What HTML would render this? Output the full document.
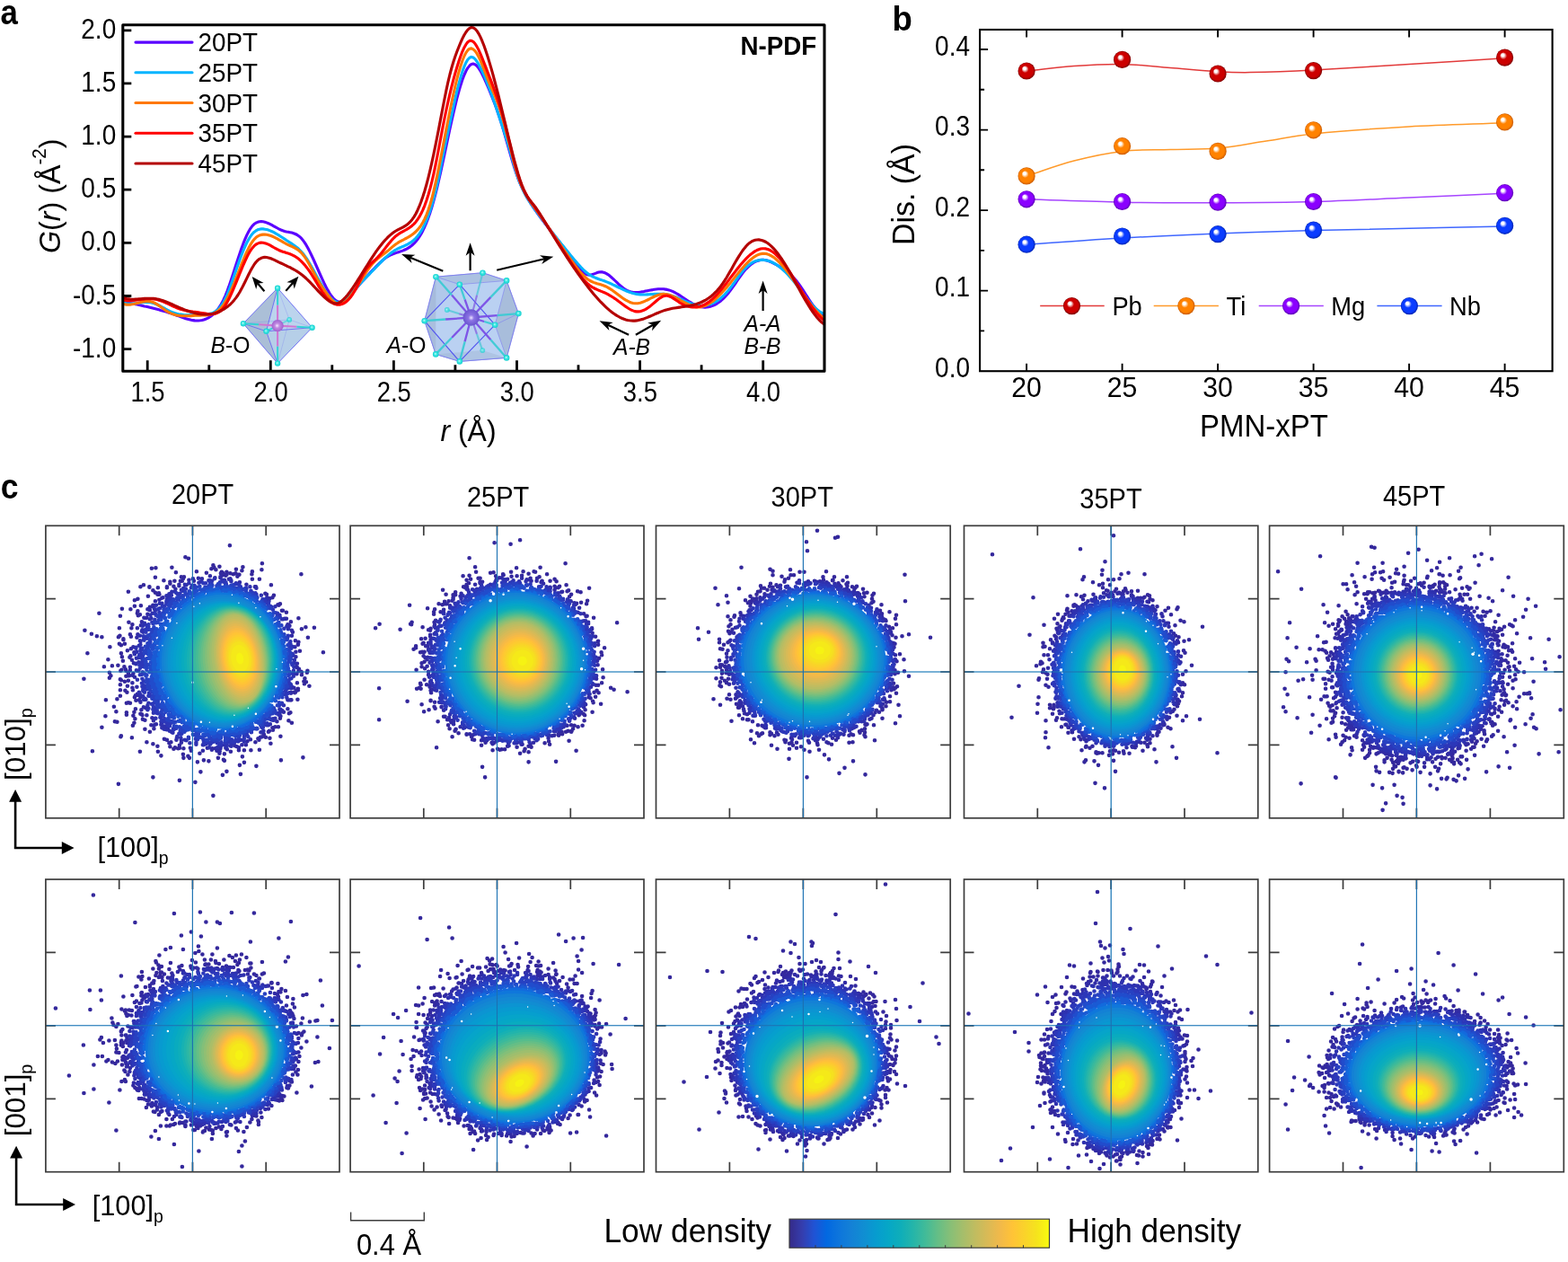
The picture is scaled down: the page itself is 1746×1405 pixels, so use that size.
<!DOCTYPE html>
<html lang="en"><head><meta charset="utf-8"><title>Figure</title>
<style>html,body{margin:0;padding:0;background:#fff}svg{display:block}text{font-family:"Liberation Sans",sans-serif;fill:#000}</style></head><body>
<svg width="1746" height="1405" viewBox="0 0 1746 1405">
<rect width="1746" height="1405" fill="#fff"/>
<g id="pa">
<clipPath id="ca"><rect x="136.8" y="27.7" width="781.2" height="385.5"/></clipPath>
<path d="M164.2 413.2v-12M301.3 413.2v-12M438.4 413.2v-12M575.5 413.2v-12M712.6 413.2v-12M849.7 413.2v-12M232.8 413.2v-7M369.8 413.2v-7M506.9 413.2v-7M644 413.2v-7M781.1 413.2v-7M136.8 33.8h9.5M136.8 92.9h9.5M136.8 152.1h9.5M136.8 211.2h9.5M136.8 270.4h9.5M136.8 329.5h9.5M136.8 388.7h9.5" stroke="#000" stroke-width="2.8" fill="none"/>
<g clip-path="url(#ca)" fill="none" stroke-width="3.1" stroke-linejoin="round" stroke-linecap="round">
<path d="M136.9 335.9l2 0.4 2 0.4 2 0.4 2 0.4 2 0.4 2 0.4 2 0.4 2 0.4 2 0.5 2 0.4 2 0.4 2 0.5 2 0.4 2 0.5 2 0.5 2 0.5 2 0.5 2 0.5 2 0.5 2 0.5 2 0.6 2 0.5 2 0.6 2 0.6 2 0.7 2 0.6 2 0.7 2 0.6 2 0.7 2 0.8 2 0.7 2 0.7 2 0.8 2 0.7 2 0.6 2 0.6 2 0.5 2 0.5 2 0.3 2 0.3 2 0.1 2 0 2 -0.2 2 -0.3 2 -0.5 2 -0.7 2 -0.9 2 -1.1 2 -1.3 2 -1.6 2 -1.8 2 -2.2 2 -2.5 2 -2.9 2 -3.4 2 -3.9 2 -4.4 2 -5 2 -5.4 2 -5.8 2 -6.1 2 -6.2 2 -6.2 2 -6.2 2 -6 2 -5.8 2 -5.4 2 -5 2 -4.6 2 -3.9 2 -3.4 2 -2.7 2 -2 2 -1.4 2 -0.9 2 -0.5 2 -0.2 2 0.2 2 0.4 2 0.7 2 0.8 2 0.9 2 1.1 2 1.1 2 1.1 2 1.1 2 1.1 2 0.9 2 0.8 2 0.6 2 0.5 2 0.4 2 0.4 2 0.4 2 0.6 2 0.8 2 1 2 1.4 2 1.7 2 2.3 2 2.7 2 3.1 2 3.6 2 3.8 2 4.1 2 4.3 2 4.5 2 4.5 2 4.5 2 4.5 2 4.4 2 4.3 2 4 2 3.7 2 3.4 2 3 2 2.5 2 2 2 1.4 2 0.8 2 0.2 2 -0.4 2 -0.9 2 -1.3 2 -1.6 2 -2 2 -2.1 2 -2.3 2 -2.4 2 -2.5 2 -2.3 2 -2.3 2 -2.3 2 -2.2 2 -2.2 2 -2.2 2 -2.1 2 -2.2 2 -2.1 2 -2.1 2 -2.1 2 -2 2 -1.9 2 -1.9 2 -1.7 2 -1.6 2 -1.4 2 -1.2 2 -1 2 -0.9 2 -0.7 2 -0.7 2 -0.7 2 -0.6 2 -0.7 2 -0.7 2 -0.9 2 -0.9 2 -1.2 2 -1.3 2 -1.6 2 -1.8 2 -2.2 2 -2.5 2 -2.8 2 -3.3 2 -3.7 2 -4.2 2 -4.7 2 -5.2 2 -5.7 2 -6.4 2 -6.9 2 -7.5 2 -8 2 -8.6 2 -8.9 2 -9.2 2 -9.3 2 -9.5 2 -9.4 2 -9.4 2 -9.1 2 -8.9 2 -8.5 2 -8.1 2 -7.4 2 -6.9 2 -6.1 2 -5.3 2 -4.4 2 -3.5 2 -2.5 2 -1.5 2 -0.5 2 0.6 2 1.6 2 2.4 2 3.1 2 3.7 2 4.2 2 4.4 2 4.6 2 4.8 2 4.8 2 5 2 5.2 2 5.5 2 5.7 2 6 2 6.4 2 6.7 2 6.9 2 7 2 7.1 2 7 2 6.7 2 6.5 2 6 2 5.6 2 5 2 4.6 2 4.2 2 3.9 2 3.6 2 3.3 2 3.2 2 3 2 2.9 2 2.9 2 2.8 2 2.8 2 2.7 2 2.6 2 2.7 2 2.6 2 2.6 2 2.5 2 2.6 2 2.5 2 2.6 2 2.5 2 2.6 2 2.6 2 2.5 2 2.6 2 2.7 2 2.6 2 2.7 2 2.7 2 2.8 2 2.7 2 2.7 2 2.5 2 2.2 2 2 2 1.6 2 1.2 2 0.6 2 0.1 2 -0.3 2 -0.7 2 -0.7 2 -0.8 2 -0.6 2 -0.2 2 0.1 2 0.6 2 0.9 2 1.2 2 1.5 2 1.7 2 1.8 2 1.9 2 1.9 2 1.9 2 1.8 2 1.7 2 1.6 2 1.3 2 1 2 0.8 2 0.6 2 0.3 2 0.2 2 0 2 -0.1 2 -0.3 2 -0.3 2 -0.3 2 -0.5 2 -0.4 2 -0.4 2 -0.4 2 -0.3 2 -0.4 2 -0.2 2 -0.2 2 -0.1 2 0 2 0.1 2 0.3 2 0.3 2 0.5 2 0.7 2 0.8 2 1 2 1.1 2 1.1 2 1.3 2 1.3 2 1.3 2 1.4 2 1.3 2 1.3 2 1.2 2 1.2 2 1.1 2 0.9 2 0.8 2 0.6 2 0.4 2 0.3 2 0.1 2 -0.1 2 -0.3 2 -0.4 2 -0.7 2 -0.8 2 -1 2 -1.2 2 -1.4 2 -1.5 2 -1.8 2 -2 2 -2.1 2 -2.4 2 -2.5 2 -2.7 2 -2.8 2 -2.9 2 -3 2 -2.9 2 -2.8 2 -2.7 2 -2.5 2 -2.3 2 -2 2 -1.8 2 -1.6 2 -1.4 2 -1.1 2 -0.9 2 -0.6 2 -0.4 2 -0.1 2 0 2 0.4 2 0.5 2 0.7 2 0.8 2 1 2 1.1 2 1.1 2 1.2 2 1.2 2 1.3 2 1.3 2 1.4 2 1.5 2 1.6 2 1.8 2 2 2 2.1 2 2.4 2 2.6 2 2.8 2 2.9 2 3.1 2 3.1 2 3.1 2 3.1 2 3 2 2.9 2 2.6 2 2.4 2 2.2 2 1.8 2 1.4 2 1 1.5 0.4" stroke="#5a00ff"/>
<path d="M136.9 336.6l2 0.6 2 0.5 2 0.3 2 0.1 2 -0.1 2 -0.1 2 -0.2 2 -0.2 2 -0.3 2 -0.2 2 -0.3 2 -0.2 2 0 2 0 2 0.1 2 0.4 2 0.5 2 0.7 2 0.8 2 1 2 1 2 1.1 2 1.1 2 1.1 2 1.1 2 1 2 0.9 2 0.8 2 0.6 2 0.6 2 0.5 2 0.3 2 0.3 2 0.3 2 0.1 2 0.1 2 0 2 0 2 0 2 -0.1 2 -0.1 2 -0.1 2 -0.1 2 -0.2 2 -0.1 2 -0.1 2 -0.2 2 -0.3 2 -0.5 2 -0.7 2 -1 2 -1.3 2 -1.8 2 -2.1 2 -2.7 2 -3.2 2 -3.8 2 -4.4 2 -4.9 2 -5.3 2 -5.6 2 -5.8 2 -5.8 2 -5.7 2 -5.7 2 -5.3 2 -5 2 -4.6 2 -4.3 2 -3.7 2 -3.2 2 -2.7 2 -2.1 2 -1.5 2 -1.1 2 -0.6 2 -0.3 2 0 2 0.3 2 0.4 2 0.5 2 0.8 2 0.8 2 1 2 1.1 2 1.2 2 1.2 2 1.3 2 1.3 2 1.3 2 1.4 2 1.3 2 1.3 2 1.3 2 1.3 2 1.5 2 1.5 2 1.8 2 2 2 2.2 2 2.6 2 2.8 2 3.1 2 3.3 2 3.5 2 3.6 2 3.6 2 3.7 2 3.6 2 3.6 2 3.5 2 3.3 2 3.1 2 2.8 2 2.5 2 2.1 2 1.8 2 1.3 2 0.9 2 0.2 2 -0.2 2 -0.7 2 -1.1 2 -1.5 2 -1.7 2 -2 2 -2.1 2 -2.3 2 -2.3 2 -2.3 2 -2.3 2 -2.1 2 -2.2 2 -2.1 2 -2 2 -2.1 2 -2 2 -2.1 2 -2 2 -2.1 2 -2.1 2 -2.1 2 -2.1 2 -2 2 -2 2 -1.9 2 -1.8 2 -1.8 2 -1.6 2 -1.5 2 -1.3 2 -1.2 2 -1.1 2 -0.9 2 -0.9 2 -0.8 2 -0.9 2 -0.9 2 -1.1 2 -1.2 2 -1.4 2 -1.6 2 -1.9 2 -2.3 2 -2.6 2 -3 2 -3.5 2 -4 2 -4.5 2 -5.1 2 -5.7 2 -6.3 2 -7.1 2 -7.7 2 -8.5 2 -9.2 2 -10 2 -10.3 2 -10.1 2 -9.5 2 -9.2 2 -9.2 2 -9.3 2 -9.5 2 -9.1 2 -8.5 2 -7.9 2 -7.1 2 -6.5 2 -5.5 2 -4.5 2 -3.3 2 -2.1 2 -0.8 2 0.6 2 1.6 2 2.6 2 3.2 2 3.8 2 4.1 2 4.4 2 4.6 2 5 2 5.1 2 5.4 2 5.6 2 5.7 2 5.8 2 6 2 6 2 6.1 2 6.2 2 6.3 2 6.4 2 6.7 2 7 2 7.1 2 6.9 2 6.6 2 5.9 2 5.4 2 4.8 2 4.3 2 3.9 2 3.5 2 3.2 2 3.1 2 2.9 2 2.8 2 2.8 2 2.8 2 2.7 2 2.7 2 2.7 2 2.7 2 2.6 2 2.6 2 2.6 2 2.6 2 2.5 2 2.6 2 2.5 2 2.5 2 2.5 2 2.4 2 2.5 2 2.4 2 2.4 2 2.5 2 2.4 2 2.4 2 2.3 2 2.4 2 2.2 2 2.2 2 2.1 2 1.9 2 1.7 2 1.6 2 1.4 2 1.1 2 1 2 0.9 2 0.8 2 0.8 2 0.6 2 0.7 2 0.7 2 0.8 2 0.8 2 0.8 2 0.9 2 1 2 0.9 2 1 2 1 2 0.9 2 1 2 0.9 2 0.9 2 0.8 2 0.7 2 0.7 2 0.6 2 0.5 2 0.4 2 0.3 2 0.2 2 0.1 2 0 2 0 2 -0.1 2 -0.1 2 -0.2 2 -0.1 2 -0.1 2 -0.1 2 -0.1 2 0 2 0 2 0.1 2 0.3 2 0.3 2 0.4 2 0.6 2 0.6 2 0.7 2 0.8 2 0.8 2 0.9 2 0.8 2 0.9 2 0.9 2 0.8 2 0.8 2 0.8 2 0.7 2 0.6 2 0.5 2 0.4 2 0.2 2 0.1 2 0 2 -0.2 2 -0.3 2 -0.4 2 -0.6 2 -0.8 2 -0.9 2 -1.1 2 -1.2 2 -1.5 2 -1.5 2 -1.8 2 -1.9 2 -2.2 2 -2.3 2 -2.5 2 -2.6 2 -2.8 2 -2.8 2 -2.8 2 -2.8 2 -2.7 2 -2.5 2 -2.4 2 -2 2 -1.8 2 -1.6 2 -1.4 2 -1.1 2 -0.9 2 -0.6 2 -0.5 2 -0.3 2 0 2 0.1 2 0.2 2 0.5 2 0.6 2 0.8 2 0.9 2 1.1 2 1.3 2 1.4 2 1.5 2 1.7 2 1.8 2 1.9 2 2 2 2.2 2 2.3 2 2.3 2 2.5 2 2.6 2 2.6 2 2.7 2 2.6 2 2.7 2 2.6 2 2.6 2 2.5 2 2.4 2 2.2 2 2 2 1.9 2 1.7 2 1.4 2 1.2 2 0.8 1.5 0.5" stroke="#00b4ff"/>
<path d="M136.9 338.3l2 0.5 2 0.3 2 0.1 2 -0.1 2 -0.3 2 -0.4 2 -0.5 2 -0.5 2 -0.5 2 -0.5 2 -0.5 2 -0.3 2 -0.2 2 0 2 0.2 2 0.4 2 0.7 2 1 2 1.2 2 1.3 2 1.4 2 1.5 2 1.4 2 1.4 2 1.2 2 1.1 2 0.9 2 0.7 2 0.6 2 0.5 2 0.4 2 0.2 2 0.2 2 0.1 2 0 2 0 2 -0.1 2 -0.1 2 -0.1 2 -0.2 2 -0.1 2 -0.1 2 0 2 -0.1 2 0 2 -0.1 2 -0.1 2 -0.3 2 -0.4 2 -0.7 2 -0.8 2 -1.2 2 -1.4 2 -1.8 2 -2.2 2 -2.7 2 -3.1 2 -3.6 2 -4 2 -4.3 2 -4.7 2 -4.8 2 -5 2 -5.2 2 -5.1 2 -5.1 2 -4.9 2 -4.8 2 -4.5 2 -4.1 2 -3.7 2 -3.2 2 -2.6 2 -2 2 -1.5 2 -1.1 2 -0.6 2 -0.3 2 0 2 0.2 2 0.4 2 0.6 2 0.7 2 0.9 2 1 2 1 2 1.2 2 1.1 2 1.1 2 1.2 2 1.1 2 1 2 0.9 2 0.9 2 0.9 2 1.1 2 1.2 2 1.5 2 1.7 2 2.2 2 2.5 2 3 2 3.3 2 3.5 2 3.7 2 3.8 2 3.7 2 3.6 2 3.4 2 3.2 2 3.1 2 2.9 2 2.8 2 2.7 2 2.6 2 2.4 2 2.1 2 1.6 2 1.1 2 0.5 2 -0.1 2 -0.6 2 -1 2 -1.4 2 -1.9 2 -2.1 2 -2.5 2 -2.7 2 -2.8 2 -3.1 2 -3.1 2 -3.2 2 -3.2 2 -3.2 2 -3.1 2 -3.1 2 -2.8 2 -2.7 2 -2.4 2 -2.1 2 -1.9 2 -1.8 2 -1.6 2 -1.5 2 -1.5 2 -1.5 2 -1.6 2 -1.6 2 -1.8 2 -1.7 2 -1.6 2 -1.5 2 -1.4 2 -1.2 2 -1.1 2 -1 2 -1.1 2 -1 2 -1.2 2 -1.2 2 -1.3 2 -1.6 2 -1.7 2 -2.1 2 -2.4 2 -2.7 2 -3.3 2 -3.9 2 -4.5 2 -5.3 2 -6.1 2 -6.9 2 -7.9 2 -8.7 2 -9.3 2 -9.8 2 -10.1 2 -10.3 2 -10.4 2 -10.4 2 -10.2 2 -10 2 -9.7 2 -9.3 2 -8.8 2 -8.2 2 -7.5 2 -6.8 2 -5.9 2 -5 2 -3.9 2 -2.8 2 -1.6 2 -0.3 2 0.9 2 1.8 2 2.8 2 3.6 2 4.2 2 4.7 2 5 2 5.3 2 5.3 2 5 2 4.7 2 4.5 2 4.5 2 4.9 2 5.3 2 5.9 2 6.4 2 7 2 7.5 2 7.8 2 8.1 2 8.1 2 8 2 7.6 2 7.1 2 6.4 2 5.7 2 5 2 4.4 2 3.9 2 3.5 2 3.2 2 3 2 2.8 2 2.8 2 2.8 2 2.8 2 2.9 2 2.8 2 2.9 2 2.9 2 2.9 2 2.9 2 3 2 2.9 2 2.9 2 2.9 2 2.9 2 2.9 2 2.9 2 2.9 2 2.9 2 2.8 2 2.8 2 2.8 2 2.8 2 2.7 2 2.7 2 2.6 2 2.5 2 2.3 2 2.2 2 2 2 1.8 2 1.5 2 1.3 2 1 2 0.9 2 0.7 2 0.6 2 0.5 2 0.6 2 0.6 2 0.8 2 0.8 2 1.1 2 1.2 2 1.3 2 1.4 2 1.5 2 1.5 2 1.5 2 1.5 2 1.5 2 1.4 2 1.2 2 1.1 2 1 2 0.8 2 0.5 2 0.3 2 0 2 -0.2 2 -0.4 2 -0.6 2 -0.8 2 -0.9 2 -0.9 2 -1 2 -1.1 2 -0.9 2 -1 2 -0.8 2 -0.7 2 -0.6 2 -0.3 2 -0.2 2 0.1 2 0.3 2 0.5 2 0.7 2 0.8 2 0.9 2 1 2 1.1 2 1.1 2 1.1 2 1.1 2 1.1 2 1 2 1 2 0.8 2 0.8 2 0.5 2 0.4 2 0.2 2 0 2 -0.3 2 -0.5 2 -0.6 2 -0.9 2 -1.1 2 -1.2 2 -1.4 2 -1.5 2 -1.7 2 -1.8 2 -2 2 -2 2 -2.1 2 -2.3 2 -2.3 2 -2.4 2 -2.4 2 -2.5 2 -2.5 2 -2.5 2 -2.5 2 -2.4 2 -2.5 2 -2.3 2 -2.3 2 -2.1 2 -2 2 -1.9 2 -1.7 2 -1.6 2 -1.3 2 -1.1 2 -0.9 2 -0.6 2 -0.3 2 -0.1 2 0.2 2 0.6 2 0.7 2 1.1 2 1.2 2 1.5 2 1.7 2 1.8 2 2 2 2.2 2 2.4 2 2.4 2 2.6 2 2.6 2 2.8 2 2.8 2 2.8 2 2.9 2 2.9 2 2.9 2 2.9 2 2.9 2 2.8 2 2.8 2 2.7 2 2.6 2 2.5 2 2.4 2 2.3 2 2.1 2 2 2 1.8 2 1.5 1.5 1.1" stroke="#ff7800"/>
<path d="M136.9 334l2 0.4 2 0.2 2 0.1 2 -0.1 2 0 2 -0.2 2 -0.2 2 -0.3 2 -0.2 2 -0.3 2 -0.2 2 -0.3 2 -0.1 2 -0.1 2 -0.1 2 0.1 2 0.2 2 0.3 2 0.4 2 0.6 2 0.6 2 0.8 2 0.8 2 0.9 2 0.9 2 1 2 0.9 2 0.9 2 0.9 2 0.8 2 0.8 2 0.7 2 0.5 2 0.6 2 0.4 2 0.4 2 0.4 2 0.3 2 0.3 2 0.2 2 0.3 2 0.3 2 0.3 2 0.3 2 0.3 2 0.3 2 0.4 2 0.2 2 0.1 2 -0.1 2 -0.3 2 -0.6 2 -0.9 2 -1.3 2 -1.7 2 -2.3 2 -2.7 2 -3.3 2 -3.8 2 -4.2 2 -4.4 2 -4.7 2 -4.9 2 -5 2 -4.9 2 -4.9 2 -4.8 2 -4.5 2 -4.2 2 -3.9 2 -3.4 2 -2.8 2 -2.3 2 -1.7 2 -1.1 2 -0.7 2 -0.3 2 0.1 2 0.5 2 0.6 2 0.9 2 1 2 1.1 2 1.2 2 1.1 2 1.1 2 1 2 0.8 2 0.7 2 0.6 2 0.7 2 0.6 2 0.7 2 0.8 2 1 2 1.1 2 1.4 2 1.5 2 1.8 2 2 2 2.2 2 2.4 2 2.6 2 2.8 2 3.1 2 3.2 2 3.2 2 3.4 2 3.3 2 3.2 2 3.1 2 2.8 2 2.7 2 2.3 2 2 2 1.6 2 1.3 2 0.9 2 0.6 2 0.2 2 -0.2 2 -0.5 2 -0.9 2 -1.3 2 -1.7 2 -2.1 2 -2.4 2 -2.9 2 -3.3 2 -3.7 2 -4.1 2 -4.2 2 -4.2 2 -3.7 2 -3.2 2 -2.7 2 -2.3 2 -2.2 2 -1.9 2 -1.8 2 -1.9 2 -2 2 -2.2 2 -2.4 2 -2.5 2 -2.6 2 -2.6 2 -2.5 2 -2.4 2 -2.3 2 -2.1 2 -1.8 2 -1.5 2 -1.4 2 -1.1 2 -1.1 2 -1.1 2 -1.1 2 -1.2 2 -1.4 2 -1.6 2 -1.8 2 -2.2 2 -2.7 2 -3.1 2 -3.6 2 -4.2 2 -4.8 2 -5.6 2 -6.2 2 -7 2 -7.8 2 -8.6 2 -9.5 2 -10.1 2 -10.5 2 -10.6 2 -10.5 2 -10.2 2 -9.7 2 -9.2 2 -8.7 2 -8.2 2 -7.7 2 -7.3 2 -6.8 2 -6.3 2 -5.8 2 -5.2 2 -4.4 2 -3.5 2 -2.6 2 -1.4 2 -0.1 2 1 2 2.2 2 3.1 2 3.8 2 4.4 2 4.8 2 5.1 2 5.2 2 5.2 2 5.1 2 5.2 2 5.3 2 5.5 2 5.7 2 6 2 6.3 2 6.6 2 7.2 2 7.6 2 8 2 8.3 2 8.3 2 8.2 2 7.8 2 7.4 2 6.6 2 5.8 2 5.2 2 4.5 2 3.9 2 3.6 2 3.2 2 2.9 2 2.9 2 2.7 2 2.9 2 2.8 2 2.9 2 3 2 3 2 3 2 3 2 3.1 2 3.1 2 3.1 2 3.1 2 3.1 2 3.1 2 3.1 2 3.1 2 3.1 2 3.1 2 3.1 2 3.1 2 3 2 3 2 2.9 2 2.9 2 2.9 2 2.7 2 2.6 2 2.5 2 2.2 2 2.1 2 1.8 2 1.6 2 1.4 2 1.2 2 1 2 0.9 2 0.9 2 0.8 2 0.8 2 0.8 2 1 2 1 2 1.1 2 1.2 2 1.3 2 1.3 2 1.4 2 1.5 2 1.4 2 1.5 2 1.5 2 1.5 2 1.3 2 1.3 2 1.1 2 0.8 2 0.7 2 0.3 2 0 2 -0.2 2 -0.6 2 -0.8 2 -1 2 -1.2 2 -1.4 2 -1.6 2 -1.7 2 -1.7 2 -1.7 2 -1.7 2 -1.5 2 -1.2 2 -0.9 2 -0.5 2 0 2 0.5 2 0.8 2 1.1 2 1.3 2 1.3 2 1.4 2 1.4 2 1.2 2 1 2 0.9 2 0.7 2 0.5 2 0.4 2 0.2 2 0.1 2 -0.1 2 -0.3 2 -0.4 2 -0.6 2 -0.8 2 -1 2 -1.1 2 -1.3 2 -1.5 2 -1.7 2 -1.8 2 -2 2 -2.1 2 -2.3 2 -2.3 2 -2.5 2 -2.5 2 -2.5 2 -2.6 2 -2.7 2 -2.6 2 -2.6 2 -2.6 2 -2.6 2 -2.5 2 -2.4 2 -2.4 2 -2.2 2 -2.1 2 -2 2 -1.9 2 -1.6 2 -1.5 2 -1.3 2 -1.1 2 -0.8 2 -0.6 2 -0.4 2 0 2 0.2 2 0.6 2 0.8 2 1.1 2 1.4 2 1.6 2 1.9 2 2 2 2.3 2 2.4 2 2.6 2 2.7 2 2.9 2 3 2 3 2 3.1 2 3.2 2 3.3 2 3.2 2 3.2 2 3.3 2 3.2 2 3.1 2 3.1 2 3 2 3 2 2.8 2 2.6 2 2.6 2 2.3 2 2.2 2 1.9 2 1.8 1.5 1.1" stroke="#ff0000"/>
<path d="M136.9 331.5l2 0.6 2 0.4 2 0.3 2 0.3 2 0.1 2 0 2 -0.1 2 0 2 -0.2 2 -0.1 2 -0.2 2 -0.2 2 -0.1 2 -0.1 2 0 2 0 2 0.1 2 0.2 2 0.4 2 0.4 2 0.6 2 0.6 2 0.7 2 0.7 2 0.9 2 0.8 2 0.9 2 0.9 2 0.9 2 0.9 2 0.9 2 0.9 2 0.8 2 0.8 2 0.8 2 0.8 2 0.6 2 0.7 2 0.5 2 0.5 2 0.5 2 0.4 2 0.3 2 0.2 2 0.1 2 0 2 0 2 -0.2 2 -0.2 2 -0.4 2 -0.5 2 -0.6 2 -0.7 2 -0.9 2 -1 2 -1.1 2 -1.3 2 -1.4 2 -1.6 2 -1.8 2 -2.1 2 -2.3 2 -2.5 2 -2.9 2 -3.3 2 -3.6 2 -3.9 2 -4 2 -4.1 2 -4.1 2 -3.9 2 -3.6 2 -3.3 2 -2.7 2 -2.1 2 -1.6 2 -1 2 -0.7 2 -0.2 2 0.1 2 0.4 2 0.6 2 0.8 2 0.9 2 0.9 2 1 2 1 2 0.9 2 0.9 2 1 2 0.9 2 1 2 0.9 2 1.1 2 1.1 2 1.1 2 1.2 2 1.4 2 1.4 2 1.5 2 1.7 2 1.8 2 1.9 2 2 2 2.1 2 2.1 2 2.2 2 2.1 2 2.2 2 2 2 2.1 2 1.9 2 1.8 2 1.6 2 1.4 2 1.2 2 0.8 2 0.5 2 -0.1 2 -0.6 2 -1 2 -1.5 2 -1.8 2 -2.1 2 -2.3 2 -2.6 2 -2.7 2 -2.9 2 -2.9 2 -3.1 2 -3.1 2 -3.2 2 -3.2 2 -3.2 2 -3.2 2 -3.2 2 -3.2 2 -3.1 2 -3.1 2 -3 2 -2.9 2 -2.7 2 -2.7 2 -2.5 2 -2.4 2 -2.3 2 -2.1 2 -2 2 -1.8 2 -1.7 2 -1.4 2 -1.3 2 -1.1 2 -1 2 -1 2 -1 2 -1.2 2 -1.3 2 -1.7 2 -1.9 2 -2.4 2 -2.8 2 -3.4 2 -4 2 -4.5 2 -5.2 2 -5.7 2 -6.3 2 -7 2 -7.6 2 -8.2 2 -8.8 2 -9.3 2 -9.7 2 -10.1 2 -10.2 2 -10.5 2 -10.4 2 -10.2 2 -9.9 2 -9.2 2 -8.4 2 -7.5 2 -6.7 2 -6 2 -5.5 2 -5.1 2 -4.8 2 -4.5 2 -3.9 2 -3.3 2 -2.6 2 -1.7 2 -0.9 2 0.3 2 1.2 2 2.2 2 3.1 2 3.8 2 4.6 2 5.1 2 5.7 2 6.1 2 6.5 2 6.8 2 7.1 2 7.5 2 7.6 2 7.9 2 8.1 2 8.2 2 8.3 2 8.3 2 8.4 2 8.2 2 8.2 2 7.9 2 7.7 2 7.2 2 6.9 2 6.3 2 5.8 2 5.1 2 4.3 2 3.6 2 3 2 2.5 2 2.4 2 2.5 2 2.6 2 3 2 3.1 2 3.2 2 3.3 2 3.3 2 3.3 2 3.3 2 3.3 2 3.2 2 3.3 2 3.2 2 3.2 2 3.2 2 3.1 2 3.1 2 3.1 2 3.1 2 3 2 3.1 2 2.9 2 3 2 2.9 2 2.8 2 2.8 2 2.8 2 2.8 2 2.6 2 2.7 2 2.6 2 2.5 2 2.5 2 2.4 2 2.3 2 2.3 2 2.2 2 2.2 2 2 2 2 2 1.9 2 1.8 2 1.7 2 1.6 2 1.5 2 1.4 2 1.3 2 1.1 2 1.1 2 0.9 2 0.8 2 0.6 2 0.5 2 0.4 2 0.2 2 0.1 2 0 2 -0.2 2 -0.4 2 -0.4 2 -0.6 2 -0.6 2 -0.8 2 -0.7 2 -0.9 2 -0.8 2 -0.9 2 -0.9 2 -0.9 2 -0.8 2 -0.8 2 -0.8 2 -0.7 2 -0.7 2 -0.5 2 -0.5 2 -0.5 2 -0.4 2 -0.3 2 -0.3 2 -0.3 2 -0.3 2 -0.3 2 -0.3 2 -0.3 2 -0.3 2 -0.3 2 -0.4 2 -0.5 2 -0.5 2 -0.5 2 -0.7 2 -0.7 2 -0.8 2 -1 2 -1 2 -1.2 2 -1.3 2 -1.4 2 -1.6 2 -1.8 2 -2 2 -2.1 2 -2.4 2 -2.5 2 -2.8 2 -3 2 -3.2 2 -3.4 2 -3.4 2 -3.5 2 -3.6 2 -3.5 2 -3.4 2 -3.3 2 -3.1 2 -3 2 -2.6 2 -2.4 2 -2.1 2 -1.6 2 -1.4 2 -1 2 -0.6 2 -0.3 2 -0.1 2 0.3 2 0.5 2 0.8 2 1 2 1.3 2 1.6 2 1.7 2 2 2 2.2 2 2.4 2 2.6 2 2.8 2 2.9 2 3.1 2 3.2 2 3.4 2 3.4 2 3.5 2 3.6 2 3.7 2 3.6 2 3.6 2 3.7 2 3.6 2 3.5 2 3.5 2 3.3 2 3.3 2 3.1 2 2.9 2 2.8 2 2.6 2 2.4 2 2.1 2 1.9 2 1.6 1.5 1" stroke="#b40000"/>
</g>
<rect x="136.8" y="27.7" width="781.2" height="385.5" fill="none" stroke="#000" stroke-width="3.1" stroke-linejoin="round"/>
<text transform="translate(129.2 42.8) scale(0.9174 1)" font-size="30.52" text-anchor="end">2.0</text>
<text transform="translate(129.2 101.95) scale(0.9174 1)" font-size="30.52" text-anchor="end">1.5</text>
<text transform="translate(129.2 161.1) scale(0.9174 1)" font-size="30.52" text-anchor="end">1.0</text>
<text transform="translate(129.2 220.25) scale(0.9174 1)" font-size="30.52" text-anchor="end">0.5</text>
<text transform="translate(129.2 279.4) scale(0.9174 1)" font-size="30.52" text-anchor="end">0.0</text>
<text transform="translate(129.2 338.55) scale(0.9174 1)" font-size="30.52" text-anchor="end">-0.5</text>
<text transform="translate(129.2 397.7) scale(0.9174 1)" font-size="30.52" text-anchor="end">-1.0</text>
<text transform="translate(164.5 446.6) scale(0.8991 1)" font-size="30.52" text-anchor="middle">1.5</text>
<text transform="translate(301.6 446.6) scale(0.8991 1)" font-size="30.52" text-anchor="middle">2.0</text>
<text transform="translate(438.7 446.6) scale(0.8991 1)" font-size="30.52" text-anchor="middle">2.5</text>
<text transform="translate(575.8 446.6) scale(0.8991 1)" font-size="30.52" text-anchor="middle">3.0</text>
<text transform="translate(712.9 446.6) scale(0.8991 1)" font-size="30.52" text-anchor="middle">3.5</text>
<text transform="translate(850 446.6) scale(0.8991 1)" font-size="30.52" text-anchor="middle">4.0</text>
<text transform="translate(521.5 491) scale(0.945 1)" font-size="33.79" text-anchor="middle"><tspan font-style="italic">r</tspan> (Å)</text>
<text transform="translate(67 218.3) rotate(-90) scale(0.9541 1)" font-size="33.79" text-anchor="middle"><tspan font-style="italic">G</tspan>(<tspan font-style="italic">r</tspan>) (Å<tspan font-size="21.5" dy="-16">-2</tspan><tspan dy="16">)</tspan></text>
<text transform="translate(0.5 27) scale(0.8991 1)" font-size="38.7" font-weight="bold">a</text>
<text transform="translate(909.3 60.6) scale(0.922 1)" font-size="30.08" text-anchor="end" font-weight="bold">N-PDF</text>
<path d="M151 47.1H214" stroke="#5a00ff" stroke-width="3.1" stroke-linecap="round"/>
<text transform="translate(220.5 57.3) scale(0.945 1)" font-size="29.43">20PT</text>
<path d="M151 80.8H214" stroke="#00b4ff" stroke-width="3.1" stroke-linecap="round"/>
<text transform="translate(220.5 91.02) scale(0.945 1)" font-size="29.43">25PT</text>
<path d="M151 114.5H214" stroke="#ff7800" stroke-width="3.1" stroke-linecap="round"/>
<text transform="translate(220.5 124.74) scale(0.945 1)" font-size="29.43">30PT</text>
<path d="M151 148.3H214" stroke="#ff0000" stroke-width="3.1" stroke-linecap="round"/>
<text transform="translate(220.5 158.46) scale(0.945 1)" font-size="29.43">35PT</text>
<path d="M151 182H214" stroke="#b40000" stroke-width="3.1" stroke-linecap="round"/>
<text transform="translate(220.5 192.18) scale(0.945 1)" font-size="29.43">45PT</text>
<text transform="translate(234.5 392.5) scale(0.945 1)" font-size="26.16"><tspan font-style="italic">B</tspan>-O</text>
<text transform="translate(430.5 392.5) scale(0.945 1)" font-size="26.16"><tspan font-style="italic">A</tspan>-O</text>
<text transform="translate(703.5 395) scale(0.945 1)" font-size="26.16" text-anchor="middle" font-style="italic">A-B</text>
<text transform="translate(849 369.3) scale(0.945 1)" font-size="26.16" text-anchor="middle" font-style="italic">A-A</text>
<text transform="translate(849 394.3) scale(0.945 1)" font-size="26.16" text-anchor="middle" font-style="italic">B-B</text>
<path d="M294.4 324.3L287 315.5" stroke="#000" stroke-width="2.2" fill="none"/><path d="M280.7 308.1L293.6 314.9L287 315.5L285.2 322Z" fill="#000"/>
<path d="M318.3 323.9L326 315" stroke="#000" stroke-width="2.2" fill="none"/><path d="M332.4 307.7L327.7 321.5L326 315L319.4 314.3Z" fill="#000"/>
<path d="M493.3 301.7L456.8 286.8" stroke="#000" stroke-width="2.2" fill="none"/><path d="M447.1 282.9L462.4 283.7L456.8 286.8L458.6 293Z" fill="#000"/>
<path d="M523.6 301.3L523.6 280.7" stroke="#000" stroke-width="2.2" fill="none"/><path d="M523.6 270.3L528.6 284.8L523.6 280.7L518.6 284.8Z" fill="#000"/>
<path d="M553.2 300.8L606.1 288.2" stroke="#000" stroke-width="2.2" fill="none"/><path d="M616.3 285.8L603.3 294L606.1 288.2L601 284.3Z" fill="#000"/>
<path d="M700.1 372.7L676.9 361.7" stroke="#000" stroke-width="2.2" fill="none"/><path d="M667.5 357.2L682.7 358.9L676.9 361.7L678.4 367.9Z" fill="#000"/>
<path d="M707.9 372.7L727.1 361.8" stroke="#000" stroke-width="2.2" fill="none"/><path d="M736.2 356.7L726 368.2L727.1 361.8L721.1 359.5Z" fill="#000"/>
<path d="M849.6 346L849.6 322.9" stroke="#000" stroke-width="2.2" fill="none"/><path d="M849.6 312.5L854.6 327L849.6 322.9L844.6 327Z" fill="#000"/>
</g>
<g id="xt">
<defs><radialGradient id="gO" cx="0.5" cy="0.5" r="0.5" fx="0.42" fy="0.4"><stop offset="0" stop-color="#c8fffb"/><stop offset="0.45" stop-color="#3fe8e2"/><stop offset="1" stop-color="#12cfd0"/></radialGradient><radialGradient id="gB" cx="0.5" cy="0.5" r="0.5" fx="0.45" fy="0.5"><stop offset="0" stop-color="#f4e6ff"/><stop offset="0.4" stop-color="#c08ae0"/><stop offset="1" stop-color="#a060d0"/></radialGradient><radialGradient id="gA" cx="0.5" cy="0.5" r="0.5" fx="0.5" fy="0.52"><stop offset="0" stop-color="#ece4ff"/><stop offset="0.35" stop-color="#8c74e4"/><stop offset="1" stop-color="#6a55cf"/></radialGradient></defs>
<path d="M309.1 320.7L347.6 364.7L309.1 404.6L270.9 360.2Z" fill="#a9c3e2" fill-opacity="0.55"/>
<path d="M309.1 320.7L270.9 360.2L296.5 368.8Z" fill="#9fb4cf" fill-opacity="0.75"/>
<path d="M309.1 320.7L296.5 368.8L347.6 364.7Z" fill="#b3d0ec" fill-opacity="0.7"/>
<path d="M270.9 360.2L296.5 368.8L309.1 404.6Z" fill="#9db3cd" fill-opacity="0.75"/>
<path d="M296.5 368.8L347.6 364.7L309.1 404.6Z" fill="#abc9e6" fill-opacity="0.7"/>
<path d="M309.1 320.7L322.2 355.9" stroke="#6b6bf2" stroke-width="0.7" fill="none" stroke-opacity="0.35"/>
<path d="M309.1 404.6L322.2 355.9" stroke="#6b6bf2" stroke-width="0.7" fill="none" stroke-opacity="0.35"/>
<path d="M270.9 360.2L322.2 355.9" stroke="#6b6bf2" stroke-width="0.7" fill="none" stroke-opacity="0.35"/>
<path d="M347.6 364.7L322.2 355.9" stroke="#6b6bf2" stroke-width="0.7" fill="none" stroke-opacity="0.35"/>
<path d="M309.1 320.7L270.9 360.2" stroke="#6b6bf2" stroke-width="1.0" fill="none" stroke-opacity="0.95"/>
<path d="M309.1 320.7L347.6 364.7" stroke="#6b6bf2" stroke-width="1.0" fill="none" stroke-opacity="0.95"/>
<path d="M309.1 404.6L270.9 360.2" stroke="#6b6bf2" stroke-width="1.0" fill="none" stroke-opacity="0.95"/>
<path d="M309.1 404.6L347.6 364.7" stroke="#6b6bf2" stroke-width="1.0" fill="none" stroke-opacity="0.95"/>
<path d="M309.1 320.7L296.5 368.8" stroke="#6b6bf2" stroke-width="1.0" fill="none" stroke-opacity="0.95"/>
<path d="M309.1 404.6L296.5 368.8" stroke="#6b6bf2" stroke-width="1.0" fill="none" stroke-opacity="0.95"/>
<path d="M270.9 360.2L296.5 368.8" stroke="#6b6bf2" stroke-width="1.0" fill="none" stroke-opacity="0.95"/>
<path d="M296.5 368.8L347.6 364.7" stroke="#6b6bf2" stroke-width="1.0" fill="none" stroke-opacity="0.95"/>
<path d="M309.1 362.6L315.6 359.2" stroke="#57c4cf" stroke-width="2.0" fill="none" stroke-opacity="0.75"/><path d="M315.6 359.2L322.2 355.9" stroke="#57d6dc" stroke-width="2.0" fill="none" stroke-opacity="0.75"/>
<circle cx="322.2" cy="355.9" r="2.9" fill="url(#gO)" opacity="0.75"/>
<path d="M309.1 362.6L309.1 339.6" stroke="#d272d2" stroke-width="2.1" fill="none" stroke-opacity="0.95"/><path d="M309.1 339.6L309.1 320.7" stroke="#2fd2d4" stroke-width="2.1" fill="none" stroke-opacity="0.95"/>
<path d="M309.1 362.6L309.1 385.7" stroke="#d272d2" stroke-width="2.1" fill="none" stroke-opacity="0.95"/><path d="M309.1 385.7L309.1 404.6" stroke="#2fd2d4" stroke-width="2.1" fill="none" stroke-opacity="0.95"/>
<path d="M309.1 362.6L288.1 361.3" stroke="#d272d2" stroke-width="2.1" fill="none" stroke-opacity="0.95"/><path d="M288.1 361.3L270.9 360.2" stroke="#2fd2d4" stroke-width="2.1" fill="none" stroke-opacity="0.95"/>
<path d="M309.1 362.6L330.3 363.8" stroke="#d272d2" stroke-width="2.1" fill="none" stroke-opacity="0.95"/><path d="M330.3 363.8L347.6 364.7" stroke="#2fd2d4" stroke-width="2.1" fill="none" stroke-opacity="0.95"/>
<path d="M309.1 362.6L304.1 365.1" stroke="#2a9a9a" stroke-width="2.0" fill="none" stroke-opacity="0.95"/><path d="M304.1 365.1L296.5 368.8" stroke="#2fd2d4" stroke-width="2.0" fill="none" stroke-opacity="0.95"/>
<circle cx="309.1" cy="362.6" r="6.6" fill="url(#gB)"/>
<circle cx="309.1" cy="320.7" r="3.2" fill="url(#gO)"/>
<circle cx="309.1" cy="404.6" r="3.2" fill="url(#gO)"/>
<circle cx="270.9" cy="360.2" r="3.2" fill="url(#gO)"/>
<circle cx="347.6" cy="364.7" r="3.2" fill="url(#gO)"/>
<circle cx="296.5" cy="368.8" r="3.2" fill="url(#gO)"/>
<path d="M485.4 308.2L537.5 303.7L564.1 312.4L577.4 349.1L564.1 398.4L511.8 402.4L485.2 394.4L472.7 357.2Z" fill="#a6c4ee" fill-opacity="0.78" stroke="#7d7df0" stroke-width="0.9" stroke-linejoin="round"/>
<path d="M485.4 308.2L472.7 357.2L485.2 394.4Z" fill="#8e9fba" fill-opacity="0.35"/>
<path d="M564.1 312.4L577.4 349.1L564.1 398.4L551.2 361.7Z" fill="#8e9fba" fill-opacity="0.4"/>
<path d="M485.4 308.2L537.5 303.7L564.1 312.4L511.8 316.7Z" fill="#97abc8" fill-opacity="0.4"/>
<path d="M485.2 394.4L511.8 402.4L564.1 398.4L537.3 390.1Z" fill="#97abc8" fill-opacity="0.35"/>
<path d="M485.4 308.2L511.8 316.7L472.7 357.2Z" fill="#9cb4d6" fill-opacity="0.3"/>
<path d="M472.7 357.2L511.8 402.4L485.2 394.4Z" fill="#9cb4d6" fill-opacity="0.3"/>
<path d="M485.4 308.2L511.8 316.7" stroke="#7a7af0" stroke-width="0.8" fill="none" stroke-opacity="0.7"/>
<path d="M511.8 316.7L564.1 312.4" stroke="#7a7af0" stroke-width="0.8" fill="none" stroke-opacity="0.7"/>
<path d="M564.1 312.4L551.2 361.7" stroke="#7a7af0" stroke-width="0.8" fill="none" stroke-opacity="0.7"/>
<path d="M551.2 361.7L564.1 398.4" stroke="#7a7af0" stroke-width="0.8" fill="none" stroke-opacity="0.7"/>
<path d="M564.1 398.4L511.8 402.4" stroke="#7a7af0" stroke-width="0.8" fill="none" stroke-opacity="0.7"/>
<path d="M511.8 402.4L485.2 394.4" stroke="#7a7af0" stroke-width="0.8" fill="none" stroke-opacity="0.7"/>
<path d="M485.2 394.4L472.7 357.2" stroke="#7a7af0" stroke-width="0.8" fill="none" stroke-opacity="0.7"/>
<path d="M472.7 357.2L485.4 308.2" stroke="#7a7af0" stroke-width="0.8" fill="none" stroke-opacity="0.7"/>
<path d="M485.4 308.2L537.5 303.7" stroke="#7a7af0" stroke-width="0.8" fill="none" stroke-opacity="0.7"/>
<path d="M537.5 303.7L564.1 312.4" stroke="#7a7af0" stroke-width="0.8" fill="none" stroke-opacity="0.7"/>
<path d="M564.1 312.4L577.4 349.1" stroke="#7a7af0" stroke-width="0.8" fill="none" stroke-opacity="0.7"/>
<path d="M577.4 349.1L564.1 398.4" stroke="#7a7af0" stroke-width="0.8" fill="none" stroke-opacity="0.7"/>
<path d="M577.4 349.1L551.2 361.7" stroke="#7a7af0" stroke-width="0.8" fill="none" stroke-opacity="0.7"/>
<path d="M511.8 316.7L472.7 357.2" stroke="#4a4af0" stroke-width="1.1" fill="none" stroke-opacity="0.95"/>
<path d="M472.7 357.2L511.8 402.4" stroke="#4a4af0" stroke-width="1.1" fill="none" stroke-opacity="0.95"/>
<path d="M511.8 402.4L551.2 361.7" stroke="#4a4af0" stroke-width="1.1" fill="none" stroke-opacity="0.95"/>
<path d="M551.2 361.7L511.8 316.7" stroke="#4a4af0" stroke-width="1.1" fill="none" stroke-opacity="0.95"/>
<path d="M524.7 353.5L511.2 349.2" stroke="#7d55e0" stroke-width="2.1" fill="none" stroke-opacity="0.7"/><path d="M511.2 349.2L497.8 345" stroke="#45c6d4" stroke-width="2.1" fill="none" stroke-opacity="0.7"/>
<path d="M524.7 353.5L531 371.8" stroke="#7d55e0" stroke-width="2.1" fill="none" stroke-opacity="0.7"/><path d="M531 371.8L537.3 390.1" stroke="#45c6d4" stroke-width="2.1" fill="none" stroke-opacity="0.7"/>
<path d="M524.7 353.5L531.1 328.6" stroke="#7d55e0" stroke-width="2.1" fill="none" stroke-opacity="0.7"/><path d="M531.1 328.6L537.5 303.7" stroke="#45c6d4" stroke-width="2.1" fill="none" stroke-opacity="0.7"/>
<circle cx="497.8" cy="345" r="2.9" fill="url(#gO)" opacity="0.7"/>
<circle cx="537.3" cy="390.1" r="2.9" fill="url(#gO)" opacity="0.7"/>
<path d="M524.7 353.5L503.1 328.6" stroke="#7a4ee6" stroke-width="2.3" fill="none" stroke-opacity="0.95"/><path d="M503.1 328.6L485.4 308.2" stroke="#3ccad4" stroke-width="2.3" fill="none" stroke-opacity="0.95"/>
<path d="M524.7 353.5L517.6 333.3" stroke="#7a4ee6" stroke-width="2.3" fill="none" stroke-opacity="0.95"/><path d="M517.6 333.3L511.8 316.7" stroke="#3ccad4" stroke-width="2.3" fill="none" stroke-opacity="0.95"/>
<path d="M524.7 353.5L546.4 330.9" stroke="#7a4ee6" stroke-width="2.3" fill="none" stroke-opacity="0.95"/><path d="M546.4 330.9L564.1 312.4" stroke="#3ccad4" stroke-width="2.3" fill="none" stroke-opacity="0.95"/>
<path d="M524.7 353.5L496.1 355.5" stroke="#7a4ee6" stroke-width="2.3" fill="none" stroke-opacity="0.95"/><path d="M496.1 355.5L472.7 357.2" stroke="#3ccad4" stroke-width="2.3" fill="none" stroke-opacity="0.95"/>
<path d="M524.7 353.5L539.3 358" stroke="#7a4ee6" stroke-width="2.3" fill="none" stroke-opacity="0.95"/><path d="M539.3 358L551.2 361.7" stroke="#3ccad4" stroke-width="2.3" fill="none" stroke-opacity="0.95"/>
<path d="M524.7 353.5L553.7 351.1" stroke="#7a4ee6" stroke-width="2.3" fill="none" stroke-opacity="0.95"/><path d="M553.7 351.1L577.4 349.1" stroke="#3ccad4" stroke-width="2.3" fill="none" stroke-opacity="0.95"/>
<path d="M524.7 353.5L503 376" stroke="#7a4ee6" stroke-width="2.3" fill="none" stroke-opacity="0.95"/><path d="M503 376L485.2 394.4" stroke="#3ccad4" stroke-width="2.3" fill="none" stroke-opacity="0.95"/>
<path d="M524.7 353.5L517.6 380.4" stroke="#7a4ee6" stroke-width="2.3" fill="none" stroke-opacity="0.95"/><path d="M517.6 380.4L511.8 402.4" stroke="#3ccad4" stroke-width="2.3" fill="none" stroke-opacity="0.95"/>
<path d="M524.7 353.5L546.4 378.2" stroke="#7a4ee6" stroke-width="2.3" fill="none" stroke-opacity="0.95"/><path d="M546.4 378.2L564.1 398.4" stroke="#3ccad4" stroke-width="2.3" fill="none" stroke-opacity="0.95"/>
<circle cx="524.7" cy="353.5" r="9.2" fill="url(#gA)"/>
<circle cx="485.4" cy="308.2" r="3.3" fill="url(#gO)"/>
<circle cx="511.8" cy="316.7" r="3.3" fill="url(#gO)"/>
<circle cx="537.5" cy="303.7" r="3.3" fill="url(#gO)"/>
<circle cx="564.1" cy="312.4" r="3.3" fill="url(#gO)"/>
<circle cx="472.7" cy="357.2" r="3.3" fill="url(#gO)"/>
<circle cx="551.2" cy="361.7" r="3.3" fill="url(#gO)"/>
<circle cx="577.4" cy="349.1" r="3.3" fill="url(#gO)"/>
<circle cx="485.2" cy="394.4" r="3.3" fill="url(#gO)"/>
<circle cx="511.8" cy="402.4" r="3.3" fill="url(#gO)"/>
<circle cx="564.1" cy="398.4" r="3.3" fill="url(#gO)"/>
</g>
<g id="pb">
<defs>
<radialGradient id="gPb" cx="0.5" cy="0.5" r="0.5" fx="0.36" fy="0.33"><stop offset="0" stop-color="#fff"/><stop offset="0.16" stop-color="#fff" stop-opacity="0.95"/><stop offset="0.42" stop-color="#cc0000"/><stop offset="0.8" stop-color="#cc0000"/><stop offset="1" stop-color="#7a0000"/></radialGradient>
<radialGradient id="gTi" cx="0.5" cy="0.5" r="0.5" fx="0.36" fy="0.33"><stop offset="0" stop-color="#fff"/><stop offset="0.16" stop-color="#fff" stop-opacity="0.95"/><stop offset="0.42" stop-color="#ff8200"/><stop offset="0.8" stop-color="#ff8200"/><stop offset="1" stop-color="#c85a00"/></radialGradient>
<radialGradient id="gMg" cx="0.5" cy="0.5" r="0.5" fx="0.36" fy="0.33"><stop offset="0" stop-color="#fff"/><stop offset="0.16" stop-color="#fff" stop-opacity="0.95"/><stop offset="0.42" stop-color="#8a00ff"/><stop offset="0.8" stop-color="#8a00ff"/><stop offset="1" stop-color="#5a00b0"/></radialGradient>
<radialGradient id="gNb" cx="0.5" cy="0.5" r="0.5" fx="0.36" fy="0.33"><stop offset="0" stop-color="#fff"/><stop offset="0.16" stop-color="#fff" stop-opacity="0.95"/><stop offset="0.42" stop-color="#0a3cff"/><stop offset="0.8" stop-color="#0a3cff"/><stop offset="1" stop-color="#0024b0"/></radialGradient>
</defs>
<path d="M1143.1 413.2v-8.5M1143.1 33.0v8.5M1249.6 413.2v-8.5M1249.6 33.0v8.5M1356.1 413.2v-8.5M1356.1 33.0v8.5M1462.6 413.2v-8.5M1462.6 33.0v8.5M1569.1 413.2v-8.5M1569.1 33.0v8.5M1675.6 413.2v-8.5M1675.6 33.0v8.5M1091.1 323.6h9M1091.1 234.1h9M1091.1 144.6h9M1091.1 55h9M1091.1 368.4h5M1091.1 278.9h5M1091.1 189.3h5M1091.1 99.8h5" stroke="#000" stroke-width="1.9" fill="none"/>
<rect x="1091.1" y="33.0" width="637.5" height="380.2" fill="none" stroke="#000" stroke-width="2.1"/>
<path d="M1143.1 79C1160.7 77.2 1178.3 74.7 1196 73.5C1213.8 72.2 1231.8 71.2 1249.6 71.5C1267.4 71.8 1285.2 74.1 1303 75.5C1320.8 76.9 1339.9 78.8 1356.2 79.7C1369.6 80.5 1377.2 80.8 1392 80.6C1412.8 80.2 1436.3 79.3 1462.8 77.9C1495.3 76.2 1533.6 73.7 1569 71.5C1604.5 69.3 1639.9 67 1675.4 64.8" stroke="#e23a3a" stroke-width="1.5" fill="none"/>
<circle cx="1143.1" cy="79" r="9.6" fill="url(#gPb)"/>
<circle cx="1249.6" cy="66.4" r="9.6" fill="url(#gPb)"/>
<circle cx="1356.1" cy="82" r="9.6" fill="url(#gPb)"/>
<circle cx="1462.6" cy="78.6" r="9.6" fill="url(#gPb)"/>
<circle cx="1675.6" cy="64.1" r="9.6" fill="url(#gPb)"/>
<path d="M1143.1 195.9C1160.7 190.3 1178.2 183.6 1196 179C1213.7 174.4 1231.7 170.5 1249.6 168.4C1267.3 166.3 1285.2 167.1 1303 166.5C1320.7 165.9 1338.5 166.6 1356.2 165C1374.1 163.4 1392.2 159.7 1410 157C1427.7 154.3 1440.8 151.1 1462.8 148.9C1493.8 145.8 1533.6 143 1569 141C1604.4 139 1639.9 138.2 1675.4 136.8" stroke="#ff9a2a" stroke-width="1.5" fill="none"/>
<circle cx="1143.1" cy="195.9" r="9.6" fill="url(#gTi)"/>
<circle cx="1249.6" cy="162.7" r="9.6" fill="url(#gTi)"/>
<circle cx="1356.1" cy="168.4" r="9.6" fill="url(#gTi)"/>
<circle cx="1462.6" cy="144.8" r="9.6" fill="url(#gTi)"/>
<circle cx="1675.6" cy="135.9" r="9.6" fill="url(#gTi)"/>
<path d="M1143.1 221.8C1178.6 222.9 1214.1 224.6 1249.6 225.2C1285.1 225.9 1320.7 225.8 1356.2 225.7C1391.7 225.6 1427.3 225.5 1462.8 224.5C1498.2 223.6 1533.6 221.5 1569 220C1604.5 218.5 1639.9 216.9 1675.4 215.3" stroke="#a645ff" stroke-width="1.5" fill="none"/>
<circle cx="1143.1" cy="221.8" r="9.6" fill="url(#gMg)"/>
<circle cx="1249.6" cy="224.5" r="9.6" fill="url(#gMg)"/>
<circle cx="1356.1" cy="225.2" r="9.6" fill="url(#gMg)"/>
<circle cx="1462.6" cy="224.5" r="9.6" fill="url(#gMg)"/>
<circle cx="1675.6" cy="214.7" r="9.6" fill="url(#gMg)"/>
<path d="M1143.1 272.2C1178.6 269.8 1214.1 267 1249.6 265C1285.1 263 1320.7 261.4 1356.2 260C1391.7 258.6 1418.7 257.7 1462.8 256.6C1525.1 255 1604.5 253.5 1675.4 252" stroke="#3f66ff" stroke-width="1.5" fill="none"/>
<circle cx="1143.1" cy="272.2" r="9.6" fill="url(#gNb)"/>
<circle cx="1249.6" cy="263" r="9.6" fill="url(#gNb)"/>
<circle cx="1356.1" cy="260.7" r="9.6" fill="url(#gNb)"/>
<circle cx="1462.6" cy="256.1" r="9.6" fill="url(#gNb)"/>
<circle cx="1675.6" cy="251.3" r="9.6" fill="url(#gNb)"/>
<path d="M1158.2 340.6H1229.7" stroke="#e23a3a" stroke-width="1.5"/>
<circle cx="1193.5" cy="340.6" r="9.6" fill="url(#gPb)"/>
<text transform="translate(1238.4 350.8) scale(0.945 1)" font-size="28.89">Pb</text>
<path d="M1284.7 340.6H1356.9" stroke="#ff9a2a" stroke-width="1.5"/>
<circle cx="1320.9" cy="340.6" r="9.6" fill="url(#gTi)"/>
<text transform="translate(1365.5 350.8) scale(0.945 1)" font-size="28.89">Ti</text>
<path d="M1401.7 340.6H1473.8" stroke="#a645ff" stroke-width="1.5"/>
<circle cx="1437.6" cy="340.6" r="9.6" fill="url(#gMg)"/>
<text transform="translate(1482.3 350.8) scale(0.945 1)" font-size="28.89">Mg</text>
<path d="M1533.4 340.6H1605.6" stroke="#3f66ff" stroke-width="1.5"/>
<circle cx="1569.4" cy="340.6" r="9.6" fill="url(#gNb)"/>
<text transform="translate(1614 350.8) scale(0.945 1)" font-size="28.89">Nb</text>
<text transform="translate(1080 420) scale(0.9174 1)" font-size="30.52" text-anchor="end">0.0</text>
<text transform="translate(1080 330.45) scale(0.9174 1)" font-size="30.52" text-anchor="end">0.1</text>
<text transform="translate(1080 240.9) scale(0.9174 1)" font-size="30.52" text-anchor="end">0.2</text>
<text transform="translate(1080 151.35) scale(0.9174 1)" font-size="30.52" text-anchor="end">0.3</text>
<text transform="translate(1080 61.8) scale(0.9174 1)" font-size="30.52" text-anchor="end">0.4</text>
<text transform="translate(1143.1 442.4) scale(0.9908 1)" font-size="30.52" text-anchor="middle">20</text>
<text transform="translate(1249.6 442.4) scale(0.9908 1)" font-size="30.52" text-anchor="middle">25</text>
<text transform="translate(1356.1 442.4) scale(0.9908 1)" font-size="30.52" text-anchor="middle">30</text>
<text transform="translate(1462.6 442.4) scale(0.9908 1)" font-size="30.52" text-anchor="middle">35</text>
<text transform="translate(1569.1 442.4) scale(0.9908 1)" font-size="30.52" text-anchor="middle">40</text>
<text transform="translate(1675.6 442.4) scale(0.9908 1)" font-size="30.52" text-anchor="middle">45</text>
<text transform="translate(1407.5 485.5) scale(0.945 1)" font-size="34.88" text-anchor="middle">PMN-xPT</text>
<text transform="translate(1017.8 216.5) rotate(-90) scale(0.9725 1)" font-size="34.88" text-anchor="middle">Dis. (Å)</text>
<text transform="translate(993.5 33.9) scale(0.945 1)" font-size="38.7" font-weight="bold">b</text>
</g>
<g id="pc">
<g>
<g transform="translate(50.9 585.3) scale(0.5)" fill="none" stroke-width="9.3" stroke-linecap="round">
<path d="M85 341h0M87 233h0M93 284h0M102 241h0M104 502h0M114 246h0M119 195h0M125 248h0M125 449h0M130 314h0M133 424h0M134 388h0M139 298h0M142 327h0M142 339h0M143 270h0M145 334h0M148 312h0M152 403h0M154 436h0M157 414h0M159 386h0M159 437h0M161 311h0M162 248h0M162 575h0M164 228h0M164 263h0M165 245h0M166 201h0M166 342h0M166 354h0M166 366h0M166 379h0M167 323h0M167 470h0M168 266h0M168 284h0M168 344h0M168 468h0M169 321h0M170 185h0M170 292h0M172 301h0M173 252h0M173 254h0M175 314h0M176 263h0M176 347h0M177 367h0M180 395h0M180 416h0M180 421h0M181 371h0M184 147h0M184 394h0M185 215h0M188 395h0M189 186h0M191 228h0M192 472h0M193 220h0M194 445h0M195 423h0M197 415h0M197 439h0M198 166h0M198 179h0M199 430h0M200 408h0M204 195h0M205 163h0M205 190h0M210 503h0M211 136h0M212 178h0M218 132h0M221 453h0M225 482h0M228 157h0M231 136h0M231 137h0M232 459h0M236 95h0M239 144h0M239 486h0M239 560h0M244 115h0M244 149h0M245 94h0M249 491h0M250 138h0M250 503h0M257 512h0M263 122h0M277 125h0M277 129h0M277 492h0M281 93h0M285 497h0M287 123h0M288 494h0M290 104h0M295 496h0M298 567h0M302 114h0M306 509h0M307 517h0M308 114h0M311 70h0M317 513h0M318 73h0M320 517h0M333 571h0M336 102h0M338 526h0M345 548h0M352 522h0M358 105h0M363 524h0M369 96h0M373 88h0M373 601h0M375 93h0M379 98h0M384 517h0M387 91h0M392 103h0M394 105h0M394 555h0M396 521h0M398 523h0M403 103h0M403 547h0M410 44h0M411 106h0M418 108h0M423 106h0M424 97h0M430 109h0M431 109h0M432 533h0M434 553h0M437 100h0M438 514h0M439 92h0M442 500h0M442 527h0M457 500h0M459 108h0M460 102h0M460 119h0M469 535h0M476 119h0M476 499h0M481 98h0M482 84h0M490 471h0M499 473h0M501 485h0M502 132h0M508 155h0M518 448h0M522 174h0M523 469h0M524 522h0M536 193h0M541 434h0M542 418h0M545 416h0M546 214h0M548 439h0M561 387h0M562 363h0M562 366h0M563 206h0M563 259h0M566 279h0M569 108h0M569 325h0M570 230h0M570 327h0M570 332h0M573 516h0M575 347h0M576 352h0M577 340h0M579 226h0M580 348h0M582 327h0M583 323h0M584 249h0M587 357h0M598 227h0M618 282h0" stroke="#34289c"/>
<path d="M178 320h0M179 323h0M179 335h0M182 278h0M182 357h0M184 328h0M184 345h0M185 332h0M186 334h0M188 242h0M190 247h0M193 361h0M194 366h0M198 382h0M201 389h0M206 200h0M210 198h0M211 419h0M213 410h0M214 420h0M215 422h0M216 431h0M221 433h0M235 444h0M241 452h0M249 153h0M252 150h0M253 153h0M264 475h0M270 136h0M270 138h0M270 477h0M275 484h0M279 482h0M285 135h0M298 489h0M298 495h0M300 123h0M304 123h0M306 118h0M307 496h0M324 501h0M343 507h0M387 507h0M390 106h0M392 111h0M397 109h0M398 508h0M401 111h0M403 109h0M412 503h0M427 113h0M430 500h0M467 482h0M468 136h0M473 474h0M475 477h0M482 470h0M486 465h0M489 151h0M492 153h0M496 459h0M498 457h0M505 160h0M505 450h0M506 455h0M511 448h0M517 176h0M519 177h0M522 429h0M526 189h0M528 189h0M539 408h0M547 388h0M550 237h0M553 371h0M555 372h0M556 256h0M556 371h0M558 367h0M560 350h0M562 264h0M562 265h0M563 324h0M564 319h0" stroke="#33299f"/>
<path d="M187 293h0M188 315h0M188 322h0M189 290h0M190 274h0M192 299h0M193 333h0M193 350h0M195 270h0M195 329h0M196 306h0M197 282h0M198 337h0M200 378h0M203 249h0M203 359h0M204 228h0M204 375h0M205 242h0M207 377h0M208 388h0M210 391h0M211 382h0M211 393h0M212 222h0M214 214h0M218 404h0M219 205h0M223 406h0M225 205h0M225 422h0M227 186h0M227 197h0M232 181h0M232 188h0M237 428h0M239 177h0M239 180h0M240 434h0M241 445h0M243 443h0M244 168h0M246 442h0M253 165h0M259 161h0M259 450h0M261 160h0M289 141h0M291 477h0M297 131h0M297 134h0M302 478h0M302 483h0M319 121h0M322 495h0M328 118h0M330 123h0M340 117h0M348 118h0M350 501h0M360 495h0M366 112h0M370 499h0M371 496h0M377 116h0M378 496h0M381 501h0M385 501h0M388 501h0M389 114h0M389 116h0M389 496h0M401 495h0M404 498h0M408 119h0M411 118h0M421 490h0M426 492h0M430 494h0M432 126h0M437 488h0M446 488h0M447 131h0M449 480h0M456 476h0M466 136h0M469 139h0M478 471h0M484 461h0M493 160h0M499 162h0M515 436h0M521 419h0M523 424h0M527 412h0M530 415h0M532 207h0M536 207h0M539 220h0M539 388h0M541 221h0M541 226h0M543 223h0M545 372h0M545 388h0M546 371h0M546 373h0M548 233h0M548 245h0M550 360h0M553 361h0M555 270h0M557 281h0M557 292h0M559 312h0M559 330h0M560 307h0M560 316h0" stroke="#312ba5"/>
<path d="M198 286h0M201 271h0M201 273h0M201 307h0M201 308h0M202 295h0M202 322h0M203 281h0M203 323h0M204 343h0M207 294h0M207 304h0M207 323h0M208 267h0M208 371h0M208 372h0M210 245h0M210 256h0M211 258h0M211 265h0M211 376h0M214 235h0M215 232h0M216 222h0M216 223h0M217 237h0M217 368h0M217 380h0M218 387h0M219 235h0M220 217h0M221 232h0M221 385h0M222 386h0M223 387h0M225 222h0M227 400h0M227 410h0M229 395h0M229 407h0M232 208h0M233 199h0M235 206h0M238 195h0M240 417h0M241 414h0M242 185h0M244 189h0M244 429h0M245 429h0M246 177h0M254 173h0M257 436h0M257 443h0M258 440h0M259 173h0M259 438h0M260 450h0M262 446h0M264 453h0M268 446h0M269 156h0M269 454h0M270 163h0M271 163h0M272 452h0M275 152h0M276 157h0M276 457h0M279 151h0M280 155h0M281 147h0M281 459h0M281 460h0M282 459h0M283 461h0M288 147h0M292 472h0M293 469h0M301 473h0M302 143h0M307 139h0M310 131h0M310 477h0M313 132h0M313 478h0M319 128h0M321 484h0M335 483h0M335 484h0M335 487h0M341 127h0M345 125h0M347 124h0M350 488h0M352 488h0M354 486h0M357 486h0M363 122h0M364 494h0M366 122h0M366 487h0M370 123h0M376 118h0M382 494h0M387 488h0M389 490h0M390 491h0M391 487h0M393 121h0M393 488h0M398 121h0M399 488h0M402 492h0M403 487h0M411 490h0M413 122h0M413 124h0M413 491h0M414 487h0M417 485h0M418 483h0M420 483h0M424 128h0M429 480h0M435 477h0M442 481h0M455 136h0M479 460h0M480 155h0M480 460h0M485 457h0M492 163h0M492 444h0M496 170h0M496 444h0M497 168h0M500 442h0M506 430h0M506 433h0M508 433h0M511 180h0M511 429h0M516 418h0M517 418h0M519 421h0M520 417h0M521 199h0M521 202h0M521 409h0M522 414h0M523 409h0M526 208h0M529 208h0M530 400h0M537 224h0M537 383h0M540 226h0M540 230h0M542 372h0M545 358h0M546 354h0M547 357h0M547 362h0M549 269h0M551 288h0M552 323h0M552 335h0M553 315h0M554 299h0M554 306h0M554 330h0" stroke="#2e31af"/>
<path d="M208 290h0M209 287h0M209 311h0M210 290h0M210 317h0M210 332h0M211 278h0M211 291h0M211 314h0M212 273h0M212 291h0M213 273h0M213 282h0M213 308h0M214 276h0M214 295h0M214 304h0M214 351h0M215 273h0M215 274h0M215 331h0M215 341h0M215 358h0M216 291h0M216 295h0M216 301h0M216 303h0M216 326h0M216 330h0M217 287h0M217 364h0M217 366h0M218 246h0M218 254h0M218 309h0M218 314h0M218 346h0M218 347h0M219 250h0M219 255h0M219 356h0M219 361h0M220 360h0M220 371h0M221 247h0M222 236h0M222 357h0M223 237h0M224 232h0M225 358h0M226 226h0M226 251h0M226 364h0M227 246h0M229 220h0M229 225h0M229 379h0M230 231h0M230 373h0M230 377h0M232 377h0M233 379h0M236 397h0M237 215h0M239 218h0M239 409h0M240 403h0M241 395h0M242 407h0M243 209h0M243 414h0M244 196h0M245 199h0M246 406h0M246 410h0M247 417h0M248 412h0M250 186h0M250 418h0M253 193h0M254 184h0M255 427h0M256 425h0M258 419h0M259 434h0M260 179h0M261 423h0M262 432h0M263 436h0M265 179h0M265 430h0M267 437h0M269 168h0M269 171h0M269 174h0M270 439h0M271 441h0M272 440h0M272 444h0M273 441h0M276 164h0M276 446h0M277 163h0M277 170h0M278 439h0M278 440h0M279 163h0M279 167h0M284 164h0M284 452h0M285 452h0M285 454h0M286 453h0M291 150h0M291 451h0M294 152h0M297 463h0M299 151h0M300 457h0M300 458h0M301 465h0M303 458h0M303 463h0M306 143h0M306 145h0M309 146h0M312 141h0M318 471h0M318 474h0M324 138h0M326 133h0M331 133h0M334 475h0M337 472h0M338 476h0M351 128h0M351 476h0M352 481h0M354 484h0M356 128h0M360 482h0M365 483h0M366 127h0M366 485h0M368 482h0M368 484h0M369 128h0M371 479h0M374 481h0M381 479h0M382 484h0M387 487h0M388 126h0M388 485h0M388 486h0M390 485h0M391 482h0M396 125h0M400 483h0M401 126h0M401 484h0M402 130h0M404 482h0M409 478h0M409 482h0M411 481h0M413 477h0M414 476h0M417 132h0M418 482h0M423 130h0M423 477h0M427 480h0M430 475h0M431 132h0M434 136h0M442 469h0M442 474h0M446 139h0M447 140h0M448 465h0M451 470h0M457 145h0M458 460h0M460 149h0M467 150h0M469 153h0M471 452h0M480 446h0M481 449h0M482 450h0M483 164h0M484 445h0M484 449h0M486 164h0M487 166h0M487 440h0M488 167h0M488 168h0M488 442h0M489 441h0M491 172h0M491 441h0M493 173h0M493 440h0M496 172h0M498 429h0M500 179h0M500 181h0M502 432h0M503 181h0M506 187h0M512 194h0M514 418h0M516 195h0M516 201h0M516 202h0M520 401h0M521 203h0M522 398h0M525 396h0M526 395h0M531 229h0M533 376h0M534 368h0M535 373h0M536 364h0M536 377h0M538 251h0M538 361h0M538 374h0M539 248h0M539 362h0M540 245h0M541 347h0M541 351h0M542 355h0M542 361h0M543 262h0M543 264h0M543 269h0M543 355h0M544 268h0M544 341h0M544 352h0M545 258h0M545 263h0M545 264h0M545 267h0M545 354h0M546 297h0M547 273h0M547 340h0M548 290h0M548 306h0M549 285h0M549 310h0M549 329h0" stroke="#2c37b9"/>
<path d="M219 297h0M220 279h0M220 284h0M220 330h0M222 269h0M222 299h0M222 306h0M222 315h0M223 303h0M223 334h0M224 276h0M224 332h0M224 348h0M225 296h0M225 321h0M225 333h0M225 342h0M225 349h0M226 280h0M226 309h0M226 316h0M227 262h0M227 280h0M227 356h0M228 286h0M228 310h0M228 347h0M228 356h0M228 357h0M228 361h0M229 244h0M229 275h0M229 295h0M229 345h0M229 349h0M230 269h0M230 279h0M231 265h0M231 343h0M231 350h0M232 256h0M232 262h0M232 361h0M233 257h0M233 259h0M233 361h0M233 366h0M234 252h0M234 359h0M234 360h0M235 232h0M235 240h0M235 246h0M235 353h0M235 360h0M236 241h0M237 234h0M237 242h0M237 385h0M238 371h0M238 383h0M238 384h0M239 234h0M239 240h0M239 241h0M239 377h0M239 384h0M240 372h0M240 377h0M241 226h0M242 216h0M242 229h0M242 232h0M243 380h0M243 383h0M243 389h0M244 381h0M245 215h0M247 216h0M247 387h0M247 388h0M248 384h0M248 396h0M248 399h0M250 202h0M250 389h0M250 392h0M250 405h0M251 200h0M251 203h0M251 215h0M252 201h0M252 210h0M253 208h0M254 208h0M255 399h0M256 400h0M256 404h0M257 197h0M257 203h0M257 415h0M258 204h0M258 403h0M259 408h0M260 404h0M261 200h0M261 406h0M261 407h0M262 194h0M262 421h0M263 186h0M264 195h0M264 411h0M267 415h0M268 187h0M269 187h0M270 432h0M271 185h0M273 429h0M274 177h0M275 434h0M276 180h0M276 425h0M277 173h0M279 170h0M280 175h0M280 435h0M282 171h0M283 436h0M284 166h0M285 171h0M285 438h0M286 446h0M289 437h0M290 170h0M291 447h0M292 162h0M292 448h0M293 160h0M296 161h0M297 165h0M298 159h0M298 448h0M299 160h0M300 455h0M301 450h0M305 156h0M306 157h0M306 456h0M306 458h0M307 452h0M309 459h0M311 149h0M312 152h0M312 453h0M313 153h0M313 455h0M320 146h0M320 150h0M328 465h0M331 466h0M332 140h0M332 143h0M333 142h0M335 137h0M335 463h0M336 137h0M336 470h0M339 468h0M339 469h0M339 470h0M340 464h0M341 472h0M343 135h0M345 471h0M346 471h0M349 472h0M354 468h0M355 137h0M358 477h0M361 477h0M363 134h0M364 135h0M365 135h0M365 471h0M367 132h0M368 474h0M369 473h0M371 133h0M371 476h0M377 471h0M377 478h0M378 477h0M381 134h0M381 473h0M384 130h0M385 477h0M387 130h0M389 473h0M390 471h0M390 473h0M400 133h0M400 471h0M400 478h0M402 475h0M405 136h0M406 474h0M408 137h0M408 471h0M410 136h0M413 133h0M413 134h0M417 135h0M423 139h0M423 469h0M428 139h0M430 469h0M432 467h0M433 143h0M434 141h0M440 142h0M441 141h0M441 463h0M442 142h0M446 145h0M447 149h0M450 458h0M454 151h0M458 456h0M460 152h0M460 156h0M462 155h0M463 157h0M463 452h0M467 157h0M467 452h0M470 159h0M470 451h0M470 452h0M471 160h0M478 443h0M482 169h0M482 437h0M482 443h0M486 434h0M489 431h0M496 179h0M496 430h0M497 421h0M499 421h0M500 184h0M500 419h0M501 419h0M506 418h0M508 194h0M508 406h0M508 412h0M508 416h0M509 410h0M511 412h0M515 204h0M516 207h0M516 400h0M517 206h0M519 215h0M520 394h0M525 222h0M527 371h0M527 372h0M527 378h0M527 382h0M531 242h0M532 360h0M533 361h0M534 249h0M534 352h0M536 353h0M537 254h0M537 344h0M538 358h0M539 266h0M540 276h0M540 318h0M541 277h0M541 279h0M541 283h0M541 291h0M541 292h0M541 296h0M541 303h0M541 304h0M541 334h0M542 278h0M542 303h0M542 332h0M543 295h0M543 325h0M544 282h0M544 287h0M545 288h0M545 297h0" stroke="#2741c2"/>
<path d="M230 279h0M230 287h0M231 296h0M231 326h0M232 284h0M233 289h0M234 283h0M234 305h0M234 315h0M234 317h0M234 319h0M235 270h0M235 343h0M235 351h0M236 269h0M236 289h0M236 292h0M236 297h0M236 308h0M236 326h0M236 336h0M237 267h0M237 293h0M237 294h0M237 297h0M237 343h0M238 273h0M238 275h0M238 300h0M238 303h0M238 304h0M238 321h0M238 337h0M238 338h0M238 359h0M239 244h0M239 301h0M239 324h0M239 331h0M239 332h0M240 250h0M240 331h0M240 342h0M240 348h0M241 247h0M241 248h0M241 250h0M241 264h0M241 273h0M241 331h0M241 332h0M241 348h0M241 362h0M241 366h0M241 368h0M242 245h0M242 253h0M242 270h0M242 351h0M242 354h0M242 356h0M242 367h0M243 241h0M243 245h0M243 254h0M243 265h0M243 355h0M244 236h0M244 245h0M244 374h0M245 241h0M245 373h0M246 235h0M246 353h0M247 230h0M247 368h0M247 383h0M248 240h0M248 243h0M248 359h0M248 361h0M249 365h0M250 233h0M250 238h0M250 373h0M250 379h0M251 370h0M251 372h0M252 236h0M252 383h0M253 374h0M253 375h0M254 384h0M255 382h0M256 220h0M256 381h0M257 209h0M257 219h0M258 221h0M259 387h0M259 402h0M260 395h0M263 199h0M264 404h0M266 205h0M266 206h0M266 403h0M267 400h0M267 411h0M269 191h0M269 409h0M270 192h0M274 186h0M274 413h0M274 421h0M275 421h0M276 195h0M277 421h0M279 412h0M280 425h0M281 190h0M283 417h0M283 420h0M284 182h0M284 418h0M284 421h0M286 422h0M286 428h0M287 173h0M287 180h0M290 178h0M292 178h0M293 173h0M296 435h0M298 435h0M300 433h0M303 170h0M304 438h0M306 163h0M306 437h0M308 447h0M308 449h0M311 443h0M312 447h0M313 452h0M314 442h0M314 444h0M315 448h0M316 158h0M317 159h0M318 454h0M320 451h0M321 447h0M322 151h0M323 150h0M325 151h0M327 155h0M327 456h0M328 451h0M329 150h0M330 147h0M332 146h0M332 455h0M333 454h0M334 149h0M336 456h0M337 145h0M344 142h0M344 457h0M344 458h0M347 145h0M351 142h0M351 145h0M351 465h0M352 143h0M353 145h0M355 142h0M357 141h0M357 465h0M361 141h0M361 461h0M362 142h0M363 468h0M364 139h0M367 137h0M368 138h0M369 138h0M369 464h0M370 142h0M374 470h0M375 467h0M376 470h0M377 468h0M377 470h0M378 464h0M378 468h0M379 468h0M381 465h0M384 463h0M385 137h0M387 471h0M390 137h0M391 137h0M391 141h0M391 465h0M392 464h0M393 138h0M398 137h0M398 465h0M400 136h0M400 141h0M401 464h0M403 137h0M403 140h0M403 465h0M406 138h0M406 465h0M407 141h0M409 139h0M409 462h0M409 467h0M411 142h0M413 140h0M413 461h0M413 465h0M418 466h0M419 462h0M419 464h0M420 142h0M420 145h0M420 464h0M421 145h0M421 463h0M428 462h0M429 145h0M431 143h0M433 456h0M434 147h0M436 461h0M438 150h0M438 456h0M439 456h0M443 153h0M444 458h0M446 451h0M449 152h0M451 449h0M452 452h0M454 154h0M454 451h0M455 155h0M455 451h0M456 447h0M457 451h0M458 446h0M459 445h0M459 449h0M460 161h0M460 449h0M461 448h0M461 449h0M462 159h0M466 160h0M467 162h0M468 437h0M469 163h0M469 437h0M470 167h0M472 435h0M474 439h0M478 171h0M478 437h0M479 170h0M481 428h0M481 432h0M482 175h0M482 430h0M484 178h0M486 175h0M486 424h0M487 423h0M489 181h0M491 183h0M491 417h0M492 185h0M492 423h0M493 419h0M493 422h0M494 422h0M496 416h0M497 413h0M500 196h0M500 415h0M502 198h0M503 408h0M504 200h0M504 409h0M505 200h0M508 209h0M509 209h0M512 207h0M512 390h0M516 218h0M517 217h0M518 222h0M519 383h0M520 223h0M520 373h0M520 374h0M521 223h0M521 371h0M521 372h0M523 232h0M523 235h0M523 377h0M524 237h0M524 239h0M524 369h0M525 241h0M526 244h0M527 363h0M528 352h0M528 354h0M529 358h0M530 247h0M530 256h0M530 259h0M530 346h0M530 350h0M531 348h0M532 350h0M533 347h0M534 279h0M534 330h0M534 339h0M534 349h0M535 307h0M536 276h0M536 294h0M536 295h0M536 312h0M536 315h0M537 313h0M537 323h0M537 325h0M538 285h0M539 311h0M539 316h0M539 318h0" stroke="#214ccc"/>
<path d="M239 299h0M240 313h0M240 316h0M241 292h0M241 307h0M242 282h0M242 303h0M242 305h0M242 321h0M242 334h0M243 287h0M243 293h0M243 307h0M243 311h0M243 327h0M243 330h0M244 260h0M244 282h0M244 286h0M244 302h0M244 315h0M245 284h0M245 310h0M245 331h0M245 345h0M246 272h0M246 299h0M246 300h0M246 307h0M246 311h0M246 312h0M247 259h0M247 279h0M247 287h0M247 294h0M247 316h0M247 339h0M248 275h0M248 286h0M248 296h0M249 259h0M249 283h0M249 290h0M249 302h0M249 309h0M249 319h0M249 325h0M249 350h0M249 355h0M250 259h0M250 262h0M250 272h0M250 289h0M250 315h0M250 320h0M250 351h0M250 355h0M251 255h0M252 237h0M252 262h0M252 333h0M252 340h0M252 345h0M252 359h0M253 243h0M253 338h0M253 349h0M253 364h0M254 250h0M255 352h0M255 357h0M255 360h0M255 373h0M256 229h0M256 234h0M256 245h0M256 251h0M256 352h0M256 371h0M257 233h0M257 357h0M257 366h0M257 373h0M258 225h0M258 243h0M259 370h0M260 372h0M260 383h0M261 229h0M263 235h0M263 375h0M263 376h0M264 218h0M264 220h0M264 382h0M266 376h0M266 383h0M267 376h0M267 385h0M267 386h0M268 212h0M268 218h0M268 381h0M269 213h0M269 216h0M269 397h0M270 220h0M270 392h0M270 398h0M271 213h0M271 389h0M271 391h0M271 397h0M271 398h0M273 399h0M273 403h0M275 202h0M275 203h0M276 197h0M276 399h0M276 408h0M277 399h0M278 395h0M279 397h0M282 200h0M282 402h0M283 189h0M283 191h0M283 194h0M283 200h0M283 406h0M284 413h0M286 191h0M286 412h0M286 416h0M286 418h0M287 408h0M289 194h0M293 418h0M294 421h0M295 178h0M295 420h0M295 425h0M296 186h0M300 422h0M301 172h0M301 180h0M302 175h0M304 173h0M304 425h0M305 174h0M305 427h0M306 429h0M307 431h0M307 435h0M309 168h0M309 174h0M311 173h0M314 165h0M314 440h0M319 438h0M319 440h0M321 162h0M322 443h0M324 438h0M325 158h0M326 442h0M327 444h0M328 443h0M328 449h0M329 445h0M333 157h0M337 154h0M337 158h0M338 454h0M340 453h0M342 152h0M343 152h0M345 153h0M346 153h0M346 455h0M349 150h0M349 452h0M350 456h0M351 456h0M352 150h0M354 451h0M354 457h0M356 451h0M356 455h0M356 458h0M360 146h0M363 457h0M365 146h0M365 457h0M366 145h0M368 454h0M368 460h0M369 143h0M369 456h0M370 458h0M370 462h0M371 454h0M372 147h0M373 145h0M373 148h0M375 145h0M376 462h0M377 460h0M378 142h0M379 144h0M383 141h0M384 146h0M385 146h0M387 459h0M390 147h0M393 457h0M394 457h0M395 460h0M396 145h0M397 143h0M397 145h0M398 144h0M399 145h0M404 146h0M405 145h0M405 146h0M406 143h0M406 459h0M408 146h0M409 457h0M411 455h0M413 457h0M414 148h0M415 150h0M418 456h0M420 150h0M424 148h0M425 455h0M425 457h0M426 149h0M428 453h0M429 151h0M429 152h0M432 449h0M435 151h0M435 155h0M435 454h0M437 151h0M437 453h0M438 453h0M440 157h0M442 153h0M442 445h0M442 450h0M444 448h0M448 156h0M448 157h0M448 449h0M450 448h0M452 440h0M454 161h0M454 440h0M455 164h0M457 442h0M459 436h0M459 441h0M460 163h0M465 167h0M467 433h0M470 174h0M475 427h0M476 176h0M476 423h0M476 429h0M477 423h0M477 428h0M478 176h0M479 423h0M481 178h0M481 418h0M485 182h0M486 183h0M486 185h0M488 184h0M491 409h0M492 410h0M492 412h0M493 410h0M495 197h0M498 407h0M499 406h0M500 198h0M501 205h0M502 205h0M502 208h0M503 401h0M504 210h0M505 209h0M507 386h0M507 387h0M509 388h0M511 220h0M513 225h0M514 377h0M514 381h0M515 381h0M517 235h0M517 238h0M517 367h0M518 365h0M519 240h0M519 363h0M519 374h0M520 358h0M520 366h0M521 363h0M522 247h0M522 352h0M522 353h0M522 367h0M523 361h0M524 245h0M525 262h0M525 354h0M525 359h0M526 255h0M526 341h0M527 268h0M528 260h0M528 265h0M528 267h0M528 276h0M528 277h0M528 333h0M528 343h0M528 346h0M529 285h0M529 342h0M530 280h0M530 311h0M530 318h0M531 269h0M531 279h0M531 318h0M532 292h0M532 302h0M532 309h0M532 320h0M532 327h0M532 332h0M533 279h0M533 283h0M533 286h0M533 288h0M533 291h0M533 301h0M533 318h0" stroke="#1a5ad4"/>
<path d="M250 297h0M250 316h0M251 303h0M252 286h0M252 310h0M253 302h0M253 314h0M253 326h0M253 328h0M254 294h0M254 301h0M254 304h0M255 268h0M255 269h0M255 282h0M256 263h0M256 269h0M256 343h0M257 259h0M257 274h0M257 335h0M259 257h0M260 249h0M261 346h0M262 240h0M262 244h0M262 248h0M263 248h0M263 354h0M264 241h0M264 244h0M264 245h0M264 364h0M265 242h0M266 241h0M267 362h0M267 371h0M272 222h0M272 375h0M272 378h0M274 220h0M275 389h0M278 386h0M278 393h0M279 393h0M280 391h0M281 395h0M283 208h0M284 395h0M285 399h0M286 204h0M287 203h0M287 402h0M289 198h0M291 410h0M292 193h0M292 194h0M292 406h0M292 411h0M293 192h0M293 405h0M293 413h0M294 193h0M294 408h0M294 413h0M297 190h0M297 416h0M298 189h0M300 414h0M302 417h0M308 179h0M309 178h0M309 422h0M312 175h0M312 176h0M313 177h0M313 425h0M314 426h0M314 427h0M316 427h0M317 172h0M318 432h0M318 433h0M321 167h0M324 433h0M332 165h0M332 440h0M336 162h0M338 160h0M338 441h0M340 442h0M342 159h0M343 443h0M343 445h0M344 446h0M345 156h0M350 154h0M353 449h0M354 447h0M355 448h0M362 153h0M365 151h0M365 450h0M367 449h0M367 453h0M368 151h0M368 452h0M369 151h0M372 151h0M374 452h0M375 453h0M376 150h0M378 150h0M378 451h0M378 452h0M378 454h0M379 149h0M381 148h0M382 149h0M382 150h0M386 148h0M396 453h0M404 452h0M409 150h0M411 151h0M415 451h0M417 452h0M420 449h0M422 448h0M426 154h0M433 444h0M434 445h0M436 157h0M436 158h0M436 444h0M437 445h0M440 443h0M441 444h0M448 441h0M449 439h0M450 440h0M451 437h0M456 168h0M456 434h0M462 433h0M468 428h0M469 177h0M470 425h0M472 425h0M474 421h0M474 423h0M475 179h0M477 184h0M479 186h0M480 418h0M482 414h0M484 188h0M484 412h0M484 414h0M489 193h0M489 195h0M489 406h0M489 409h0M493 401h0M493 402h0M493 403h0M495 201h0M498 399h0M500 208h0M500 209h0M501 211h0M501 212h0M503 215h0M503 388h0M503 390h0M509 224h0M513 230h0M513 234h0M513 369h0M514 371h0M515 234h0M515 363h0M516 240h0M517 239h0M517 240h0M518 243h0M518 360h0M519 245h0M519 357h0M520 353h0M520 355h0M521 347h0M522 347h0M522 348h0M522 350h0M523 344h0M524 269h0M524 333h0M525 274h0M525 339h0M526 274h0M526 332h0M527 293h0M528 292h0M528 302h0M528 323h0M529 292h0" stroke="#126add"/>
</g>
<ellipse cx="246.3" cy="735.7" rx="68.8" ry="76.1" fill="#0f77db"/>
<ellipse cx="246.9" cy="735.9" rx="67.1" ry="74.2" fill="#1481d5"/>
<ellipse cx="247.5" cy="736.2" rx="65.4" ry="72.2" fill="#1487d3"/>
<ellipse cx="248" cy="736.5" rx="63.7" ry="70.2" fill="#118dd2"/>
<ellipse cx="248.6" cy="736.8" rx="62" ry="68.2" fill="#0c94d2"/>
<ellipse cx="249.6" cy="736.8" rx="60.1" ry="66.9" fill="#089ad0"/>
<ellipse cx="250.7" cy="736.6" rx="58.2" ry="65.9" fill="#069fce"/>
<ellipse cx="251.9" cy="736.4" rx="56.2" ry="65" fill="#06a4ca"/>
<ellipse cx="253.1" cy="736.2" rx="54.3" ry="64" fill="#06a7c5"/>
<ellipse cx="254.2" cy="736" rx="52.3" ry="63" fill="#09abbf"/>
<ellipse cx="255.4" cy="735.8" rx="50.4" ry="62" fill="#0eaeba"/>
<ellipse cx="256.4" cy="735.6" rx="48.5" ry="61.1" fill="#17b1b3"/>
<ellipse cx="257.2" cy="735.4" rx="46.7" ry="60.1" fill="#21b4ac" transform="rotate(-0.9 257.2 735.4)"/>
<ellipse cx="258" cy="735.2" rx="45" ry="59.1" fill="#2cb7a5" transform="rotate(-1.5 258 735.2)"/>
<ellipse cx="258.8" cy="735" rx="43.2" ry="58.1" fill="#39b99d" transform="rotate(-2.1 258.8 735)"/>
<ellipse cx="259.6" cy="734.8" rx="41.5" ry="57.2" fill="#46bb95" transform="rotate(-2.8 259.6 734.8)"/>
<ellipse cx="260.4" cy="734.6" rx="39.7" ry="56.2" fill="#55bd8d" transform="rotate(-3.4 260.4 734.6)"/>
<ellipse cx="261.1" cy="734.4" rx="37.9" ry="55.2" fill="#65be86" transform="rotate(-4 261.1 734.4)"/>
<ellipse cx="261.9" cy="734.2" rx="36.2" ry="54.2" fill="#74bf7f" transform="rotate(-4.7 261.9 734.2)"/>
<ellipse cx="262.7" cy="734" rx="34.4" ry="53.2" fill="#83bf79" transform="rotate(-5.3 262.7 734)"/>
<ellipse cx="263.5" cy="733.8" rx="32.7" ry="52.3" fill="#91bf73" transform="rotate(-6 263.5 733.8)"/>
<ellipse cx="264.3" cy="733.6" rx="30.9" ry="51.3" fill="#9ebe6e" transform="rotate(-6.6 264.3 733.6)"/>
<ellipse cx="265" cy="733.4" rx="29.2" ry="50.3" fill="#aabe69" transform="rotate(-7.2 265 733.4)"/>
<ellipse cx="265.8" cy="733.3" rx="27.4" ry="49.3" fill="#b6bd64" transform="rotate(-7.9 265.8 733.3)"/>
<ellipse cx="266.1" cy="733.2" rx="26" ry="47.1" fill="#c1bc60" transform="rotate(-8 266.1 733.2)"/>
<ellipse cx="266.2" cy="733.2" rx="24.8" ry="44.6" fill="#ccbb5b" transform="rotate(-8 266.2 733.2)"/>
<ellipse cx="266.3" cy="733.2" rx="23.5" ry="42.1" fill="#d7ba57" transform="rotate(-8 266.3 733.2)"/>
<ellipse cx="266.4" cy="733.2" rx="22.2" ry="39.5" fill="#e1b952" transform="rotate(-8 266.4 733.2)"/>
<ellipse cx="266.5" cy="733.2" rx="20.9" ry="37" fill="#ecb94d" transform="rotate(-8 266.5 733.2)"/>
<ellipse cx="266.6" cy="733.2" rx="19.7" ry="34.4" fill="#f6ba46" transform="rotate(-8 266.6 733.2)"/>
<ellipse cx="266.7" cy="733.2" rx="18.4" ry="31.9" fill="#fdbe3e" transform="rotate(-8 266.7 733.2)"/>
<ellipse cx="266.7" cy="733.2" rx="17.1" ry="29.4" fill="#ffc436" transform="rotate(-8 266.7 733.2)"/>
<ellipse cx="266.8" cy="733.2" rx="15.9" ry="26.8" fill="#fdcb30" transform="rotate(-8 266.8 733.2)"/>
<ellipse cx="266.9" cy="733.2" rx="14.6" ry="24.3" fill="#fad22a" transform="rotate(-8 266.9 733.2)"/>
<ellipse cx="267" cy="733.2" rx="13.3" ry="21.7" fill="#f7d925" transform="rotate(-8 267 733.2)"/>
<ellipse cx="267.1" cy="733.2" rx="12.1" ry="19.2" fill="#f5e11f" transform="rotate(-8 267.1 733.2)"/>
<ellipse cx="267.2" cy="733.2" rx="9.9" ry="15.3" fill="#f5e919" transform="rotate(-8 267.2 733.2)"/>
<ellipse cx="267.2" cy="733.2" rx="4.1" ry="6.4" fill="#f6f313" transform="rotate(-8 267.2 733.2)"/>
<g transform="translate(50.9 585.3) scale(0.5)" fill="none" stroke="#fff" stroke-linecap="round">
<path d="M260 267h0M281 250h0M292 217h0M330 180h0M343 173h0M365 438h0M415 154h0M420 422h0M430 172h0M451 406h0M468 183h0M478 203h0M514 319h0M526 322h0M527 304h0" stroke-width="3"/>
<path d="M327 349h0M346 437h0M416 447h0M468 419h0M513 358h0" stroke-width="5"/>
</g>
<path d="M132.7 585.3v11M132.7 910.8v-11M214.5 585.3v11M214.5 910.8v-11M296.2 585.3v11M296.2 910.8v-11M50.9 666.7h11M378.0 666.7h-11M50.9 748h11M378.0 748h-11M50.9 829.4h11M378.0 829.4h-11" stroke="#3c3c3c" stroke-width="1.7" fill="none"/>
<path d="M214.4 585.3V910.8M50.9 748H378.0" stroke="#2b8cc6" stroke-width="1.1" fill="none"/>
<path d="M214.4 585.3V910.8M50.9 748H378.0" stroke="#2b8cc6" stroke-width="1.1" fill="none" opacity="0.45" style="mix-blend-mode:multiply"/>
<rect x="50.9" y="585.3" width="327.1" height="325.5" fill="none" stroke="#3c3c3c" stroke-width="1.7"/>
</g>
<g>
<g transform="translate(390.1 585.3) scale(0.5)" fill="none" stroke-width="9.3" stroke-linecap="round">
<path d="M56 228h0M64 362h0M64 432h0M65 219h0M111 231h0M127 391h0M132 177h0M134 219h0M136 220h0M137 215h0M141 275h0M146 268h0M146 272h0M147 321h0M148 363h0M154 361h0M156 282h0M156 351h0M157 354h0M157 363h0M158 252h0M159 314h0M159 398h0M161 226h0M161 263h0M164 414h0M172 184h0M175 410h0M179 389h0M179 390h0M186 192h0M186 197h0M187 403h0M188 186h0M189 407h0M192 494h0M195 436h0M197 174h0M205 176h0M206 143h0M210 169h0M213 153h0M218 444h0M221 452h0M227 470h0M229 154h0M233 457h0M234 148h0M241 462h0M251 112h0M252 136h0M259 121h0M259 131h0M264 128h0M265 72h0M265 111h0M268 119h0M278 92h0M280 103h0M285 117h0M289 117h0M292 489h0M294 537h0M300 560h0M312 105h0M317 500h0M319 104h0M321 38h0M328 497h0M333 499h0M337 498h0M340 108h0M344 498h0M357 41h0M358 103h0M370 94h0M378 32h0M378 507h0M385 102h0M387 502h0M389 497h0M397 107h0M397 504h0M397 526h0M403 493h0M409 102h0M412 103h0M421 114h0M423 93h0M433 484h0M438 108h0M442 480h0M444 487h0M445 123h0M455 119h0M458 525h0M459 124h0M464 467h0M466 135h0M472 464h0M479 84h0M480 459h0M481 132h0M483 146h0M485 457h0M486 144h0M487 479h0M492 153h0M492 459h0M493 457h0M496 452h0M499 445h0M503 501h0M506 146h0M507 448h0M513 148h0M514 171h0M517 445h0M519 419h0M521 434h0M522 422h0M526 174h0M528 167h0M532 139h0M539 415h0M540 391h0M541 394h0M542 205h0M546 381h0M549 367h0M552 257h0M552 355h0M553 372h0M558 397h0M559 282h0M560 288h0M560 350h0M562 320h0M563 338h0M566 272h0M580 361h0M587 365h0M594 216h0M617 370h0" stroke="#34289c"/>
<path d="M159 306h0M160 281h0M163 261h0M163 282h0M163 290h0M165 281h0M165 303h0M165 343h0M166 318h0M167 251h0M168 268h0M170 354h0M174 232h0M178 233h0M179 229h0M180 372h0M187 215h0M188 393h0M201 192h0M208 425h0M210 174h0M211 425h0M215 174h0M216 432h0M219 168h0M225 438h0M229 160h0M234 154h0M235 453h0M255 137h0M259 464h0M259 465h0M260 137h0M270 470h0M272 476h0M276 477h0M289 125h0M301 483h0M324 112h0M341 110h0M350 491h0M359 113h0M371 112h0M371 493h0M382 111h0M397 491h0M401 117h0M401 487h0M416 117h0M427 123h0M454 467h0M455 135h0M456 138h0M463 138h0M463 465h0M471 459h0M472 147h0M488 158h0M492 444h0M504 173h0M509 422h0M520 196h0M523 410h0M525 202h0M527 201h0M535 384h0M543 371h0M546 247h0M547 355h0M551 259h0M552 265h0M554 295h0" stroke="#33299f"/>
<path d="M167 294h0M171 298h0M171 313h0M172 268h0M172 293h0M174 261h0M174 274h0M174 277h0M174 325h0M174 332h0M176 337h0M177 359h0M178 243h0M178 247h0M178 348h0M178 355h0M179 253h0M179 350h0M179 367h0M182 365h0M187 224h0M188 221h0M188 226h0M190 211h0M190 212h0M203 403h0M203 404h0M206 193h0M208 187h0M208 194h0M208 411h0M220 427h0M222 178h0M223 434h0M227 167h0M227 434h0M229 164h0M230 436h0M230 442h0M245 157h0M245 448h0M247 151h0M259 141h0M262 143h0M266 464h0M273 466h0M278 131h0M289 128h0M292 478h0M294 125h0M300 478h0M304 478h0M315 483h0M317 486h0M321 483h0M325 120h0M326 119h0M332 116h0M337 116h0M350 119h0M353 490h0M381 487h0M382 117h0M383 487h0M393 120h0M400 121h0M403 123h0M408 483h0M415 123h0M425 126h0M430 129h0M441 473h0M445 137h0M449 468h0M455 143h0M465 460h0M470 148h0M482 445h0M483 445h0M491 168h0M499 172h0M500 429h0M501 176h0M510 183h0M511 419h0M513 415h0M513 417h0M514 415h0M520 404h0M524 398h0M530 215h0M530 218h0M531 382h0M538 228h0M538 230h0M539 239h0M548 334h0M548 341h0M549 301h0M550 301h0M551 310h0" stroke="#312ba5"/>
<path d="M176 276h0M176 279h0M176 335h0M177 276h0M177 283h0M177 305h0M178 294h0M178 303h0M179 259h0M179 263h0M179 347h0M180 283h0M180 345h0M181 268h0M182 351h0M183 271h0M183 333h0M184 357h0M185 251h0M187 241h0M187 359h0M189 366h0M190 228h0M190 238h0M192 228h0M192 367h0M194 230h0M196 214h0M197 225h0M198 215h0M198 393h0M200 212h0M200 384h0M201 209h0M201 391h0M205 394h0M208 196h0M212 408h0M222 183h0M222 420h0M227 183h0M232 429h0M233 173h0M247 163h0M251 156h0M252 451h0M254 450h0M264 148h0M272 142h0M276 144h0M278 464h0M282 141h0M292 132h0M295 472h0M301 476h0M303 474h0M307 474h0M309 474h0M312 131h0M323 125h0M326 122h0M326 479h0M341 120h0M345 120h0M345 124h0M352 484h0M353 483h0M363 122h0M365 484h0M370 484h0M371 482h0M376 124h0M377 482h0M381 482h0M391 124h0M399 482h0M415 478h0M417 474h0M418 475h0M437 136h0M442 140h0M442 466h0M445 139h0M445 140h0M454 458h0M457 458h0M460 151h0M463 150h0M465 454h0M467 454h0M469 451h0M470 448h0M470 450h0M475 448h0M484 164h0M488 170h0M488 435h0M489 168h0M498 177h0M498 426h0M502 418h0M505 415h0M505 417h0M507 193h0M510 412h0M513 196h0M520 212h0M520 398h0M521 395h0M524 212h0M526 219h0M528 218h0M531 375h0M533 375h0M534 232h0M534 235h0M536 359h0M537 249h0M539 247h0M539 351h0M539 353h0M540 246h0M541 353h0M542 340h0M543 337h0M544 262h0M544 268h0M546 321h0M546 334h0M547 293h0" stroke="#2e31af"/>
<path d="M182 295h0M182 302h0M182 311h0M182 321h0M183 281h0M183 319h0M184 281h0M184 283h0M184 298h0M184 312h0M184 314h0M184 317h0M185 310h0M185 320h0M185 327h0M185 337h0M186 269h0M186 331h0M186 334h0M187 274h0M187 276h0M187 298h0M187 331h0M188 252h0M188 337h0M189 274h0M189 356h0M190 265h0M191 255h0M192 242h0M192 343h0M193 349h0M193 351h0M194 360h0M195 233h0M195 356h0M200 223h0M202 377h0M203 223h0M203 389h0M204 378h0M204 384h0M206 381h0M206 392h0M210 218h0M210 395h0M211 205h0M211 216h0M211 395h0M211 401h0M213 403h0M215 210h0M217 199h0M218 197h0M220 193h0M222 194h0M225 414h0M227 186h0M228 183h0M231 425h0M233 183h0M233 421h0M235 176h0M235 179h0M236 426h0M237 177h0M239 433h0M240 172h0M241 170h0M250 170h0M250 438h0M250 442h0M253 444h0M257 161h0M259 158h0M261 448h0M262 155h0M263 448h0M264 449h0M265 158h0M267 450h0M268 154h0M276 457h0M277 151h0M278 145h0M280 147h0M282 145h0M282 462h0M287 464h0M290 139h0M290 142h0M293 466h0M295 138h0M298 139h0M304 136h0M307 134h0M309 138h0M309 474h0M312 473h0M317 475h0M318 134h0M318 472h0M320 130h0M320 134h0M324 474h0M325 132h0M329 478h0M335 477h0M336 477h0M338 127h0M339 479h0M342 126h0M345 478h0M349 479h0M355 480h0M356 127h0M356 129h0M359 126h0M369 479h0M372 128h0M378 128h0M380 479h0M397 476h0M401 130h0M411 474h0M417 474h0M420 136h0M421 138h0M425 135h0M425 468h0M428 467h0M435 143h0M437 142h0M438 466h0M441 143h0M441 146h0M445 146h0M456 150h0M457 152h0M459 155h0M459 452h0M463 452h0M466 157h0M467 159h0M468 449h0M471 443h0M474 163h0M474 165h0M477 441h0M482 170h0M486 173h0M486 177h0M486 430h0M488 173h0M489 431h0M491 428h0M495 183h0M498 185h0M499 417h0M502 192h0M505 413h0M507 408h0M508 409h0M513 401h0M515 400h0M516 213h0M516 393h0M521 387h0M523 385h0M524 227h0M526 233h0M527 226h0M528 235h0M529 235h0M530 233h0M531 236h0M531 364h0M531 369h0M532 245h0M534 246h0M534 255h0M535 253h0M537 261h0M537 265h0M540 324h0M540 326h0M540 334h0M541 287h0M541 288h0M541 289h0M541 304h0M541 327h0M542 288h0M542 293h0M542 301h0M542 304h0M542 305h0M542 324h0M542 333h0M543 281h0M543 300h0M544 301h0M544 303h0M544 311h0" stroke="#2c37b9"/>
<path d="M189 295h0M189 298h0M189 299h0M191 283h0M191 313h0M191 339h0M192 284h0M192 305h0M192 327h0M193 297h0M193 300h0M193 312h0M193 317h0M193 325h0M193 328h0M193 343h0M194 298h0M194 303h0M194 325h0M194 336h0M194 340h0M194 343h0M195 261h0M195 266h0M195 334h0M196 249h0M196 256h0M196 266h0M196 343h0M197 256h0M197 349h0M197 360h0M198 338h0M198 345h0M198 355h0M199 251h0M201 361h0M201 371h0M203 245h0M203 246h0M204 235h0M205 365h0M206 242h0M207 368h0M211 221h0M211 377h0M212 227h0M212 384h0M214 218h0M215 393h0M216 396h0M219 214h0M219 390h0M219 396h0M223 208h0M223 209h0M223 399h0M223 400h0M226 201h0M226 205h0M226 411h0M227 203h0M229 407h0M229 416h0M230 191h0M231 410h0M232 190h0M235 187h0M235 416h0M238 187h0M239 185h0M243 179h0M244 424h0M245 181h0M245 183h0M251 172h0M254 436h0M255 434h0M256 166h0M257 167h0M258 171h0M259 171h0M261 441h0M264 445h0M265 160h0M265 166h0M265 444h0M266 445h0M267 447h0M268 160h0M268 163h0M271 155h0M273 155h0M278 155h0M280 154h0M284 458h0M286 149h0M288 152h0M289 150h0M291 462h0M292 459h0M295 146h0M297 463h0M298 461h0M303 140h0M303 141h0M303 462h0M308 465h0M311 140h0M320 135h0M320 137h0M325 133h0M327 472h0M330 472h0M333 470h0M339 134h0M343 132h0M344 473h0M347 135h0M349 131h0M351 133h0M351 474h0M354 131h0M354 474h0M357 476h0M358 474h0M363 129h0M363 131h0M366 131h0M367 129h0M368 476h0M370 130h0M371 474h0M372 134h0M372 474h0M378 474h0M381 134h0M381 476h0M383 474h0M386 474h0M388 472h0M388 474h0M390 474h0M392 132h0M393 133h0M394 132h0M397 473h0M401 470h0M403 137h0M405 469h0M405 470h0M411 468h0M416 467h0M416 470h0M419 142h0M422 466h0M425 466h0M426 465h0M428 464h0M428 466h0M430 463h0M433 145h0M434 145h0M435 462h0M440 459h0M443 151h0M445 458h0M453 451h0M456 154h0M463 163h0M464 163h0M465 443h0M467 443h0M468 162h0M469 166h0M477 435h0M485 176h0M485 182h0M492 423h0M493 188h0M499 196h0M500 193h0M500 195h0M510 395h0M510 398h0M510 399h0M511 213h0M512 393h0M513 214h0M515 390h0M518 385h0M519 226h0M521 225h0M522 375h0M523 373h0M525 243h0M526 239h0M526 365h0M527 237h0M527 359h0M527 362h0M527 368h0M527 369h0M529 244h0M529 355h0M529 364h0M530 253h0M530 351h0M532 256h0M532 258h0M532 345h0M533 262h0M533 270h0M533 337h0M534 340h0M534 349h0M535 344h0M535 346h0M536 273h0M536 343h0M537 286h0M537 309h0M538 277h0M538 319h0M538 323h0M538 331h0" stroke="#2741c2"/>
<path d="M195 295h0M195 301h0M196 292h0M196 298h0M196 317h0M197 276h0M197 283h0M198 285h0M198 314h0M198 319h0M198 326h0M199 287h0M199 293h0M199 309h0M200 283h0M200 287h0M200 298h0M200 321h0M201 263h0M201 270h0M201 296h0M201 316h0M201 336h0M201 340h0M202 272h0M202 327h0M202 344h0M203 324h0M203 330h0M203 342h0M203 354h0M204 250h0M204 255h0M204 258h0M204 260h0M204 266h0M204 355h0M206 251h0M206 256h0M206 343h0M207 362h0M208 352h0M208 361h0M209 254h0M211 245h0M211 367h0M211 372h0M213 366h0M214 377h0M215 238h0M216 224h0M216 225h0M216 370h0M217 221h0M217 224h0M217 234h0M218 220h0M218 231h0M219 217h0M220 227h0M220 391h0M221 222h0M221 387h0M222 213h0M222 216h0M222 392h0M226 218h0M227 211h0M228 215h0M228 394h0M228 396h0M229 208h0M229 213h0M230 206h0M231 200h0M231 206h0M231 398h0M231 406h0M232 403h0M233 205h0M234 200h0M234 206h0M237 196h0M237 201h0M237 416h0M240 410h0M241 189h0M242 196h0M242 414h0M242 415h0M244 418h0M244 422h0M246 420h0M247 185h0M248 185h0M250 188h0M251 429h0M252 424h0M252 425h0M253 182h0M254 426h0M256 428h0M257 173h0M259 430h0M260 433h0M263 433h0M263 436h0M267 440h0M269 171h0M271 443h0M276 442h0M280 447h0M281 161h0M281 448h0M283 161h0M284 160h0M286 158h0M286 452h0M292 154h0M292 456h0M293 156h0M295 151h0M295 156h0M297 153h0M302 147h0M302 151h0M304 147h0M305 146h0M307 149h0M307 463h0M308 147h0M310 145h0M310 461h0M315 142h0M316 466h0M322 142h0M327 140h0M328 466h0M330 143h0M335 142h0M337 141h0M340 469h0M344 470h0M345 471h0M346 139h0M347 138h0M352 472h0M353 139h0M356 136h0M358 137h0M358 472h0M359 137h0M365 473h0M366 472h0M367 470h0M369 136h0M371 136h0M371 470h0M372 135h0M373 138h0M374 471h0M375 471h0M376 135h0M377 139h0M378 471h0M379 472h0M381 138h0M381 470h0M383 135h0M384 137h0M385 469h0M387 139h0M390 471h0M392 469h0M396 469h0M396 470h0M402 139h0M402 143h0M402 467h0M404 139h0M408 141h0M411 142h0M412 144h0M412 466h0M416 463h0M419 143h0M419 147h0M422 144h0M424 145h0M425 146h0M425 149h0M427 146h0M429 460h0M430 461h0M432 458h0M433 149h0M434 459h0M437 458h0M438 152h0M445 154h0M446 154h0M449 157h0M454 446h0M455 447h0M458 163h0M461 168h0M461 445h0M462 168h0M471 433h0M473 175h0M474 173h0M476 179h0M477 178h0M481 183h0M482 181h0M485 183h0M485 184h0M486 185h0M487 419h0M491 195h0M491 416h0M492 193h0M492 195h0M495 196h0M496 199h0M498 406h0M501 404h0M503 403h0M506 208h0M506 394h0M509 213h0M509 216h0M511 384h0M512 218h0M512 387h0M513 220h0M514 223h0M514 224h0M514 227h0M514 384h0M515 223h0M515 227h0M516 226h0M516 381h0M517 374h0M517 376h0M518 231h0M518 234h0M520 237h0M521 239h0M521 240h0M522 246h0M522 361h0M524 356h0M524 360h0M526 249h0M526 353h0M526 360h0M527 257h0M527 263h0M529 272h0M529 350h0M529 354h0M530 264h0M530 330h0M530 346h0M530 351h0M531 270h0M531 330h0M532 289h0M532 321h0M533 283h0M533 313h0M533 317h0M534 292h0M534 305h0M534 321h0M534 326h0M536 296h0" stroke="#214ccc"/>
<path d="M204 309h0M205 283h0M205 292h0M205 311h0M206 271h0M206 307h0M206 314h0M207 268h0M207 303h0M207 331h0M207 338h0M208 262h0M208 299h0M208 326h0M208 330h0M209 279h0M209 282h0M209 287h0M209 289h0M209 323h0M209 336h0M209 338h0M210 328h0M210 354h0M212 342h0M212 345h0M213 245h0M213 362h0M214 246h0M214 350h0M215 242h0M215 249h0M215 357h0M215 369h0M216 254h0M216 353h0M217 361h0M218 243h0M218 246h0M218 368h0M220 366h0M220 376h0M221 228h0M221 233h0M221 370h0M221 378h0M222 374h0M222 377h0M222 378h0M223 227h0M223 231h0M223 383h0M223 385h0M224 236h0M225 220h0M225 227h0M229 385h0M231 213h0M231 224h0M231 392h0M234 394h0M234 399h0M235 214h0M235 403h0M236 209h0M236 215h0M236 398h0M237 403h0M238 407h0M239 201h0M240 201h0M240 408h0M242 409h0M243 410h0M245 193h0M245 407h0M246 195h0M246 415h0M248 195h0M248 200h0M248 415h0M248 416h0M249 412h0M250 189h0M250 190h0M250 192h0M250 196h0M251 420h0M254 184h0M255 185h0M257 422h0M257 423h0M260 183h0M261 431h0M262 180h0M264 176h0M266 427h0M268 172h0M268 174h0M270 435h0M273 171h0M273 173h0M273 174h0M273 439h0M274 435h0M275 167h0M275 174h0M275 435h0M276 440h0M277 442h0M278 172h0M280 166h0M282 165h0M282 166h0M283 168h0M283 442h0M283 444h0M285 161h0M286 446h0M287 444h0M287 447h0M288 446h0M290 163h0M291 449h0M292 450h0M293 158h0M293 451h0M294 450h0M297 453h0M299 160h0M300 159h0M300 449h0M306 452h0M309 154h0M311 153h0M314 153h0M314 458h0M320 460h0M322 145h0M326 146h0M328 464h0M329 144h0M331 465h0M335 465h0M336 147h0M337 465h0M339 144h0M340 465h0M341 143h0M346 145h0M347 465h0M348 467h0M359 144h0M361 143h0M361 466h0M362 469h0M363 141h0M363 469h0M366 143h0M367 469h0M371 141h0M371 465h0M372 144h0M374 466h0M377 465h0M377 467h0M386 466h0M389 468h0M390 464h0M390 466h0M390 467h0M391 464h0M393 145h0M393 146h0M394 466h0M397 146h0M398 145h0M400 146h0M403 147h0M405 148h0M406 463h0M408 146h0M408 464h0M411 462h0M416 150h0M420 457h0M424 150h0M425 155h0M426 151h0M428 456h0M435 453h0M435 454h0M436 454h0M440 158h0M443 158h0M443 159h0M449 164h0M455 167h0M456 167h0M456 441h0M459 170h0M460 170h0M460 436h0M461 174h0M462 435h0M462 439h0M463 435h0M464 176h0M465 172h0M465 175h0M468 175h0M468 176h0M472 430h0M472 431h0M475 185h0M477 423h0M478 423h0M479 424h0M481 190h0M482 418h0M486 195h0M488 415h0M490 196h0M491 197h0M494 405h0M494 408h0M497 400h0M498 209h0M501 399h0M503 213h0M505 221h0M505 393h0M506 219h0M507 224h0M508 387h0M509 219h0M509 224h0M513 231h0M513 235h0M517 240h0M520 357h0M521 359h0M522 349h0M523 253h0M523 263h0M523 348h0M524 264h0M524 266h0M524 354h0M525 341h0M526 331h0M526 348h0M527 272h0M527 332h0M528 273h0M528 294h0M528 305h0M528 324h0M529 282h0M529 304h0M529 332h0M529 333h0M530 292h0M530 296h0M530 307h0M530 315h0M530 317h0M531 323h0M532 296h0M532 301h0" stroke="#1a5ad4"/>
<path d="M209 305h0M210 288h0M210 289h0M211 290h0M211 296h0M211 325h0M211 326h0M212 283h0M212 296h0M212 326h0M213 274h0M213 307h0M213 325h0M213 341h0M214 278h0M214 330h0M214 331h0M216 346h0M216 348h0M216 352h0M218 357h0M219 251h0M220 360h0M222 246h0M222 249h0M222 366h0M223 362h0M225 370h0M226 236h0M227 235h0M227 236h0M230 231h0M233 225h0M234 222h0M234 223h0M235 390h0M236 391h0M241 209h0M241 400h0M242 400h0M244 401h0M245 204h0M247 404h0M259 419h0M261 189h0M264 187h0M276 434h0M278 173h0M281 171h0M283 439h0M284 439h0M285 171h0M296 162h0M296 165h0M304 158h0M304 451h0M307 452h0M308 451h0M316 455h0M316 456h0M319 154h0M320 153h0M320 457h0M324 456h0M327 151h0M349 462h0M356 463h0M359 463h0M360 145h0M362 464h0M367 147h0M375 464h0M377 147h0M396 462h0M399 460h0M399 462h0M400 150h0M405 460h0M410 150h0M410 151h0M411 151h0M418 457h0M425 453h0M427 452h0M429 452h0M430 451h0M433 159h0M437 161h0M438 447h0M445 165h0M445 444h0M453 441h0M455 439h0M460 435h0M464 432h0M469 180h0M470 428h0M473 425h0M474 185h0M475 187h0M479 419h0M481 416h0M482 416h0M485 197h0M487 197h0M488 200h0M489 202h0M494 209h0M495 400h0M497 399h0M500 394h0M501 217h0M502 390h0M507 227h0M507 383h0M509 380h0M510 377h0M510 378h0M512 236h0M512 238h0M514 240h0M514 242h0M517 359h0M519 357h0M521 260h0M521 262h0M521 344h0M521 349h0M523 266h0M524 338h0M525 291h0M525 329h0M526 293h0M526 314h0M527 324h0" stroke="#126add"/>
</g>
<ellipse cx="574.7" cy="737.7" rx="79.1" ry="79.8" fill="#0f77db"/>
<ellipse cx="574.9" cy="737.9" rx="77" ry="77.8" fill="#1481d5"/>
<ellipse cx="575.2" cy="738.1" rx="74.9" ry="75.7" fill="#1487d3"/>
<ellipse cx="575.5" cy="738.3" rx="72.9" ry="73.7" fill="#118dd2"/>
<ellipse cx="575.7" cy="738.5" rx="70.8" ry="71.6" fill="#0c94d2"/>
<ellipse cx="576" cy="738.2" rx="68.7" ry="69.6" fill="#089ad0"/>
<ellipse cx="576.3" cy="737.8" rx="66.5" ry="67.6" fill="#069fce"/>
<ellipse cx="576.7" cy="737.4" rx="64.4" ry="65.6" fill="#06a4ca"/>
<ellipse cx="577" cy="736.9" rx="62.2" ry="63.7" fill="#06a7c5"/>
<ellipse cx="577.3" cy="736.5" rx="60" ry="61.7" fill="#09abbf"/>
<ellipse cx="577.6" cy="736.1" rx="57.9" ry="59.7" fill="#0eaeba"/>
<ellipse cx="577.8" cy="735.7" rx="55.9" ry="57.9" fill="#17b1b3"/>
<ellipse cx="577.8" cy="735.6" rx="54.4" ry="56.5" fill="#21b4ac"/>
<ellipse cx="577.8" cy="735.4" rx="52.8" ry="55.1" fill="#2cb7a5"/>
<ellipse cx="577.8" cy="735.3" rx="51.3" ry="53.7" fill="#39b99d"/>
<ellipse cx="577.8" cy="735.1" rx="49.7" ry="52.3" fill="#46bb95"/>
<ellipse cx="577.8" cy="735" rx="48.2" ry="51" fill="#55bd8d"/>
<ellipse cx="577.8" cy="734.8" rx="46.6" ry="49.6" fill="#65be86"/>
<ellipse cx="577.8" cy="734.6" rx="45.1" ry="48.2" fill="#74bf7f"/>
<ellipse cx="577.8" cy="734.5" rx="43.5" ry="46.8" fill="#83bf79"/>
<ellipse cx="577.8" cy="734.3" rx="42" ry="45.4" fill="#91bf73"/>
<ellipse cx="577.8" cy="734.2" rx="40.4" ry="44" fill="#9ebe6e"/>
<ellipse cx="577.8" cy="734" rx="38.9" ry="42.6" fill="#aabe69"/>
<ellipse cx="577.8" cy="733.9" rx="37.3" ry="41.2" fill="#b6bd64"/>
<ellipse cx="578" cy="734" rx="35.5" ry="39.2" fill="#c1bc60"/>
<ellipse cx="578.3" cy="734.1" rx="33.7" ry="37" fill="#ccbb5b"/>
<ellipse cx="578.6" cy="734.3" rx="31.8" ry="34.9" fill="#d7ba57"/>
<ellipse cx="579" cy="734.4" rx="30" ry="32.7" fill="#e1b952"/>
<ellipse cx="579.3" cy="734.6" rx="28.1" ry="30.5" fill="#ecb94d"/>
<ellipse cx="579.6" cy="734.7" rx="26.3" ry="28.4" fill="#f6ba46"/>
<ellipse cx="579.9" cy="734.9" rx="24.4" ry="26.2" fill="#fdbe3e"/>
<ellipse cx="580.2" cy="735" rx="22.5" ry="24" fill="#ffc436"/>
<ellipse cx="580.5" cy="735.2" rx="20.7" ry="21.8" fill="#fdcb30"/>
<ellipse cx="580.8" cy="735.4" rx="18.8" ry="19.7" fill="#fad22a"/>
<ellipse cx="581.1" cy="735.5" rx="17" ry="17.5" fill="#f7d925"/>
<ellipse cx="581.4" cy="735.7" rx="15.1" ry="15.3" fill="#f5e11f"/>
<ellipse cx="581.7" cy="735.8" rx="12.2" ry="12.2" fill="#f5e919"/>
<ellipse cx="581.7" cy="735.8" rx="5.1" ry="5.1" fill="#f6f313"/>
<g transform="translate(390.1 585.3) scale(0.5)" fill="none" stroke="#fff" stroke-linecap="round">
<path d="M221 364h0M232 258h0M236 294h0M258 414h0M360 464h0M430 157h0M466 430h0M469 183h0M482 396h0M519 300h0M523 321h0" stroke-width="3"/>
<path d="M223 339h0M233 312h0M245 274h0M341 153h0M485 202h0M487 403h0M527 286h0" stroke-width="5"/>
<path d="M312 167h0M319 152h0M515 319h0M519 274h0" stroke-width="7"/>
</g>
<path d="M471.8 585.3v11M471.8 910.8v-11M553.5 585.3v11M553.5 910.8v-11M635.3 585.3v11M635.3 910.8v-11M390.1 666.7h11M717.0 666.7h-11M390.1 748h11M717.0 748h-11M390.1 829.4h11M717.0 829.4h-11" stroke="#3c3c3c" stroke-width="1.7" fill="none"/>
<path d="M553.5 585.3V910.8M390.1 748H717.0" stroke="#2b8cc6" stroke-width="1.1" fill="none"/>
<path d="M553.5 585.3V910.8M390.1 748H717.0" stroke="#2b8cc6" stroke-width="1.1" fill="none" opacity="0.45" style="mix-blend-mode:multiply"/>
<rect x="390.1" y="585.3" width="326.9" height="325.5" fill="none" stroke="#3c3c3c" stroke-width="1.7"/>
</g>
<g>
<g transform="translate(730.5 585.3) scale(0.5)" fill="none" stroke-width="9.3" stroke-linecap="round">
<path d="M93 228h0M95 253h0M117 237h0M128 386h0M132 139h0M134 316h0M134 340h0M138 176h0M141 253h0M141 260h0M141 300h0M142 356h0M143 274h0M143 310h0M143 315h0M143 348h0M143 399h0M145 358h0M146 339h0M147 310h0M147 323h0M147 329h0M148 275h0M148 328h0M151 265h0M153 345h0M157 156h0M157 349h0M157 350h0M158 385h0M160 171h0M160 202h0M161 235h0M162 224h0M163 376h0M166 210h0M166 220h0M166 387h0M168 435h0M174 203h0M175 200h0M179 397h0M183 405h0M185 140h0M185 405h0M185 422h0M190 93h0M193 430h0M199 166h0M203 432h0M205 172h0M206 432h0M209 169h0M210 157h0M211 476h0M212 457h0M215 163h0M219 484h0M224 153h0M225 462h0M227 147h0M229 468h0M232 146h0M233 134h0M234 464h0M235 139h0M237 462h0M241 139h0M253 135h0M254 97h0M254 466h0M255 129h0M257 489h0M260 101h0M260 110h0M270 497h0M280 113h0M286 477h0M287 120h0M288 482h0M289 478h0M295 117h0M296 519h0M297 485h0M297 497h0M299 98h0M300 110h0M302 483h0M305 489h0M307 110h0M313 495h0M320 103h0M323 492h0M330 103h0M330 499h0M335 36h0M336 560h0M337 56h0M342 503h0M359 11h0M360 488h0M363 499h0M372 114h0M375 510h0M379 102h0M384 484h0M385 520h0M391 487h0M394 121h0M397 114h0M399 27h0M405 25h0M408 551h0M416 122h0M420 539h0M424 130h0M425 114h0M427 127h0M430 483h0M437 136h0M438 482h0M439 466h0M439 524h0M442 140h0M444 138h0M447 135h0M453 458h0M454 461h0M458 455h0M461 141h0M463 150h0M464 466h0M465 452h0M465 460h0M466 470h0M466 554h0M470 149h0M481 163h0M482 155h0M484 169h0M485 151h0M485 444h0M487 478h0M502 176h0M504 410h0M504 429h0M512 402h0M520 192h0M521 380h0M521 392h0M527 228h0M530 364h0M533 207h0M533 361h0M533 440h0M534 249h0M535 199h0M535 220h0M535 373h0M537 358h0M539 327h0M540 399h0M543 286h0M543 424h0M548 246h0M552 298h0M553 324h0M554 109h0M555 168h0M563 242h0M563 335h0M611 249h0" stroke="#34289c"/>
<path d="M153 313h0M155 304h0M155 315h0M156 304h0M157 285h0M157 321h0M157 328h0M160 260h0M161 341h0M163 258h0M163 353h0M164 240h0M167 237h0M170 231h0M177 385h0M186 400h0M188 194h0M189 199h0M196 413h0M197 418h0M203 420h0M211 172h0M214 167h0M215 436h0M217 163h0M224 162h0M227 444h0M248 143h0M254 460h0M257 463h0M260 137h0M264 468h0M268 132h0M286 125h0M313 483h0M341 483h0M359 484h0M373 121h0M380 482h0M393 122h0M401 477h0M406 128h0M426 134h0M430 467h0M434 464h0M450 150h0M464 158h0M466 442h0M466 443h0M468 443h0M469 443h0M470 442h0M480 172h0M480 429h0M497 415h0M499 189h0M503 196h0M504 406h0M504 407h0M511 210h0M512 212h0M513 393h0M519 225h0M524 366h0M526 244h0M528 360h0M529 351h0M532 263h0M536 302h0" stroke="#33299f"/>
<path d="M158 293h0M158 302h0M159 315h0M160 278h0M160 325h0M162 312h0M163 331h0M166 255h0M173 239h0M177 227h0M178 376h0M179 381h0M180 382h0M185 213h0M186 207h0M186 393h0M187 390h0M190 394h0M190 395h0M193 402h0M195 201h0M195 408h0M208 417h0M210 179h0M220 171h0M223 165h0M232 160h0M236 445h0M239 447h0M242 152h0M243 450h0M245 450h0M258 143h0M269 461h0M271 136h0M272 465h0M277 133h0M301 473h0M302 471h0M303 476h0M314 127h0M319 122h0M339 124h0M339 479h0M353 123h0M355 478h0M358 125h0M360 476h0M365 124h0M373 475h0M380 126h0M393 473h0M398 129h0M405 472h0M406 467h0M409 133h0M412 136h0M418 465h0M425 140h0M441 146h0M441 149h0M447 152h0M448 150h0M450 153h0M453 153h0M476 431h0M484 422h0M488 416h0M491 411h0M492 186h0M499 198h0M500 402h0M502 205h0M503 203h0M505 397h0M507 208h0M509 388h0M521 232h0M521 359h0M523 237h0M523 238h0M523 239h0M524 363h0M527 261h0M529 262h0M530 271h0M532 298h0M532 322h0M532 330h0M533 288h0M533 298h0" stroke="#312ba5"/>
<path d="M164 317h0M165 323h0M167 294h0M167 298h0M168 266h0M169 330h0M170 330h0M170 342h0M172 336h0M173 351h0M178 361h0M181 226h0M182 370h0M184 372h0M185 379h0M186 222h0M186 375h0M194 205h0M194 207h0M198 395h0M206 191h0M208 188h0M208 408h0M209 412h0M212 188h0M216 423h0M221 423h0M222 173h0M224 171h0M227 173h0M228 171h0M232 167h0M237 163h0M241 159h0M244 443h0M245 445h0M249 155h0M251 156h0M256 152h0M262 146h0M264 144h0M265 146h0M277 140h0M289 136h0M290 137h0M293 135h0M309 468h0M319 128h0M319 472h0M323 472h0M333 127h0M336 130h0M343 129h0M344 128h0M350 474h0M351 473h0M356 471h0M358 128h0M360 474h0M364 471h0M370 127h0M376 129h0M376 132h0M384 129h0M388 134h0M389 467h0M398 133h0M399 467h0M401 134h0M402 136h0M403 134h0M403 135h0M404 466h0M406 464h0M407 138h0M410 464h0M411 463h0M419 142h0M420 457h0M420 458h0M425 145h0M427 147h0M429 144h0M431 456h0M434 451h0M435 149h0M435 150h0M436 452h0M438 449h0M440 153h0M440 448h0M440 450h0M442 449h0M443 152h0M446 447h0M449 155h0M449 157h0M452 156h0M457 160h0M458 436h0M464 435h0M465 430h0M474 177h0M478 418h0M479 183h0M479 417h0M489 193h0M491 191h0M493 195h0M498 203h0M500 204h0M500 396h0M500 397h0M505 212h0M505 387h0M508 384h0M512 222h0M512 223h0M515 368h0M516 236h0M516 362h0M521 351h0M521 357h0M523 353h0M525 267h0M526 327h0M526 343h0M527 276h0M527 326h0M528 285h0M528 315h0M530 300h0M530 309h0" stroke="#2e31af"/>
<path d="M171 270h0M172 274h0M172 286h0M172 290h0M172 317h0M173 268h0M173 333h0M174 334h0M174 340h0M175 256h0M175 338h0M175 344h0M175 347h0M178 256h0M178 342h0M180 248h0M180 252h0M182 246h0M192 377h0M193 379h0M193 381h0M198 209h0M198 389h0M199 213h0M200 391h0M203 200h0M204 396h0M205 204h0M206 400h0M207 198h0M207 199h0M207 400h0M210 196h0M211 404h0M211 410h0M212 408h0M216 184h0M217 412h0M219 414h0M220 418h0M226 178h0M240 431h0M241 431h0M243 433h0M243 435h0M247 435h0M252 156h0M252 158h0M255 156h0M265 451h0M268 453h0M270 151h0M272 451h0M273 146h0M273 147h0M273 452h0M276 452h0M278 456h0M280 148h0M281 458h0M283 459h0M287 460h0M290 461h0M293 458h0M296 142h0M297 140h0M302 465h0M307 465h0M311 136h0M312 464h0M321 464h0M325 468h0M329 131h0M330 467h0M331 135h0M339 131h0M339 468h0M341 466h0M353 469h0M355 130h0M366 132h0M366 469h0M372 134h0M374 133h0M380 468h0M383 134h0M388 138h0M392 136h0M393 463h0M394 140h0M394 463h0M402 458h0M404 460h0M405 141h0M411 143h0M416 453h0M416 454h0M418 453h0M420 148h0M420 454h0M430 452h0M431 448h0M433 152h0M433 153h0M440 444h0M451 163h0M451 436h0M454 168h0M460 168h0M461 171h0M465 427h0M467 174h0M472 422h0M475 185h0M482 409h0M482 410h0M489 199h0M493 394h0M498 211h0M498 392h0M506 373h0M507 374h0M508 228h0M510 232h0M511 232h0M513 364h0M514 356h0M515 237h0M516 243h0M517 249h0M517 251h0M517 354h0M518 250h0M520 257h0M520 341h0M521 265h0M522 259h0M522 262h0M523 284h0M523 330h0M523 332h0M524 269h0M524 280h0M524 319h0M525 277h0M525 300h0M525 327h0M526 321h0M527 299h0M527 311h0M528 302h0" stroke="#2c37b9"/>
<path d="M175 280h0M175 316h0M175 322h0M176 299h0M177 301h0M177 315h0M178 276h0M178 285h0M178 321h0M179 324h0M179 331h0M180 268h0M181 257h0M181 262h0M181 268h0M181 341h0M182 351h0M185 253h0M186 243h0M186 247h0M186 249h0M186 251h0M186 360h0M192 229h0M192 230h0M192 233h0M192 364h0M195 226h0M196 373h0M196 382h0M202 211h0M203 208h0M205 388h0M206 391h0M206 396h0M209 204h0M209 205h0M209 394h0M210 201h0M212 396h0M213 203h0M216 198h0M217 197h0M217 403h0M217 409h0M219 195h0M223 190h0M224 183h0M225 184h0M226 188h0M229 415h0M232 419h0M233 422h0M234 176h0M242 174h0M244 168h0M245 168h0M249 432h0M251 168h0M253 166h0M253 434h0M256 439h0M258 438h0M259 159h0M260 159h0M264 444h0M267 158h0M270 154h0M271 153h0M272 447h0M273 154h0M274 446h0M278 150h0M280 451h0M282 148h0M284 150h0M285 147h0M286 146h0M293 148h0M293 453h0M294 452h0M303 143h0M315 139h0M319 459h0M322 462h0M323 459h0M325 139h0M326 460h0M333 462h0M335 461h0M337 461h0M340 461h0M341 462h0M345 460h0M351 463h0M354 460h0M355 462h0M356 463h0M361 462h0M362 464h0M363 138h0M364 138h0M364 462h0M367 139h0M370 464h0M375 462h0M376 138h0M376 461h0M382 459h0M384 141h0M389 456h0M392 144h0M393 140h0M394 141h0M409 149h0M409 451h0M413 148h0M414 149h0M414 150h0M419 151h0M420 448h0M421 445h0M422 151h0M426 447h0M428 154h0M428 157h0M428 444h0M432 158h0M433 155h0M434 444h0M435 159h0M437 438h0M439 437h0M443 436h0M444 437h0M447 168h0M449 433h0M450 167h0M450 432h0M452 428h0M452 430h0M456 429h0M457 427h0M458 424h0M459 428h0M460 427h0M466 417h0M466 419h0M466 420h0M468 419h0M471 182h0M474 415h0M476 190h0M479 190h0M479 409h0M486 204h0M494 385h0M495 384h0M496 383h0M496 389h0M500 222h0M503 226h0M505 230h0M505 233h0M505 367h0M511 241h0M513 250h0M513 357h0M514 251h0M514 347h0M516 262h0M516 345h0M517 268h0M517 330h0M519 283h0M519 324h0M520 270h0M520 317h0M521 272h0M521 316h0M521 320h0M523 287h0M523 292h0" stroke="#2741c2"/>
<path d="M178 309h0M181 289h0M181 292h0M181 305h0M181 310h0M181 319h0M182 307h0M182 308h0M182 311h0M182 334h0M183 268h0M183 295h0M185 275h0M185 322h0M185 331h0M186 268h0M186 330h0M186 347h0M188 253h0M188 336h0M188 343h0M189 258h0M190 246h0M190 345h0M190 349h0M192 358h0M193 352h0M194 236h0M194 241h0M194 366h0M195 232h0M197 228h0M197 229h0M197 371h0M198 369h0M199 230h0M199 374h0M200 376h0M200 379h0M202 374h0M202 375h0M203 225h0M203 378h0M204 216h0M204 218h0M205 214h0M205 385h0M209 384h0M210 208h0M210 387h0M213 205h0M213 394h0M218 399h0M219 203h0M219 401h0M220 402h0M222 403h0M222 405h0M223 408h0M224 192h0M224 196h0M228 409h0M229 412h0M234 183h0M236 417h0M237 181h0M241 178h0M241 180h0M242 179h0M243 423h0M244 180h0M244 423h0M245 178h0M245 424h0M248 429h0M249 170h0M249 176h0M249 425h0M251 172h0M252 173h0M253 429h0M254 167h0M256 432h0M259 164h0M262 164h0M263 164h0M264 435h0M267 440h0M269 159h0M275 440h0M280 155h0M282 156h0M283 443h0M284 153h0M288 450h0M289 446h0M295 449h0M296 149h0M296 152h0M296 449h0M297 147h0M300 147h0M301 452h0M301 454h0M302 450h0M309 451h0M310 144h0M313 144h0M315 146h0M317 146h0M317 457h0M319 145h0M323 142h0M329 458h0M330 454h0M331 456h0M332 143h0M335 455h0M338 460h0M339 143h0M341 140h0M342 144h0M343 144h0M345 459h0M346 455h0M353 140h0M354 143h0M354 455h0M354 457h0M355 458h0M357 456h0M366 459h0M369 454h0M370 458h0M371 457h0M373 146h0M374 457h0M376 144h0M377 146h0M379 143h0M379 453h0M381 453h0M381 455h0M386 143h0M386 454h0M390 149h0M391 453h0M393 451h0M393 453h0M397 149h0M398 147h0M401 449h0M401 452h0M403 449h0M405 451h0M412 151h0M413 155h0M414 444h0M421 441h0M422 158h0M422 440h0M424 442h0M425 438h0M430 160h0M435 437h0M436 163h0M436 165h0M440 432h0M440 435h0M441 165h0M442 167h0M442 170h0M444 429h0M444 432h0M447 430h0M452 423h0M453 174h0M455 177h0M457 180h0M461 182h0M463 417h0M467 187h0M469 410h0M471 406h0M472 190h0M472 405h0M472 408h0M473 195h0M473 406h0M474 408h0M475 402h0M475 407h0M477 401h0M480 198h0M481 397h0M481 399h0M484 395h0M485 208h0M486 203h0M486 204h0M487 207h0M487 391h0M488 208h0M490 388h0M491 212h0M491 218h0M492 382h0M493 379h0M495 376h0M499 372h0M500 226h0M500 375h0M501 229h0M501 371h0M503 366h0M507 353h0M509 350h0M510 248h0M510 249h0M511 253h0M512 263h0M512 264h0M514 260h0M514 267h0M515 263h0M516 319h0M516 333h0M517 271h0M517 294h0M518 279h0M518 297h0M518 303h0M518 304h0M518 314h0M519 294h0M520 299h0" stroke="#214ccc"/>
<path d="M184 290h0M184 302h0M184 309h0M185 292h0M185 293h0M186 286h0M186 300h0M186 309h0M187 308h0M187 318h0M188 276h0M188 279h0M188 299h0M188 309h0M188 312h0M188 313h0M189 278h0M189 339h0M190 258h0M191 331h0M192 336h0M194 248h0M194 250h0M194 341h0M195 344h0M198 244h0M199 357h0M199 364h0M200 365h0M201 235h0M202 236h0M203 231h0M203 232h0M204 231h0M205 230h0M206 377h0M207 379h0M209 224h0M209 378h0M210 381h0M210 382h0M211 219h0M213 382h0M213 386h0M214 215h0M214 386h0M214 388h0M217 390h0M217 394h0M219 392h0M220 204h0M220 210h0M221 393h0M223 399h0M224 396h0M226 199h0M230 407h0M232 196h0M234 189h0M234 193h0M237 189h0M237 413h0M240 184h0M240 416h0M241 182h0M241 184h0M241 188h0M242 181h0M242 415h0M243 415h0M249 419h0M249 421h0M254 176h0M256 171h0M256 423h0M256 424h0M260 172h0M260 173h0M263 429h0M266 429h0M267 434h0M271 168h0M277 165h0M278 162h0M279 438h0M281 440h0M284 438h0M288 156h0M289 444h0M290 159h0M291 157h0M292 159h0M293 156h0M296 155h0M299 156h0M301 446h0M306 150h0M306 448h0M308 152h0M309 446h0M310 151h0M310 153h0M312 149h0M315 149h0M317 452h0M318 451h0M319 448h0M320 451h0M320 452h0M327 451h0M329 449h0M331 449h0M334 150h0M339 450h0M339 452h0M344 144h0M346 148h0M347 145h0M348 454h0M360 451h0M361 148h0M361 450h0M363 450h0M364 451h0M371 148h0M374 148h0M375 147h0M376 451h0M377 147h0M379 151h0M380 152h0M382 452h0M384 451h0M389 152h0M389 447h0M390 151h0M392 447h0M394 151h0M394 447h0M395 447h0M398 444h0M399 152h0M402 443h0M406 158h0M413 157h0M420 436h0M422 435h0M424 164h0M424 434h0M425 163h0M425 438h0M432 432h0M433 165h0M433 430h0M434 167h0M435 428h0M438 169h0M438 171h0M440 425h0M442 175h0M446 422h0M447 423h0M447 425h0M448 178h0M452 182h0M453 419h0M454 184h0M455 418h0M456 181h0M456 185h0M470 404h0M471 402h0M473 200h0M473 398h0M474 201h0M474 402h0M475 201h0M477 203h0M480 393h0M483 211h0M483 213h0M490 222h0M492 375h0M493 376h0M494 375h0M497 229h0M498 236h0M499 232h0M499 364h0M500 234h0M500 235h0M502 244h0M502 355h0M502 357h0M505 249h0M506 247h0M506 252h0M506 342h0M507 338h0M508 263h0M508 268h0M508 335h0M508 339h0M509 263h0M509 271h0M509 334h0M509 337h0M510 263h0M511 333h0M512 311h0M513 275h0M513 293h0M513 294h0M513 306h0M513 324h0M514 301h0M514 310h0M514 317h0M515 293h0" stroke="#1a5ad4"/>
<path d="M189 309h0M190 294h0M190 303h0M190 321h0M191 297h0M191 326h0M192 278h0M192 324h0M193 268h0M194 259h0M194 266h0M194 332h0M194 337h0M194 338h0M195 264h0M197 256h0M197 348h0M198 343h0M199 247h0M199 252h0M202 355h0M203 241h0M203 356h0M203 360h0M204 239h0M205 361h0M208 369h0M210 374h0M211 223h0M212 223h0M213 224h0M217 215h0M221 389h0M224 208h0M226 394h0M228 395h0M230 201h0M232 399h0M233 402h0M237 192h0M238 406h0M240 409h0M245 186h0M248 415h0M250 184h0M254 419h0M262 424h0M263 174h0M264 424h0M266 173h0M274 431h0M281 165h0M282 435h0M283 435h0M283 436h0M285 163h0M287 162h0M289 161h0M292 439h0M294 438h0M299 440h0M306 155h0M306 442h0M309 156h0M312 444h0M319 445h0M320 445h0M324 447h0M325 448h0M328 151h0M328 448h0M331 152h0M334 151h0M335 449h0M337 152h0M346 151h0M352 150h0M355 450h0M356 149h0M357 447h0M361 152h0M367 448h0M367 449h0M369 151h0M369 448h0M370 447h0M371 448h0M378 152h0M384 444h0M385 444h0M396 441h0M399 442h0M401 157h0M413 436h0M416 163h0M424 167h0M427 432h0M430 430h0M440 175h0M441 175h0M441 177h0M442 423h0M448 180h0M448 419h0M458 412h0M468 401h0M473 204h0M478 207h0M478 208h0M480 212h0M482 214h0M483 386h0M484 382h0M488 224h0M496 238h0M497 241h0M500 245h0M500 246h0M500 353h0M501 353h0M502 351h0M503 342h0M503 347h0M505 258h0M506 265h0M507 268h0M508 269h0M509 323h0M509 327h0M510 306h0M511 293h0M511 300h0M511 307h0" stroke="#126add"/>
</g>
<ellipse cx="905.7" cy="735" rx="80.6" ry="74.8" fill="#0f77db"/>
<ellipse cx="906.2" cy="734.7" rx="78" ry="72.8" fill="#1481d5"/>
<ellipse cx="906.6" cy="734.5" rx="75.4" ry="70.8" fill="#1487d3"/>
<ellipse cx="907.1" cy="734.2" rx="72.8" ry="68.9" fill="#118dd2"/>
<ellipse cx="907.5" cy="733.9" rx="70.2" ry="66.9" fill="#0c94d2"/>
<ellipse cx="907.8" cy="733.6" rx="68" ry="65" fill="#089ad0"/>
<ellipse cx="908" cy="733.3" rx="66" ry="63.1" fill="#069fce"/>
<ellipse cx="908.2" cy="733" rx="63.9" ry="61.3" fill="#06a4ca"/>
<ellipse cx="908.3" cy="732.7" rx="61.9" ry="59.4" fill="#06a7c5"/>
<ellipse cx="908.5" cy="732.4" rx="59.8" ry="57.6" fill="#09abbf"/>
<ellipse cx="908.7" cy="732.1" rx="57.8" ry="55.7" fill="#0eaeba"/>
<ellipse cx="908.8" cy="731.8" rx="56" ry="54" fill="#17b1b3"/>
<ellipse cx="908.7" cy="731.7" rx="54.7" ry="52.6" fill="#21b4ac"/>
<ellipse cx="908.6" cy="731.5" rx="53.3" ry="51.2" fill="#2cb7a5"/>
<ellipse cx="908.5" cy="731.4" rx="52" ry="49.8" fill="#39b99d"/>
<ellipse cx="908.4" cy="731.2" rx="50.7" ry="48.4" fill="#46bb95"/>
<ellipse cx="908.3" cy="731.1" rx="49.3" ry="47.1" fill="#55bd8d"/>
<ellipse cx="908.2" cy="730.9" rx="48" ry="45.7" fill="#65be86"/>
<ellipse cx="908.2" cy="730.8" rx="46.7" ry="44.3" fill="#74bf7f"/>
<ellipse cx="908.1" cy="730.6" rx="45.3" ry="42.9" fill="#83bf79"/>
<ellipse cx="908" cy="730.4" rx="44" ry="41.5" fill="#91bf73"/>
<ellipse cx="907.9" cy="730.3" rx="42.7" ry="40.1" fill="#9ebe6e"/>
<ellipse cx="907.8" cy="730.1" rx="41.3" ry="38.7" fill="#aabe69"/>
<ellipse cx="907.7" cy="730" rx="40" ry="37.3" fill="#b6bd64"/>
<ellipse cx="908" cy="729.6" rx="38.1" ry="35.4" fill="#c1bc60"/>
<ellipse cx="908.4" cy="729.1" rx="36" ry="33.4" fill="#ccbb5b"/>
<ellipse cx="908.8" cy="728.7" rx="33.9" ry="31.4" fill="#d7ba57"/>
<ellipse cx="909.2" cy="728.2" rx="31.9" ry="29.4" fill="#e1b952"/>
<ellipse cx="909.6" cy="727.7" rx="29.8" ry="27.4" fill="#ecb94d"/>
<ellipse cx="910" cy="727.3" rx="27.7" ry="25.4" fill="#f6ba46"/>
<ellipse cx="910.4" cy="726.8" rx="25.6" ry="23.3" fill="#fdbe3e"/>
<ellipse cx="910.8" cy="726.3" rx="23.6" ry="21.3" fill="#ffc436"/>
<ellipse cx="911.2" cy="725.9" rx="21.5" ry="19.3" fill="#fdcb30"/>
<ellipse cx="911.6" cy="725.4" rx="19.4" ry="17.3" fill="#fad22a"/>
<ellipse cx="912" cy="724.9" rx="17.3" ry="15.3" fill="#f7d925"/>
<ellipse cx="912.4" cy="724.5" rx="15.3" ry="13.3" fill="#f5e11f"/>
<ellipse cx="912.7" cy="724.1" rx="12.2" ry="10.4" fill="#f5e919"/>
<ellipse cx="912.7" cy="724.1" rx="5.1" ry="4.4" fill="#f6f313"/>
<g transform="translate(730.5 585.3) scale(0.5)" fill="none" stroke="#fff" stroke-linecap="round">
<path d="M196 334h0M211 349h0M236 388h0M292 179h0M297 438h0M304 435h0M317 445h0M336 450h0M342 436h0M361 166h0M404 170h0M404 441h0M427 422h0M429 419h0M491 269h0" stroke-width="3"/>
<path d="M234 393h0M235 218h0M298 161h0" stroke-width="5"/>
<path d="M194 330h0M304 164h0M441 174h0" stroke-width="7"/>
</g>
<path d="M812.4 585.3v11M812.4 910.8v-11M894.4 585.3v11M894.4 910.8v-11M976.3 585.3v11M976.3 910.8v-11M730.5 666.7h11M1058.2 666.7h-11M730.5 748h11M1058.2 748h-11M730.5 829.4h11M1058.2 829.4h-11" stroke="#3c3c3c" stroke-width="1.7" fill="none"/>
<path d="M894.4 585.3V910.8M730.5 748H1058.2" stroke="#2b8cc6" stroke-width="1.1" fill="none"/>
<path d="M894.4 585.3V910.8M730.5 748H1058.2" stroke="#2b8cc6" stroke-width="1.1" fill="none" opacity="0.45" style="mix-blend-mode:multiply"/>
<rect x="730.5" y="585.3" width="327.7" height="325.5" fill="none" stroke="#3c3c3c" stroke-width="1.7"/>
</g>
<g>
<g transform="translate(1073.5 585.3) scale(0.5)" fill="none" stroke-width="9.3" stroke-linecap="round">
<path d="M63 64h0M106 427h0M122 357h0M146 243h0M154 160h0M161 312h0M163 417h0M164 397h0M166 343h0M166 382h0M167 340h0M170 308h0M171 303h0M174 306h0M175 326h0M176 261h0M176 270h0M177 320h0M178 221h0M178 288h0M180 269h0M181 472h0M182 355h0M182 434h0M182 460h0M188 494h0M191 399h0M191 406h0M192 402h0M197 419h0M199 408h0M201 207h0M205 433h0M207 428h0M208 218h0M209 197h0M217 448h0M229 188h0M230 156h0M230 185h0M232 461h0M245 475h0M250 154h0M259 52h0M261 158h0M262 500h0M264 120h0M267 114h0M268 155h0M268 526h0M271 493h0M271 522h0M272 491h0M280 495h0M287 126h0M290 524h0M292 573h0M294 504h0M294 506h0M296 507h0M299 533h0M300 506h0M301 132h0M307 109h0M308 99h0M308 506h0M309 129h0M309 138h0M313 584h0M314 80h0M321 120h0M323 511h0M325 132h0M325 502h0M331 508h0M333 22h0M333 120h0M333 523h0M337 547h0M345 505h0M346 118h0M350 108h0M355 502h0M356 507h0M359 140h0M360 143h0M366 105h0M368 507h0M387 145h0M398 501h0M402 108h0M408 488h0M409 154h0M409 492h0M413 156h0M414 163h0M414 484h0M420 166h0M424 498h0M428 526h0M430 467h0M448 189h0M454 449h0M455 183h0M460 452h0M461 198h0M464 492h0M470 222h0M473 517h0M474 186h0M474 423h0M475 402h0M476 182h0M477 396h0M478 248h0M479 391h0M482 211h0M485 380h0M487 372h0M487 434h0M489 278h0M490 214h0M490 257h0M491 354h0M492 283h0M494 324h0M495 424h0M501 254h0M507 311h0M525 431h0M531 225h0M564 506h0" stroke="#34289c"/>
<path d="M182 328h0M185 341h0M186 331h0M187 288h0M188 359h0M191 274h0M193 254h0M200 399h0M200 405h0M202 245h0M206 229h0M218 211h0M219 208h0M221 204h0M222 206h0M226 197h0M226 443h0M232 193h0M232 449h0M241 460h0M244 177h0M244 179h0M246 176h0M249 178h0M260 476h0M265 164h0M286 491h0M288 153h0M317 144h0M320 145h0M333 500h0M336 146h0M337 501h0M339 141h0M355 146h0M364 149h0M373 146h0M375 493h0M380 492h0M381 494h0M383 491h0M399 161h0M402 159h0M402 483h0M411 170h0M414 475h0M430 180h0M430 463h0M432 459h0M434 459h0M446 443h0M457 427h0M465 413h0M468 409h0M471 245h0M476 387h0M477 260h0M487 331h0M487 350h0" stroke="#33299f"/>
<path d="M187 317h0M190 298h0M197 260h0M197 262h0M205 248h0M205 252h0M208 232h0M208 233h0M208 403h0M209 238h0M210 237h0M212 226h0M212 413h0M213 226h0M213 418h0M214 224h0M218 430h0M224 430h0M228 443h0M233 449h0M234 201h0M237 200h0M240 190h0M240 456h0M242 193h0M253 181h0M256 470h0M269 476h0M272 480h0M276 168h0M293 160h0M311 150h0M318 154h0M326 151h0M328 149h0M328 152h0M342 151h0M345 149h0M349 151h0M354 153h0M362 494h0M373 154h0M373 157h0M374 491h0M375 492h0M376 157h0M387 161h0M391 162h0M391 482h0M392 162h0M393 161h0M394 483h0M408 169h0M408 477h0M420 179h0M420 468h0M421 184h0M426 188h0M438 451h0M440 196h0M440 197h0M442 202h0M444 444h0M445 440h0M451 217h0M452 431h0M455 217h0M456 225h0M460 416h0M461 414h0M462 414h0M467 240h0M469 398h0M472 395h0M474 387h0M475 256h0M479 368h0M480 368h0M482 304h0M483 291h0M483 354h0" stroke="#312ba5"/>
<path d="M196 309h0M197 352h0M199 279h0M202 276h0M203 266h0M204 384h0M204 385h0M206 261h0M207 258h0M208 394h0M208 401h0M211 240h0M211 401h0M211 402h0M212 239h0M216 233h0M218 417h0M227 218h0M227 221h0M229 431h0M233 212h0M238 201h0M238 444h0M244 453h0M245 192h0M245 196h0M247 190h0M249 193h0M251 192h0M252 192h0M253 185h0M255 183h0M262 179h0M264 467h0M265 176h0M267 472h0M271 173h0M272 173h0M277 476h0M284 165h0M285 167h0M289 168h0M291 162h0M293 165h0M294 484h0M303 161h0M304 158h0M311 159h0M314 488h0M314 491h0M322 158h0M323 158h0M324 492h0M330 156h0M331 154h0M332 158h0M333 491h0M352 159h0M354 160h0M376 162h0M381 163h0M383 484h0M383 485h0M385 167h0M385 481h0M389 170h0M391 167h0M397 169h0M405 473h0M407 473h0M408 180h0M409 471h0M410 181h0M412 184h0M412 465h0M416 186h0M418 182h0M419 183h0M421 189h0M423 190h0M427 197h0M430 452h0M432 451h0M433 446h0M434 450h0M437 443h0M443 436h0M444 212h0M448 220h0M449 426h0M451 425h0M461 235h0M462 245h0M465 253h0M466 250h0M466 393h0M467 396h0M468 261h0M468 395h0M470 383h0M471 260h0M472 263h0M472 377h0M472 378h0M476 364h0M477 280h0M477 288h0M477 300h0M477 364h0M478 363h0M479 350h0M480 307h0M480 348h0" stroke="#2e31af"/>
<path d="M198 334h0M199 306h0M199 317h0M199 327h0M200 305h0M200 306h0M200 329h0M200 334h0M200 349h0M201 290h0M201 323h0M201 334h0M201 356h0M202 310h0M202 315h0M202 321h0M202 353h0M203 289h0M204 281h0M204 287h0M204 370h0M205 372h0M206 268h0M206 361h0M206 365h0M206 380h0M207 264h0M207 274h0M207 281h0M208 265h0M208 271h0M209 269h0M210 381h0M210 383h0M210 385h0M213 394h0M214 250h0M216 397h0M216 403h0M218 249h0M219 246h0M221 235h0M221 242h0M221 408h0M222 408h0M224 232h0M225 226h0M228 226h0M228 423h0M230 220h0M230 424h0M234 435h0M235 212h0M236 216h0M237 433h0M237 440h0M240 438h0M244 202h0M244 447h0M248 450h0M248 451h0M254 196h0M256 194h0M256 195h0M256 454h0M256 458h0M257 194h0M257 195h0M258 189h0M259 192h0M260 188h0M262 461h0M263 462h0M265 183h0M267 188h0M268 466h0M269 464h0M269 465h0M272 466h0M272 467h0M274 179h0M275 183h0M278 470h0M281 177h0M282 474h0M283 472h0M284 177h0M284 473h0M285 177h0M290 477h0M292 170h0M297 169h0M297 480h0M306 484h0M308 483h0M317 485h0M317 488h0M318 486h0M323 487h0M330 486h0M332 490h0M334 489h0M349 163h0M352 487h0M354 162h0M355 160h0M359 484h0M360 487h0M363 165h0M365 485h0M367 164h0M371 482h0M377 168h0M377 483h0M383 172h0M388 172h0M390 475h0M396 176h0M403 179h0M408 185h0M408 464h0M409 185h0M410 464h0M413 460h0M414 462h0M416 190h0M424 452h0M425 448h0M426 198h0M428 447h0M435 213h0M436 212h0M447 222h0M451 415h0M453 412h0M456 411h0M457 242h0M458 244h0M458 408h0M463 251h0M464 386h0M465 268h0M466 387h0M468 281h0M470 372h0M470 375h0M473 346h0M474 293h0M474 324h0M475 303h0M475 332h0M475 347h0M477 333h0" stroke="#2c37b9"/>
<path d="M203 319h0M203 339h0M204 325h0M205 298h0M205 328h0M206 294h0M206 332h0M206 344h0M207 346h0M208 284h0M208 344h0M208 368h0M209 349h0M211 272h0M211 275h0M212 274h0M212 278h0M212 280h0M213 265h0M215 383h0M216 270h0M216 386h0M217 395h0M219 253h0M219 256h0M220 258h0M222 399h0M224 403h0M225 245h0M225 405h0M226 241h0M226 414h0M227 410h0M227 411h0M229 417h0M230 418h0M231 416h0M232 417h0M232 418h0M233 423h0M234 423h0M235 423h0M236 426h0M238 224h0M238 426h0M240 220h0M241 435h0M243 437h0M246 216h0M249 440h0M249 446h0M250 442h0M253 203h0M253 449h0M255 448h0M257 197h0M258 451h0M258 452h0M263 197h0M263 198h0M264 191h0M269 460h0M269 463h0M275 185h0M276 183h0M276 186h0M276 189h0M280 182h0M283 184h0M288 470h0M288 471h0M288 473h0M291 177h0M296 477h0M298 172h0M307 170h0M308 479h0M308 480h0M309 169h0M310 170h0M310 172h0M311 170h0M312 481h0M316 172h0M317 171h0M320 481h0M321 169h0M321 482h0M323 170h0M323 483h0M324 171h0M325 170h0M326 484h0M327 482h0M329 167h0M331 167h0M332 485h0M333 167h0M333 483h0M335 165h0M335 170h0M336 485h0M339 482h0M340 484h0M341 165h0M345 171h0M348 170h0M353 166h0M353 168h0M355 482h0M357 168h0M359 172h0M363 167h0M363 479h0M366 169h0M369 173h0M373 174h0M376 173h0M378 176h0M387 471h0M388 180h0M389 178h0M389 182h0M390 183h0M390 473h0M392 184h0M393 471h0M399 186h0M399 187h0M399 465h0M400 187h0M403 189h0M406 188h0M407 188h0M407 189h0M408 188h0M408 193h0M408 458h0M409 195h0M409 458h0M410 460h0M417 196h0M418 452h0M419 449h0M423 450h0M424 204h0M424 205h0M428 206h0M432 216h0M437 431h0M438 220h0M442 428h0M444 422h0M449 240h0M450 236h0M452 248h0M453 409h0M455 247h0M455 248h0M455 250h0M459 262h0M460 384h0M462 265h0M462 274h0M464 371h0M465 269h0M465 375h0M465 376h0M467 290h0M468 285h0M468 292h0M468 346h0M469 294h0M469 301h0M469 309h0M469 352h0M470 300h0M470 341h0M471 297h0M471 300h0M471 314h0M471 329h0M471 335h0M471 347h0M472 310h0M472 338h0" stroke="#2741c2"/>
<path d="M209 321h0M210 305h0M210 316h0M210 329h0M210 336h0M210 352h0M211 297h0M211 302h0M212 298h0M212 343h0M212 352h0M213 309h0M213 347h0M213 358h0M214 294h0M214 365h0M214 369h0M215 372h0M215 374h0M216 286h0M216 365h0M216 375h0M217 275h0M217 369h0M217 371h0M218 272h0M218 373h0M219 268h0M219 379h0M220 261h0M220 378h0M221 387h0M221 390h0M222 395h0M224 251h0M224 389h0M225 400h0M229 401h0M231 406h0M232 245h0M233 416h0M235 238h0M235 240h0M236 420h0M239 225h0M239 424h0M240 227h0M241 426h0M242 223h0M244 221h0M244 426h0M245 223h0M246 224h0M248 214h0M248 221h0M249 212h0M249 216h0M250 220h0M250 436h0M251 213h0M253 214h0M254 209h0M255 212h0M258 208h0M258 446h0M258 448h0M260 202h0M261 208h0M267 202h0M271 193h0M271 199h0M271 458h0M272 193h0M273 195h0M273 196h0M273 458h0M273 460h0M274 193h0M275 459h0M278 459h0M279 189h0M282 191h0M283 187h0M284 190h0M285 187h0M287 467h0M290 471h0M291 185h0M293 472h0M294 180h0M295 180h0M298 181h0M301 180h0M305 177h0M306 179h0M307 179h0M311 175h0M311 180h0M312 475h0M312 477h0M318 178h0M318 477h0M319 178h0M319 479h0M321 173h0M323 480h0M324 174h0M325 178h0M326 172h0M327 173h0M329 176h0M330 172h0M333 175h0M336 175h0M339 478h0M339 479h0M341 174h0M342 175h0M344 481h0M345 174h0M349 479h0M351 477h0M352 176h0M354 177h0M355 175h0M359 477h0M360 478h0M361 476h0M362 477h0M363 476h0M363 477h0M363 478h0M364 177h0M365 175h0M367 175h0M367 477h0M368 179h0M368 477h0M369 178h0M370 179h0M370 477h0M371 476h0M384 184h0M387 185h0M387 187h0M388 188h0M390 187h0M392 190h0M395 462h0M396 191h0M397 189h0M397 464h0M400 190h0M402 195h0M403 458h0M408 453h0M409 196h0M409 198h0M410 201h0M410 454h0M411 197h0M412 204h0M415 201h0M415 202h0M415 207h0M416 205h0M422 442h0M423 211h0M423 215h0M426 218h0M428 213h0M428 217h0M428 219h0M430 220h0M438 228h0M438 229h0M438 422h0M439 228h0M440 231h0M442 238h0M443 237h0M443 240h0M444 242h0M446 238h0M446 247h0M447 408h0M449 250h0M450 246h0M451 396h0M452 394h0M452 397h0M457 266h0M457 269h0M457 271h0M457 390h0M458 269h0M458 273h0M458 379h0M458 384h0M459 270h0M459 275h0M459 376h0M460 372h0M460 382h0M461 282h0M462 276h0M462 282h0M462 364h0M464 285h0M464 310h0M464 358h0M465 293h0M465 295h0M465 323h0M465 341h0M466 332h0M466 342h0M466 349h0M466 355h0M467 341h0M468 307h0M468 316h0M469 334h0" stroke="#214ccc"/>
<path d="M213 337h0M214 330h0M214 338h0M214 344h0M215 331h0M215 350h0M215 356h0M216 304h0M216 359h0M217 292h0M217 314h0M218 294h0M220 366h0M221 284h0M221 286h0M221 288h0M222 368h0M222 384h0M223 269h0M223 278h0M223 280h0M223 372h0M224 269h0M224 389h0M225 380h0M226 275h0M226 390h0M226 393h0M227 384h0M227 387h0M228 395h0M230 261h0M231 395h0M231 401h0M232 253h0M233 254h0M233 255h0M233 402h0M234 401h0M236 247h0M238 410h0M240 240h0M240 419h0M241 237h0M241 419h0M242 237h0M243 231h0M243 417h0M243 422h0M247 422h0M247 424h0M248 226h0M249 429h0M253 218h0M254 217h0M255 218h0M255 222h0M261 440h0M262 211h0M264 206h0M264 443h0M269 203h0M271 452h0M274 200h0M275 453h0M279 459h0M283 193h0M287 460h0M291 192h0M291 465h0M293 192h0M294 191h0M295 188h0M299 186h0M299 467h0M303 186h0M304 185h0M306 469h0M307 184h0M310 181h0M313 181h0M316 474h0M317 181h0M318 180h0M318 184h0M320 475h0M329 183h0M334 475h0M335 179h0M338 179h0M341 475h0M342 475h0M342 477h0M345 182h0M346 183h0M353 182h0M357 181h0M358 181h0M362 183h0M365 472h0M366 470h0M367 185h0M368 183h0M370 183h0M370 472h0M372 468h0M378 190h0M380 466h0M382 186h0M387 466h0M389 192h0M390 190h0M390 196h0M390 464h0M393 192h0M400 196h0M401 199h0M403 454h0M404 452h0M407 203h0M407 451h0M408 450h0M410 449h0M414 444h0M414 447h0M418 215h0M419 438h0M421 440h0M422 216h0M423 438h0M424 219h0M424 224h0M427 431h0M428 429h0M429 428h0M432 231h0M434 232h0M438 237h0M438 419h0M440 411h0M444 402h0M447 255h0M449 397h0M449 399h0M450 256h0M450 391h0M453 270h0M454 388h0M455 376h0M456 272h0M456 276h0M456 277h0M456 383h0M457 370h0M457 375h0M458 292h0M458 293h0M459 357h0M459 362h0M460 296h0M460 307h0M460 344h0M460 349h0M460 370h0M461 299h0M461 303h0M461 352h0M461 354h0M461 362h0M462 295h0M462 329h0M462 336h0M463 314h0M463 318h0M463 332h0M463 338h0M463 352h0M463 353h0" stroke="#1a5ad4"/>
<path d="M220 300h0M220 310h0M220 349h0M220 352h0M221 295h0M221 307h0M221 348h0M223 292h0M223 297h0M224 287h0M224 288h0M225 372h0M227 275h0M227 377h0M228 380h0M230 265h0M231 269h0M232 392h0M234 259h0M240 248h0M240 249h0M242 244h0M245 237h0M246 235h0M261 221h0M262 218h0M272 210h0M282 455h0M286 457h0M288 198h0M290 198h0M293 460h0M295 461h0M298 194h0M298 462h0M299 463h0M305 191h0M308 190h0M309 188h0M311 188h0M311 467h0M312 468h0M313 188h0M316 187h0M316 470h0M317 469h0M319 187h0M321 187h0M323 186h0M328 185h0M331 186h0M332 471h0M335 183h0M340 186h0M350 186h0M351 186h0M352 184h0M353 184h0M358 469h0M363 470h0M369 188h0M369 189h0M375 465h0M376 464h0M385 195h0M391 459h0M395 456h0M396 455h0M397 203h0M399 205h0M401 452h0M405 450h0M408 446h0M416 216h0M418 436h0M418 437h0M418 438h0M422 222h0M428 231h0M430 234h0M434 238h0M438 409h0M439 249h0M441 406h0M447 395h0M448 387h0M449 385h0M449 389h0M453 377h0M453 378h0M454 287h0M455 368h0M456 358h0M457 357h0M458 305h0M458 311h0M459 315h0M459 317h0M459 328h0M459 343h0M459 348h0M460 323h0M460 331h0" stroke="#126add"/>
</g>
<ellipse cx="1243.2" cy="749.4" rx="60.4" ry="72.1" fill="#0f77db"/>
<ellipse cx="1243.5" cy="749.4" rx="58.3" ry="69.8" fill="#1481d5"/>
<ellipse cx="1243.7" cy="749.4" rx="56.3" ry="67.6" fill="#1487d3"/>
<ellipse cx="1244" cy="749.4" rx="54.2" ry="65.3" fill="#118dd2"/>
<ellipse cx="1244.3" cy="749.4" rx="52.1" ry="63.1" fill="#0c94d2"/>
<ellipse cx="1244.5" cy="749.4" rx="50.2" ry="60.9" fill="#089ad0"/>
<ellipse cx="1244.8" cy="749.4" rx="48.3" ry="58.7" fill="#069fce"/>
<ellipse cx="1245" cy="749.4" rx="46.5" ry="56.6" fill="#06a4ca"/>
<ellipse cx="1245.3" cy="749.4" rx="44.6" ry="54.4" fill="#06a7c5"/>
<ellipse cx="1245.5" cy="749.4" rx="42.8" ry="52.2" fill="#09abbf"/>
<ellipse cx="1245.8" cy="749.4" rx="40.9" ry="50.1" fill="#0eaeba"/>
<ellipse cx="1246" cy="749.4" rx="39.3" ry="48.1" fill="#17b1b3"/>
<ellipse cx="1246.3" cy="749.4" rx="38.2" ry="46.6" fill="#21b4ac"/>
<ellipse cx="1246.5" cy="749.4" rx="37" ry="45" fill="#2cb7a5"/>
<ellipse cx="1246.8" cy="749.4" rx="35.9" ry="43.5" fill="#39b99d"/>
<ellipse cx="1247" cy="749.4" rx="34.7" ry="41.9" fill="#46bb95"/>
<ellipse cx="1247.3" cy="749.4" rx="33.6" ry="40.4" fill="#55bd8d"/>
<ellipse cx="1247.5" cy="749.4" rx="32.4" ry="38.8" fill="#65be86"/>
<ellipse cx="1247.8" cy="749.4" rx="31.3" ry="37.3" fill="#74bf7f"/>
<ellipse cx="1248" cy="749.4" rx="30.1" ry="35.7" fill="#83bf79"/>
<ellipse cx="1248.3" cy="749.4" rx="29" ry="34.2" fill="#91bf73"/>
<ellipse cx="1248.5" cy="749.4" rx="27.9" ry="32.6" fill="#9ebe6e"/>
<ellipse cx="1248.7" cy="749.4" rx="26.7" ry="31.1" fill="#aabe69"/>
<ellipse cx="1249" cy="749.4" rx="25.6" ry="29.5" fill="#b6bd64"/>
<ellipse cx="1249.1" cy="749.2" rx="24.4" ry="28.2" fill="#c1bc60"/>
<ellipse cx="1249.2" cy="748.9" rx="23.3" ry="27" fill="#ccbb5b"/>
<ellipse cx="1249.2" cy="748.6" rx="22.1" ry="25.8" fill="#d7ba57"/>
<ellipse cx="1249.3" cy="748.2" rx="21" ry="24.5" fill="#e1b952"/>
<ellipse cx="1249.3" cy="747.9" rx="19.8" ry="23.3" fill="#ecb94d"/>
<ellipse cx="1249.4" cy="747.6" rx="18.7" ry="22" fill="#f6ba46"/>
<ellipse cx="1249.5" cy="747.3" rx="17.5" ry="20.8" fill="#fdbe3e"/>
<ellipse cx="1249.5" cy="747" rx="16.4" ry="19.6" fill="#ffc436"/>
<ellipse cx="1249.6" cy="746.7" rx="15.2" ry="18.3" fill="#fdcb30"/>
<ellipse cx="1249.7" cy="746.4" rx="14.1" ry="17.1" fill="#fad22a"/>
<ellipse cx="1249.7" cy="746.1" rx="13" ry="15.9" fill="#f7d925"/>
<ellipse cx="1249.8" cy="745.8" rx="11.8" ry="14.6" fill="#f5e11f"/>
<ellipse cx="1249.8" cy="745.5" rx="9.7" ry="12.2" fill="#f5e919"/>
<ellipse cx="1249.8" cy="745.5" rx="4.1" ry="5.1" fill="#f6f313"/>
<g transform="translate(1073.5 585.3) scale(0.5)" fill="none" stroke="#fff" stroke-linecap="round">
<path d="M218 305h0M219 328h0M240 282h0M259 438h0M348 465h0M365 467h0M380 462h0M406 213h0M421 222h0M432 263h0M453 337h0M461 331h0" stroke-width="3"/>
<path d="M234 389h0M287 451h0M354 194h0M405 235h0M421 431h0M452 281h0" stroke-width="5"/>
</g>
<path d="M1155.3 585.3v11M1155.3 910.8v-11M1237.2 585.3v11M1237.2 910.8v-11M1319 585.3v11M1319 910.8v-11M1073.5 666.7h11M1400.8 666.7h-11M1073.5 748h11M1400.8 748h-11M1073.5 829.4h11M1400.8 829.4h-11" stroke="#3c3c3c" stroke-width="1.7" fill="none"/>
<path d="M1237.2 585.3V910.8M1073.5 748H1400.8" stroke="#2b8cc6" stroke-width="1.1" fill="none"/>
<path d="M1237.2 585.3V910.8M1073.5 748H1400.8" stroke="#2b8cc6" stroke-width="1.1" fill="none" opacity="0.45" style="mix-blend-mode:multiply"/>
<rect x="1073.5" y="585.3" width="327.3" height="325.5" fill="none" stroke="#3c3c3c" stroke-width="1.7"/>
</g>
<g>
<g transform="translate(1413.6 585.3) scale(0.5)" fill="none" stroke-width="9.3" stroke-linecap="round">
<path d="M19 102h0M31 404h0M34 363h0M36 326h0M36 414h0M38 297h0M40 250h0M40 376h0M43 302h0M45 216h0M60 271h0M62 428h0M64 345h0M70 574h0M71 141h0M75 342h0M83 304h0M89 382h0M90 274h0M93 461h0M95 333h0M96 343h0M96 421h0M102 297h0M104 301h0M104 322h0M107 246h0M110 276h0M112 445h0M113 68h0M115 387h0M118 276h0M120 176h0M120 341h0M121 260h0M122 380h0M123 216h0M123 341h0M124 279h0M125 352h0M125 363h0M126 259h0M127 283h0M127 430h0M128 380h0M129 193h0M129 295h0M130 395h0M132 223h0M132 476h0M133 401h0M135 403h0M136 412h0M138 439h0M140 400h0M141 219h0M141 429h0M141 437h0M142 412h0M145 424h0M146 419h0M147 230h0M147 417h0M147 465h0M147 560h0M148 471h0M148 561h0M153 219h0M153 223h0M154 178h0M154 210h0M155 214h0M157 211h0M159 487h0M162 202h0M162 482h0M164 130h0M164 467h0M167 207h0M167 478h0M170 191h0M170 471h0M171 130h0M171 455h0M174 142h0M174 198h0M178 473h0M180 510h0M183 494h0M184 110h0M184 500h0M189 126h0M190 154h0M193 135h0M194 174h0M196 83h0M196 148h0M207 499h0M211 152h0M211 493h0M212 114h0M213 517h0M215 163h0M218 152h0M218 513h0M219 148h0M220 511h0M223 148h0M223 506h0M227 47h0M228 119h0M229 108h0M230 150h0M230 577h0M233 93h0M234 49h0M235 104h0M235 149h0M237 537h0M238 546h0M243 145h0M245 549h0M247 104h0M250 117h0M251 584h0M252 83h0M252 633h0M253 102h0M255 121h0M256 522h0M256 526h0M259 618h0M267 549h0M268 115h0M273 127h0M274 551h0M275 527h0M275 541h0M278 534h0M278 577h0M279 125h0M281 106h0M281 536h0M282 525h0M283 97h0M284 601h0M286 526h0M287 107h0M287 529h0M288 547h0M288 548h0M296 605h0M297 550h0M298 130h0M298 539h0M298 619h0M299 124h0M300 91h0M300 111h0M300 121h0M300 538h0M306 541h0M309 61h0M315 123h0M318 544h0M323 117h0M327 534h0M328 537h0M332 53h0M336 549h0M344 127h0M345 537h0M351 77h0M351 116h0M352 113h0M358 552h0M358 578h0M361 100h0M368 131h0M369 537h0M373 94h0M373 586h0M375 546h0M377 541h0M378 108h0M379 81h0M379 108h0M379 126h0M379 129h0M381 530h0M383 563h0M386 111h0M387 126h0M390 129h0M391 134h0M394 564h0M395 132h0M396 561h0M401 72h0M401 521h0M402 110h0M406 525h0M408 518h0M410 565h0M411 527h0M411 530h0M414 142h0M416 568h0M419 521h0M421 101h0M421 556h0M423 118h0M423 527h0M425 116h0M426 93h0M426 514h0M426 530h0M429 139h0M429 514h0M434 153h0M435 563h0M438 501h0M439 521h0M440 136h0M441 153h0M442 542h0M444 141h0M446 139h0M447 163h0M449 497h0M453 493h0M456 493h0M457 68h0M457 511h0M458 127h0M459 485h0M462 480h0M466 88h0M468 157h0M472 63h0M472 475h0M476 191h0M477 491h0M479 464h0M483 480h0M483 548h0M484 193h0M485 476h0M488 161h0M492 190h0M495 74h0M495 469h0M497 168h0M497 440h0M497 445h0M498 466h0M502 442h0M503 214h0M509 425h0M509 457h0M510 199h0M510 536h0M512 229h0M512 233h0M517 231h0M517 415h0M519 144h0M519 243h0M522 265h0M522 470h0M523 225h0M523 399h0M524 391h0M525 271h0M526 268h0M526 378h0M527 377h0M527 389h0M529 504h0M530 289h0M531 270h0M531 305h0M531 353h0M532 115h0M532 315h0M532 394h0M533 278h0M534 314h0M535 220h0M535 323h0M535 337h0M535 539h0M536 434h0M537 432h0M539 222h0M539 277h0M541 262h0M541 281h0M542 224h0M542 345h0M542 362h0M542 402h0M543 157h0M545 313h0M546 489h0M547 210h0M547 296h0M547 332h0M547 449h0M548 342h0M549 320h0M550 392h0M551 240h0M551 408h0M554 325h0M556 381h0M557 305h0M565 203h0M567 326h0M567 374h0M570 442h0M571 187h0M574 374h0M576 163h0M579 372h0M579 374h0M581 250h0M582 429h0M583 384h0M585 296h0M586 420h0M588 347h0M589 449h0M593 179h0M594 452h0M600 508h0M613 304h0M615 319h0M622 253h0M644 504h0M646 292h0M648 410h0" stroke="#34289c"/>
<path d="M130 325h0M131 299h0M132 343h0M134 290h0M134 327h0M137 282h0M143 384h0M146 250h0M149 241h0M150 406h0M153 240h0M155 236h0M158 234h0M160 231h0M161 439h0M162 427h0M169 442h0M171 213h0M175 450h0M177 206h0M189 468h0M194 471h0M207 478h0M209 488h0M212 484h0M223 499h0M234 157h0M238 508h0M242 506h0M245 146h0M246 147h0M254 149h0M260 145h0M262 517h0M272 138h0M272 521h0M285 522h0M290 523h0M294 519h0M298 521h0M305 132h0M309 132h0M314 528h0M319 525h0M328 523h0M331 130h0M331 525h0M336 128h0M339 133h0M345 528h0M356 135h0M356 136h0M363 526h0M364 134h0M364 136h0M370 519h0M378 136h0M379 140h0M383 515h0M384 518h0M385 517h0M391 141h0M392 517h0M401 148h0M407 508h0M407 513h0M408 508h0M424 153h0M425 157h0M442 486h0M451 481h0M462 183h0M478 456h0M478 459h0M480 201h0M493 437h0M494 440h0M495 437h0M499 233h0M500 227h0M501 417h0M507 236h0M508 246h0M511 257h0M511 410h0M512 403h0M516 388h0M518 377h0M520 270h0M520 376h0M521 374h0M522 364h0M523 372h0M524 321h0M526 300h0" stroke="#33299f"/>
<path d="M137 315h0M138 345h0M139 360h0M140 307h0M140 336h0M141 297h0M141 314h0M141 321h0M141 360h0M142 286h0M144 292h0M147 272h0M147 273h0M147 371h0M147 381h0M148 396h0M149 281h0M149 394h0M152 251h0M156 247h0M158 248h0M161 232h0M164 416h0M170 219h0M171 428h0M173 214h0M174 220h0M176 434h0M177 443h0M178 217h0M178 441h0M179 442h0M179 449h0M180 209h0M181 211h0M182 444h0M182 454h0M183 446h0M183 447h0M184 202h0M186 202h0M187 451h0M187 454h0M194 464h0M207 180h0M216 484h0M219 173h0M221 169h0M222 482h0M222 484h0M225 491h0M226 169h0M229 163h0M231 495h0M232 493h0M234 160h0M236 166h0M238 494h0M240 494h0M244 496h0M245 496h0M248 153h0M248 503h0M250 501h0M255 505h0M259 508h0M260 150h0M262 505h0M264 149h0M267 510h0M268 505h0M270 510h0M272 149h0M273 512h0M279 148h0M282 511h0M287 516h0M293 515h0M296 517h0M301 515h0M304 518h0M305 141h0M314 137h0M327 139h0M344 137h0M351 515h0M351 520h0M356 520h0M358 139h0M360 516h0M371 145h0M375 515h0M379 148h0M382 143h0M383 145h0M384 147h0M387 148h0M392 150h0M397 509h0M399 507h0M402 508h0M405 502h0M407 498h0M413 503h0M420 165h0M420 496h0M423 163h0M423 495h0M424 490h0M429 163h0M430 167h0M436 485h0M438 488h0M449 477h0M450 183h0M452 469h0M454 471h0M456 191h0M456 474h0M461 462h0M466 459h0M471 453h0M472 202h0M474 446h0M482 440h0M488 431h0M489 230h0M490 430h0M493 234h0M493 419h0M495 420h0M497 244h0M499 245h0M500 241h0M501 254h0M502 407h0M502 409h0M503 253h0M504 245h0M507 254h0M507 255h0M508 263h0M509 266h0M510 266h0M510 279h0M514 368h0M515 303h0M515 311h0M516 296h0M516 349h0M518 286h0M519 300h0M519 337h0M519 348h0M519 358h0M520 350h0M521 328h0" stroke="#312ba5"/>
<path d="M148 295h0M148 296h0M149 292h0M149 328h0M149 354h0M150 285h0M150 354h0M150 356h0M150 376h0M151 290h0M151 350h0M152 356h0M153 289h0M155 272h0M155 391h0M157 390h0M159 255h0M160 389h0M162 248h0M162 399h0M164 244h0M165 254h0M167 243h0M172 227h0M172 236h0M172 241h0M174 235h0M174 431h0M175 429h0M176 428h0M177 230h0M179 226h0M180 216h0M181 224h0M181 438h0M182 224h0M187 213h0M188 214h0M188 442h0M192 208h0M192 447h0M194 202h0M195 208h0M196 459h0M199 453h0M202 198h0M207 190h0M208 194h0M209 192h0M209 194h0M210 466h0M211 468h0M218 477h0M221 182h0M222 183h0M222 475h0M226 173h0M226 479h0M228 175h0M228 481h0M236 172h0M239 484h0M242 490h0M249 497h0M251 162h0M255 496h0M256 164h0M256 495h0M257 494h0M257 499h0M259 158h0M260 494h0M261 160h0M261 501h0M264 496h0M268 499h0M269 504h0M272 154h0M273 156h0M277 151h0M281 504h0M282 504h0M284 508h0M285 152h0M287 151h0M288 149h0M288 153h0M294 151h0M295 152h0M298 147h0M302 149h0M303 510h0M303 512h0M304 144h0M304 507h0M311 143h0M312 149h0M319 507h0M321 146h0M321 508h0M324 144h0M324 146h0M327 146h0M328 148h0M328 508h0M329 512h0M330 147h0M332 148h0M333 144h0M333 513h0M335 508h0M339 509h0M339 513h0M345 509h0M352 510h0M356 147h0M356 151h0M360 151h0M363 147h0M364 508h0M368 151h0M368 504h0M372 504h0M373 503h0M377 503h0M377 504h0M379 156h0M380 503h0M385 502h0M388 156h0M391 499h0M394 496h0M394 497h0M400 163h0M403 492h0M405 162h0M408 494h0M411 491h0M415 166h0M415 487h0M417 485h0M419 489h0M422 486h0M423 488h0M423 489h0M432 477h0M433 481h0M436 183h0M437 179h0M440 475h0M440 476h0M441 182h0M443 190h0M444 186h0M449 469h0M451 469h0M457 463h0M461 454h0M461 458h0M462 450h0M464 201h0M467 204h0M467 445h0M468 449h0M469 446h0M473 210h0M475 220h0M478 433h0M479 439h0M480 426h0M480 430h0M483 229h0M484 233h0M486 242h0M488 413h0M492 242h0M492 406h0M493 253h0M496 263h0M498 403h0M502 396h0M504 281h0M506 363h0M506 368h0M507 292h0M507 306h0M507 361h0M507 363h0M509 286h0M509 294h0M510 307h0M510 348h0M511 287h0M511 311h0M511 321h0M511 350h0M512 340h0M513 335h0M515 327h0" stroke="#2e31af"/>
<path d="M151 322h0M152 333h0M152 335h0M153 314h0M153 317h0M153 332h0M153 351h0M154 301h0M154 310h0M154 328h0M154 331h0M155 336h0M155 343h0M155 352h0M155 371h0M156 281h0M156 286h0M156 314h0M156 325h0M157 350h0M158 276h0M158 285h0M158 291h0M158 296h0M158 374h0M159 286h0M159 294h0M159 355h0M159 363h0M159 369h0M159 378h0M161 272h0M161 389h0M163 264h0M164 273h0M164 396h0M165 393h0M166 257h0M166 383h0M166 385h0M166 393h0M166 397h0M167 267h0M168 258h0M168 259h0M168 264h0M169 405h0M170 255h0M171 254h0M173 252h0M173 254h0M174 407h0M174 409h0M177 415h0M178 232h0M178 235h0M178 417h0M179 237h0M179 415h0M180 243h0M181 235h0M182 418h0M187 228h0M189 436h0M191 214h0M192 443h0M193 216h0M193 439h0M194 442h0M195 219h0M197 442h0M198 211h0M198 214h0M198 443h0M199 448h0M200 445h0M202 212h0M207 450h0M213 460h0M217 466h0M224 468h0M227 183h0M227 471h0M227 472h0M228 182h0M232 478h0M233 478h0M234 178h0M235 178h0M236 177h0M238 478h0M240 176h0M240 179h0M241 173h0M241 479h0M242 173h0M243 479h0M244 176h0M244 177h0M250 171h0M253 488h0M255 173h0M256 167h0M256 173h0M256 486h0M256 490h0M258 168h0M262 168h0M264 169h0M265 168h0M266 494h0M267 165h0M269 495h0M271 491h0M271 497h0M275 158h0M275 496h0M276 493h0M279 495h0M280 494h0M281 500h0M289 497h0M290 502h0M292 501h0M293 153h0M293 497h0M294 153h0M295 159h0M296 504h0M300 504h0M301 154h0M301 502h0M304 503h0M308 503h0M309 153h0M309 157h0M312 505h0M316 154h0M316 504h0M318 156h0M319 506h0M321 153h0M322 154h0M324 153h0M324 500h0M325 152h0M328 155h0M328 505h0M329 153h0M329 154h0M329 156h0M329 506h0M334 152h0M335 149h0M338 502h0M339 500h0M340 506h0M341 500h0M342 501h0M343 501h0M346 504h0M357 155h0M357 501h0M362 156h0M362 504h0M365 503h0M366 497h0M371 157h0M377 159h0M380 158h0M380 493h0M384 160h0M384 162h0M385 492h0M387 165h0M388 491h0M392 490h0M394 490h0M396 491h0M400 485h0M405 169h0M405 484h0M407 170h0M407 484h0M409 488h0M412 171h0M413 483h0M414 483h0M415 484h0M415 485h0M418 180h0M421 477h0M424 183h0M424 480h0M425 478h0M426 182h0M429 183h0M429 187h0M439 192h0M439 193h0M440 191h0M440 462h0M448 196h0M448 198h0M448 454h0M452 202h0M452 207h0M454 456h0M455 210h0M455 448h0M456 449h0M456 453h0M458 449h0M461 447h0M462 440h0M463 220h0M464 437h0M466 223h0M467 434h0M468 221h0M468 226h0M469 433h0M471 432h0M473 221h0M473 222h0M474 229h0M475 230h0M476 227h0M476 234h0M476 237h0M480 234h0M480 240h0M480 411h0M480 425h0M481 412h0M483 419h0M484 240h0M484 406h0M485 246h0M486 244h0M487 399h0M488 255h0M490 402h0M491 396h0M492 268h0M492 402h0M493 268h0M493 386h0M494 385h0M495 266h0M495 270h0M496 265h0M496 281h0M497 278h0M498 385h0M499 293h0M499 376h0M500 293h0M500 348h0M501 285h0M501 315h0M501 346h0M501 360h0M501 369h0M502 323h0M503 349h0M504 288h0M505 305h0M505 307h0M505 353h0M506 303h0M508 321h0" stroke="#2c37b9"/>
<path d="M159 302h0M159 340h0M160 325h0M160 331h0M160 350h0M161 331h0M161 361h0M162 289h0M162 337h0M162 369h0M163 318h0M163 343h0M163 346h0M163 348h0M164 308h0M164 309h0M164 331h0M164 360h0M164 362h0M164 365h0M165 293h0M165 315h0M165 356h0M168 377h0M169 281h0M169 373h0M170 264h0M170 280h0M170 285h0M171 265h0M171 384h0M171 393h0M172 269h0M172 274h0M172 396h0M174 270h0M174 398h0M174 402h0M175 261h0M177 255h0M177 400h0M178 251h0M178 407h0M180 249h0M180 254h0M180 258h0M180 400h0M180 402h0M180 412h0M181 249h0M183 405h0M185 246h0M185 419h0M186 418h0M187 244h0M190 420h0M191 419h0M191 421h0M193 427h0M195 233h0M195 426h0M196 228h0M196 426h0M197 229h0M198 221h0M198 222h0M198 224h0M199 434h0M200 216h0M200 224h0M200 434h0M202 220h0M202 443h0M203 217h0M204 437h0M204 440h0M205 216h0M206 211h0M207 217h0M210 215h0M210 443h0M212 444h0M214 450h0M215 447h0M219 452h0M221 200h0M221 453h0M221 454h0M222 454h0M225 193h0M226 197h0M227 192h0M229 189h0M235 467h0M237 186h0M237 466h0M237 468h0M239 467h0M240 472h0M247 472h0M248 180h0M248 183h0M250 182h0M254 174h0M254 177h0M255 481h0M257 179h0M257 480h0M260 179h0M262 482h0M263 176h0M265 176h0M267 482h0M268 174h0M272 169h0M272 171h0M272 483h0M273 484h0M274 170h0M275 484h0M278 491h0M281 167h0M281 492h0M286 166h0M287 494h0M288 491h0M288 495h0M294 167h0M297 160h0M298 495h0M301 165h0M303 497h0M304 164h0M307 161h0M309 158h0M309 161h0M310 158h0M312 161h0M315 493h0M317 492h0M318 161h0M319 496h0M326 500h0M330 500h0M332 498h0M335 158h0M336 157h0M336 493h0M337 161h0M341 157h0M342 495h0M342 499h0M343 162h0M346 158h0M349 161h0M350 161h0M351 160h0M354 163h0M355 161h0M355 497h0M357 494h0M361 163h0M362 495h0M366 494h0M367 163h0M368 164h0M368 490h0M370 163h0M371 166h0M373 169h0M376 486h0M377 170h0M377 489h0M378 167h0M378 492h0M382 172h0M383 491h0M385 166h0M387 484h0M390 172h0M391 482h0M393 170h0M398 175h0M399 481h0M400 179h0M405 180h0M408 176h0M408 477h0M410 181h0M412 179h0M412 184h0M412 478h0M415 183h0M417 185h0M417 469h0M417 472h0M421 188h0M421 469h0M422 466h0M424 191h0M425 189h0M425 464h0M427 194h0M431 193h0M432 463h0M438 205h0M439 198h0M441 199h0M441 451h0M441 456h0M443 207h0M443 450h0M446 448h0M452 209h0M452 211h0M452 216h0M454 440h0M456 219h0M456 439h0M456 442h0M457 438h0M458 220h0M458 224h0M459 216h0M460 219h0M460 223h0M461 435h0M462 225h0M463 430h0M464 231h0M464 431h0M465 230h0M466 422h0M468 230h0M468 233h0M469 232h0M471 243h0M471 416h0M472 235h0M473 240h0M474 240h0M475 243h0M476 240h0M476 250h0M476 408h0M477 253h0M477 415h0M478 405h0M480 407h0M482 257h0M482 262h0M482 394h0M483 396h0M484 258h0M484 259h0M484 401h0M485 262h0M486 394h0M487 381h0M487 390h0M488 278h0M490 386h0M491 280h0M491 360h0M492 381h0M492 384h0M493 281h0M493 292h0M493 300h0M493 364h0M494 286h0M494 362h0M494 374h0M495 308h0M495 323h0M495 331h0M495 365h0M497 308h0M498 300h0M498 319h0M498 324h0M499 318h0M500 328h0" stroke="#2741c2"/>
<path d="M165 342h0M167 306h0M167 334h0M167 353h0M167 355h0M168 324h0M168 342h0M168 346h0M168 359h0M169 299h0M169 323h0M169 326h0M169 344h0M169 366h0M170 296h0M170 318h0M170 325h0M170 327h0M170 335h0M170 350h0M171 292h0M171 319h0M171 332h0M171 348h0M171 349h0M171 355h0M171 361h0M172 372h0M173 287h0M173 295h0M173 350h0M173 361h0M173 366h0M173 370h0M173 378h0M174 277h0M174 367h0M174 380h0M176 269h0M176 278h0M176 372h0M177 382h0M178 378h0M178 379h0M179 269h0M179 277h0M179 395h0M181 260h0M181 395h0M182 262h0M182 385h0M182 394h0M183 390h0M183 394h0M183 396h0M183 399h0M184 253h0M184 404h0M185 254h0M185 261h0M185 408h0M186 258h0M186 259h0M187 259h0M190 246h0M193 408h0M194 236h0M195 417h0M197 424h0M199 230h0M199 231h0M199 236h0M199 419h0M200 233h0M200 422h0M201 233h0M201 420h0M201 426h0M202 230h0M205 427h0M207 430h0M208 226h0M209 440h0M213 213h0M216 210h0M216 218h0M217 217h0M217 444h0M218 446h0M219 208h0M220 213h0M223 206h0M223 208h0M223 451h0M225 207h0M226 449h0M227 453h0M231 457h0M233 203h0M233 458h0M234 456h0M235 458h0M236 197h0M238 195h0M238 458h0M238 463h0M238 464h0M239 459h0M239 461h0M242 460h0M242 464h0M244 463h0M244 467h0M244 469h0M245 194h0M247 188h0M247 192h0M248 464h0M248 469h0M250 468h0M251 188h0M254 187h0M254 189h0M256 473h0M257 471h0M258 182h0M258 186h0M259 182h0M260 180h0M260 473h0M262 182h0M263 184h0M264 474h0M265 183h0M266 177h0M267 177h0M267 180h0M269 475h0M272 174h0M272 478h0M273 477h0M274 180h0M276 174h0M277 176h0M277 177h0M278 180h0M280 176h0M280 480h0M281 479h0M282 480h0M285 172h0M285 173h0M285 481h0M285 485h0M287 174h0M288 482h0M288 483h0M290 169h0M292 482h0M295 172h0M295 173h0M296 167h0M297 168h0M299 172h0M300 486h0M300 489h0M301 169h0M301 172h0M301 487h0M304 167h0M306 171h0M306 491h0M307 490h0M308 166h0M308 170h0M308 484h0M309 485h0M309 486h0M309 491h0M312 491h0M316 170h0M321 164h0M321 167h0M322 170h0M322 488h0M323 166h0M323 167h0M323 170h0M324 169h0M325 170h0M326 165h0M327 489h0M328 169h0M329 168h0M330 166h0M330 170h0M330 490h0M332 165h0M332 486h0M332 491h0M333 490h0M334 166h0M334 170h0M334 487h0M335 167h0M336 487h0M338 164h0M339 485h0M340 488h0M340 489h0M341 167h0M341 169h0M341 490h0M342 488h0M347 487h0M349 171h0M350 170h0M351 166h0M352 171h0M352 486h0M354 169h0M355 167h0M355 488h0M358 488h0M359 171h0M360 487h0M363 483h0M363 487h0M365 485h0M366 486h0M368 172h0M368 173h0M370 483h0M371 480h0M374 170h0M375 174h0M375 485h0M375 486h0M376 484h0M378 481h0M381 175h0M381 481h0M382 174h0M383 482h0M388 182h0M389 180h0M390 480h0M400 183h0M400 470h0M401 184h0M401 187h0M402 474h0M403 186h0M404 475h0M405 467h0M408 185h0M408 471h0M409 186h0M409 187h0M409 188h0M409 465h0M410 469h0M411 188h0M412 188h0M413 462h0M414 467h0M415 194h0M415 466h0M417 191h0M417 461h0M418 191h0M418 458h0M420 199h0M421 198h0M421 457h0M422 196h0M423 198h0M423 201h0M424 455h0M424 456h0M425 200h0M425 459h0M426 201h0M432 209h0M434 208h0M435 203h0M435 447h0M436 212h0M437 209h0M439 209h0M439 441h0M441 446h0M442 211h0M442 214h0M445 437h0M445 441h0M447 437h0M448 218h0M448 219h0M448 222h0M451 223h0M451 228h0M453 426h0M455 231h0M456 232h0M457 226h0M457 420h0M457 424h0M459 233h0M459 238h0M460 230h0M460 418h0M460 423h0M462 424h0M463 244h0M465 243h0M465 246h0M465 410h0M466 407h0M468 246h0M468 253h0M468 405h0M469 242h0M469 243h0M469 410h0M470 243h0M470 247h0M470 249h0M470 250h0M470 400h0M470 403h0M471 400h0M471 402h0M472 250h0M472 393h0M472 396h0M472 409h0M473 249h0M473 398h0M474 264h0M475 257h0M479 263h0M480 266h0M480 269h0M480 391h0M481 278h0M481 378h0M482 370h0M483 278h0M483 363h0M484 290h0M484 294h0M485 279h0M485 287h0M485 306h0M485 363h0M485 375h0M486 286h0M486 295h0M486 302h0M486 346h0M486 377h0M487 290h0M487 299h0M487 306h0M487 318h0M487 319h0M488 286h0M488 317h0M488 318h0M488 328h0M488 337h0M488 350h0M488 351h0M489 306h0M489 314h0M489 344h0M489 352h0M490 304h0M490 346h0M490 352h0M491 314h0M491 340h0M491 352h0M492 350h0M493 334h0" stroke="#214ccc"/>
<path d="M173 329h0M173 336h0M174 302h0M174 333h0M175 350h0M176 315h0M176 325h0M176 357h0M176 359h0M177 322h0M177 361h0M178 328h0M178 339h0M178 356h0M178 359h0M179 325h0M179 339h0M180 291h0M180 305h0M180 348h0M180 353h0M181 361h0M182 282h0M182 289h0M182 362h0M183 272h0M184 275h0M184 285h0M184 379h0M185 273h0M185 374h0M185 387h0M186 275h0M187 265h0M187 267h0M187 280h0M188 394h0M189 383h0M189 388h0M190 259h0M190 391h0M191 263h0M191 397h0M192 391h0M192 395h0M193 263h0M194 394h0M194 399h0M194 402h0M196 251h0M196 253h0M196 406h0M196 411h0M197 255h0M197 407h0M197 409h0M198 249h0M199 242h0M199 245h0M200 246h0M200 408h0M201 238h0M205 417h0M205 419h0M206 231h0M207 419h0M207 420h0M207 423h0M208 235h0M209 422h0M209 423h0M210 230h0M210 420h0M210 421h0M212 224h0M212 423h0M213 226h0M213 430h0M214 228h0M214 436h0M216 428h0M220 221h0M220 223h0M221 442h0M222 214h0M223 212h0M224 444h0M225 441h0M227 216h0M230 214h0M233 204h0M234 205h0M236 211h0M237 201h0M237 448h0M237 453h0M238 203h0M239 208h0M239 456h0M240 202h0M240 203h0M242 454h0M243 458h0M245 453h0M245 460h0M248 458h0M249 194h0M249 463h0M250 457h0M252 193h0M255 459h0M256 193h0M257 192h0M259 194h0M261 193h0M262 465h0M263 192h0M264 190h0M264 466h0M266 467h0M266 468h0M268 184h0M269 467h0M269 469h0M270 188h0M270 189h0M271 182h0M271 185h0M272 184h0M273 186h0M274 186h0M274 468h0M274 472h0M277 472h0M277 474h0M279 182h0M281 473h0M283 179h0M283 478h0M286 183h0M286 476h0M287 479h0M288 180h0M288 475h0M291 474h0M292 178h0M292 179h0M292 474h0M292 478h0M296 176h0M296 482h0M297 175h0M298 482h0M299 176h0M300 176h0M302 180h0M306 179h0M308 179h0M312 177h0M314 174h0M316 481h0M317 174h0M317 176h0M317 178h0M318 482h0M319 482h0M319 483h0M323 176h0M323 481h0M323 483h0M324 484h0M327 177h0M327 178h0M328 171h0M328 174h0M328 480h0M331 485h0M333 480h0M333 483h0M333 485h0M334 172h0M334 173h0M334 177h0M336 483h0M337 172h0M338 483h0M339 484h0M340 178h0M340 483h0M342 177h0M344 178h0M346 175h0M346 478h0M346 482h0M347 175h0M348 177h0M349 481h0M351 179h0M352 175h0M353 479h0M354 177h0M356 180h0M360 178h0M360 179h0M360 476h0M363 480h0M366 480h0M367 179h0M367 182h0M369 177h0M370 473h0M373 178h0M373 179h0M373 473h0M374 476h0M375 180h0M376 476h0M377 180h0M381 470h0M381 473h0M382 469h0M384 473h0M386 187h0M390 183h0M390 466h0M394 188h0M399 190h0M399 192h0M399 194h0M400 193h0M401 189h0M402 192h0M403 191h0M403 465h0M404 197h0M405 463h0M406 196h0M408 197h0M409 194h0M409 200h0M410 201h0M412 199h0M413 453h0M414 454h0M414 460h0M415 458h0M416 202h0M418 456h0M419 202h0M419 456h0M421 208h0M424 205h0M427 209h0M427 210h0M427 450h0M428 208h0M429 209h0M430 442h0M434 219h0M434 221h0M434 437h0M435 434h0M435 439h0M437 433h0M438 217h0M440 219h0M441 437h0M442 218h0M442 220h0M443 230h0M445 222h0M445 432h0M445 433h0M446 426h0M447 424h0M447 428h0M448 420h0M449 231h0M449 234h0M449 425h0M449 426h0M450 420h0M451 425h0M452 236h0M452 241h0M452 421h0M453 422h0M454 413h0M456 237h0M457 238h0M457 407h0M457 417h0M458 412h0M459 245h0M459 246h0M459 412h0M460 410h0M460 412h0M461 407h0M462 255h0M464 251h0M464 255h0M465 256h0M465 261h0M465 403h0M466 266h0M466 395h0M467 254h0M467 267h0M467 393h0M467 399h0M470 384h0M472 378h0M472 393h0M473 373h0M474 283h0M475 275h0M475 284h0M475 378h0M476 363h0M476 365h0M477 360h0M477 366h0M477 377h0M478 306h0M478 378h0M479 315h0M480 301h0M480 304h0M480 307h0M480 337h0M480 348h0M480 359h0M481 290h0M481 294h0M481 299h0M481 309h0M481 328h0M481 343h0M482 312h0M482 317h0M482 328h0M482 336h0M482 361h0M483 319h0M483 321h0M483 353h0M484 314h0M484 316h0M484 321h0M484 322h0M484 324h0M484 328h0M484 340h0M485 308h0M485 336h0M485 346h0" stroke="#1a5ad4"/>
<path d="M180 314h0M180 317h0M181 323h0M181 326h0M182 303h0M182 312h0M182 357h0M183 353h0M184 290h0M184 351h0M185 289h0M185 294h0M188 282h0M188 285h0M188 371h0M188 373h0M190 384h0M190 385h0M191 382h0M195 261h0M196 266h0M196 267h0M197 259h0M201 404h0M202 404h0M206 408h0M207 414h0M208 241h0M209 415h0M210 239h0M210 414h0M212 235h0M212 238h0M215 424h0M217 230h0M218 228h0M218 428h0M219 229h0M221 225h0M229 438h0M231 215h0M232 215h0M232 216h0M233 218h0M233 442h0M234 214h0M234 440h0M242 208h0M243 207h0M244 452h0M246 204h0M246 206h0M247 204h0M247 453h0M249 205h0M249 453h0M249 455h0M252 203h0M254 458h0M258 460h0M261 460h0M263 197h0M263 459h0M266 461h0M268 195h0M271 193h0M276 191h0M278 189h0M285 468h0M288 187h0M289 185h0M291 184h0M292 471h0M299 183h0M300 475h0M301 181h0M301 472h0M305 184h0M305 473h0M310 475h0M311 477h0M312 477h0M314 475h0M315 180h0M321 181h0M321 478h0M324 476h0M326 181h0M329 476h0M334 181h0M337 182h0M345 476h0M346 181h0M346 475h0M347 182h0M349 181h0M349 476h0M357 182h0M357 183h0M360 182h0M361 184h0M361 474h0M363 183h0M366 184h0M366 186h0M368 473h0M370 186h0M370 470h0M375 469h0M379 187h0M382 191h0M383 464h0M384 192h0M387 464h0M390 464h0M393 463h0M394 194h0M395 460h0M396 195h0M396 198h0M397 196h0M401 457h0M401 459h0M402 198h0M402 200h0M405 457h0M406 200h0M409 205h0M410 205h0M414 206h0M422 444h0M424 212h0M424 217h0M424 441h0M425 216h0M425 217h0M427 215h0M427 438h0M428 438h0M429 220h0M431 434h0M433 221h0M433 433h0M433 436h0M434 431h0M435 226h0M439 231h0M440 428h0M442 234h0M442 425h0M444 235h0M446 237h0M447 241h0M447 418h0M448 419h0M450 246h0M455 253h0M458 255h0M458 401h0M461 260h0M462 392h0M462 393h0M462 396h0M463 262h0M463 265h0M463 395h0M463 396h0M464 387h0M465 273h0M468 376h0M469 275h0M470 283h0M471 369h0M472 282h0M472 287h0M472 370h0M473 295h0M474 305h0M474 306h0M475 292h0M475 303h0M475 307h0M475 343h0M475 350h0M476 346h0M477 324h0M477 343h0M478 313h0M478 323h0M478 333h0M478 334h0M479 335h0M479 336h0" stroke="#126add"/>
</g>
<ellipse cx="1578.2" cy="749.4" rx="74" ry="74" fill="#0f77db"/>
<ellipse cx="1578.2" cy="749.4" rx="71.1" ry="71.1" fill="#1481d5"/>
<ellipse cx="1578.2" cy="749.4" rx="68.3" ry="68.3" fill="#1487d3"/>
<ellipse cx="1578.2" cy="749.4" rx="65.4" ry="65.4" fill="#118dd2"/>
<ellipse cx="1578.2" cy="749.4" rx="62.5" ry="62.5" fill="#0c94d2"/>
<ellipse cx="1578.2" cy="749.4" rx="59.9" ry="60" fill="#089ad0"/>
<ellipse cx="1578.2" cy="749.4" rx="57.5" ry="57.7" fill="#069fce"/>
<ellipse cx="1578.2" cy="749.4" rx="55" ry="55.3" fill="#06a4ca"/>
<ellipse cx="1578.2" cy="749.4" rx="52.5" ry="53" fill="#06a7c5"/>
<ellipse cx="1578.2" cy="749.4" rx="50" ry="50.6" fill="#09abbf"/>
<ellipse cx="1578.2" cy="749.4" rx="47.5" ry="48.2" fill="#0eaeba"/>
<ellipse cx="1578.2" cy="749.4" rx="45.5" ry="46.2" fill="#17b1b3"/>
<ellipse cx="1578.2" cy="749.5" rx="44.1" ry="44.9" fill="#21b4ac"/>
<ellipse cx="1578.3" cy="749.5" rx="42.7" ry="43.5" fill="#2cb7a5"/>
<ellipse cx="1578.4" cy="749.5" rx="41.3" ry="42.2" fill="#39b99d"/>
<ellipse cx="1578.4" cy="749.6" rx="39.9" ry="40.8" fill="#46bb95"/>
<ellipse cx="1578.5" cy="749.6" rx="38.5" ry="39.4" fill="#55bd8d"/>
<ellipse cx="1578.5" cy="749.6" rx="37.1" ry="38.1" fill="#65be86"/>
<ellipse cx="1578.6" cy="749.6" rx="35.7" ry="36.7" fill="#74bf7f"/>
<ellipse cx="1578.7" cy="749.7" rx="34.3" ry="35.3" fill="#83bf79"/>
<ellipse cx="1578.7" cy="749.7" rx="32.9" ry="34" fill="#91bf73"/>
<ellipse cx="1578.8" cy="749.7" rx="31.5" ry="32.6" fill="#9ebe6e"/>
<ellipse cx="1578.9" cy="749.8" rx="30.1" ry="31.3" fill="#aabe69"/>
<ellipse cx="1578.9" cy="749.8" rx="28.7" ry="29.9" fill="#b6bd64"/>
<ellipse cx="1579" cy="749.9" rx="27.3" ry="28.5" fill="#c1bc60"/>
<ellipse cx="1579" cy="750" rx="25.9" ry="27.1" fill="#ccbb5b"/>
<ellipse cx="1579" cy="750.2" rx="24.6" ry="25.6" fill="#d7ba57"/>
<ellipse cx="1579" cy="750.3" rx="23.2" ry="24.2" fill="#e1b952"/>
<ellipse cx="1579.1" cy="750.4" rx="21.8" ry="22.8" fill="#ecb94d"/>
<ellipse cx="1579.1" cy="750.5" rx="20.4" ry="21.4" fill="#f6ba46"/>
<ellipse cx="1579.1" cy="750.6" rx="19" ry="19.9" fill="#fdbe3e"/>
<ellipse cx="1579.2" cy="750.8" rx="17.6" ry="18.5" fill="#ffc436"/>
<ellipse cx="1579.2" cy="750.9" rx="16.2" ry="17.1" fill="#fdcb30"/>
<ellipse cx="1579.2" cy="751" rx="14.8" ry="15.7" fill="#fad22a"/>
<ellipse cx="1579.3" cy="751.1" rx="13.4" ry="14.2" fill="#f7d925"/>
<ellipse cx="1579.3" cy="751.3" rx="12" ry="12.8" fill="#f5e11f"/>
<ellipse cx="1579.3" cy="751.4" rx="9.7" ry="10.4" fill="#f5e919"/>
<ellipse cx="1579.3" cy="751.4" rx="4.1" ry="4.4" fill="#f6f313"/>
<g transform="translate(1413.6 585.3) scale(0.5)" fill="none" stroke="#fff" stroke-linecap="round">
<path d="M217 241h0M232 214h0M240 448h0M277 193h0M313 183h0M339 189h0M391 457h0M397 441h0M423 259h0M451 272h0M456 282h0M460 365h0" stroke-width="3"/>
<path d="M251 453h0M339 181h0M348 471h0M381 467h0M397 196h0M467 289h0M471 302h0" stroke-width="5"/>
<path d="M453 286h0" stroke-width="7"/>
</g>
<path d="M1495.5 585.3v11M1495.5 910.8v-11M1577.4 585.3v11M1577.4 910.8v-11M1659.4 585.3v11M1659.4 910.8v-11M1413.6 666.7h11M1741.3 666.7h-11M1413.6 748h11M1741.3 748h-11M1413.6 829.4h11M1741.3 829.4h-11" stroke="#3c3c3c" stroke-width="1.7" fill="none"/>
<path d="M1577.4 585.3V910.8M1413.6 748H1741.3" stroke="#2b8cc6" stroke-width="1.1" fill="none"/>
<path d="M1577.4 585.3V910.8M1413.6 748H1741.3" stroke="#2b8cc6" stroke-width="1.1" fill="none" opacity="0.45" style="mix-blend-mode:multiply"/>
<rect x="1413.6" y="585.3" width="327.7" height="325.5" fill="none" stroke="#3c3c3c" stroke-width="1.7"/>
</g>
<g>
<g transform="translate(50.9 979.0) scale(0.5)" fill="none" stroke-width="9.3" stroke-linecap="round">
<path d="M22 287h0M52 437h0M84 369h0M85 476h0M98 247h0M99 290h0M106 35h0M107 413h0M107 467h0M116 394h0M121 357h0M122 247h0M124 269h0M124 352h0M126 394h0M128 364h0M135 405h0M139 402h0M141 359h0M141 497h0M147 309h0M148 407h0M149 319h0M151 324h0M154 358h0M155 410h0M157 328h0M157 369h0M157 385h0M157 559h0M158 377h0M160 405h0M161 322h0M163 386h0M165 469h0M168 215h0M168 338h0M168 339h0M169 289h0M169 450h0M170 413h0M173 261h0M176 293h0M176 446h0M176 447h0M178 291h0M178 450h0M179 299h0M193 258h0M199 96h0M201 239h0M203 238h0M207 217h0M208 488h0M213 223h0M214 206h0M215 216h0M222 240h0M224 508h0M230 221h0M235 573h0M239 199h0M240 517h0M243 518h0M244 560h0M245 182h0M245 214h0M246 185h0M247 208h0M251 191h0M252 199h0M252 524h0M252 578h0M253 169h0M255 214h0M256 207h0M256 549h0M258 194h0M258 207h0M267 156h0M269 534h0M269 549h0M275 200h0M276 549h0M278 152h0M278 186h0M278 547h0M285 546h0M286 76h0M286 590h0M288 544h0M302 125h0M303 192h0M304 640h0M306 156h0M311 550h0M324 117h0M326 180h0M329 558h0M332 558h0M333 164h0M334 185h0M340 149h0M341 160h0M341 605h0M344 73h0M346 127h0M349 167h0M350 563h0M351 561h0M354 179h0M354 560h0M357 95h0M364 557h0M368 179h0M368 558h0M370 578h0M371 167h0M372 559h0M372 566h0M378 182h0M382 95h0M382 153h0M388 98h0M391 556h0M397 179h0M402 563h0M403 571h0M404 562h0M409 170h0M414 74h0M416 174h0M422 182h0M424 169h0M424 554h0M427 190h0M428 559h0M430 186h0M430 606h0M432 179h0M436 167h0M437 593h0M437 639h0M441 562h0M444 583h0M447 174h0M448 552h0M455 187h0M455 541h0M456 139h0M457 187h0M457 197h0M464 75h0M473 537h0M474 540h0M474 546h0M481 530h0M482 184h0M482 211h0M486 209h0M503 230h0M517 232h0M519 131h0M525 244h0M527 492h0M531 483h0M534 183h0M534 248h0M538 262h0M540 173h0M546 94h0M550 277h0M551 266h0M554 285h0M559 475h0M561 435h0M562 424h0M569 321h0M570 347h0M571 343h0M572 309h0M573 258h0M575 339h0M581 256h0M581 361h0M588 317h0M592 461h0M600 408h0M601 315h0M605 314h0M605 351h0M607 406h0M612 225h0M616 281h0M632 376h0M638 314h0" stroke="#34289c"/>
<path d="M168 363h0M168 369h0M169 347h0M169 359h0M171 334h0M171 396h0M171 402h0M172 372h0M173 364h0M173 394h0M173 398h0M175 425h0M176 402h0M177 428h0M181 304h0M183 435h0M184 302h0M186 291h0M192 292h0M195 459h0M198 274h0M199 464h0M202 271h0M202 466h0M204 469h0M213 253h0M213 259h0M213 488h0M214 252h0M219 489h0M228 501h0M232 236h0M232 239h0M236 505h0M237 231h0M240 231h0M241 226h0M252 218h0M256 518h0M259 218h0M264 211h0M281 209h0M282 534h0M297 195h0M298 543h0M299 201h0M299 541h0M305 542h0M311 547h0M323 193h0M324 547h0M336 550h0M339 554h0M355 190h0M356 189h0M357 189h0M357 553h0M363 189h0M379 186h0M379 554h0M386 188h0M386 551h0M402 193h0M413 547h0M418 196h0M444 202h0M450 201h0M451 202h0M453 203h0M459 534h0M464 211h0M469 214h0M469 527h0M496 511h0M503 231h0M503 504h0M518 492h0M519 250h0M520 493h0M523 251h0M525 482h0M525 487h0M527 482h0M540 465h0M541 462h0M543 459h0M548 451h0M549 299h0M551 304h0M557 429h0M563 342h0M563 406h0M565 394h0M569 375h0" stroke="#33299f"/>
<path d="M176 396h0M178 347h0M178 385h0M178 407h0M179 347h0M179 359h0M179 411h0M180 380h0M180 417h0M181 352h0M181 364h0M182 356h0M182 398h0M182 413h0M183 327h0M183 397h0M187 428h0M188 420h0M191 303h0M196 453h0M202 284h0M207 470h0M209 276h0M209 464h0M209 466h0M213 275h0M215 269h0M217 260h0M218 265h0M220 479h0M221 263h0M223 257h0M225 257h0M225 492h0M228 256h0M229 493h0M230 491h0M233 247h0M235 501h0M237 498h0M238 502h0M240 244h0M241 501h0M245 503h0M248 513h0M249 508h0M259 516h0M260 226h0M272 219h0M273 521h0M275 524h0M278 219h0M282 218h0M283 214h0M286 528h0M294 206h0M306 204h0M311 539h0M313 539h0M324 197h0M327 200h0M328 199h0M329 197h0M330 545h0M336 197h0M338 547h0M339 199h0M344 549h0M345 548h0M349 546h0M361 197h0M365 550h0M369 197h0M382 198h0M393 199h0M394 196h0M394 550h0M403 194h0M404 200h0M407 202h0M408 199h0M409 196h0M410 546h0M411 196h0M422 541h0M425 539h0M429 202h0M429 206h0M431 204h0M433 540h0M450 211h0M460 526h0M466 526h0M475 221h0M476 221h0M479 519h0M489 512h0M494 237h0M496 237h0M504 242h0M510 254h0M513 491h0M516 256h0M518 261h0M518 483h0M521 479h0M523 483h0M536 281h0M537 464h0M538 460h0M544 292h0M544 449h0M546 296h0M547 303h0M547 446h0M548 302h0M550 435h0M552 422h0M553 310h0M555 417h0M556 415h0M558 327h0M558 400h0M559 344h0M562 364h0M562 385h0M563 354h0M563 385h0" stroke="#312ba5"/>
<path d="M185 393h0M186 370h0M187 338h0M187 349h0M187 362h0M187 391h0M187 408h0M188 371h0M189 330h0M189 357h0M189 406h0M192 411h0M193 330h0M193 415h0M196 316h0M197 316h0M197 321h0M197 437h0M198 430h0M198 434h0M199 444h0M202 298h0M202 304h0M204 300h0M204 455h0M206 452h0M207 292h0M207 457h0M211 286h0M211 454h0M216 467h0M219 471h0M221 475h0M222 479h0M224 272h0M224 472h0M226 260h0M227 479h0M230 484h0M232 483h0M233 484h0M235 259h0M236 251h0M237 253h0M240 257h0M244 250h0M246 496h0M256 242h0M257 507h0M261 238h0M269 231h0M270 515h0M272 517h0M279 226h0M281 225h0M281 227h0M282 221h0M282 224h0M291 524h0M299 529h0M303 530h0M306 209h0M309 209h0M315 212h0M320 212h0M323 536h0M326 538h0M330 541h0M331 542h0M338 540h0M339 206h0M340 541h0M341 543h0M344 543h0M352 200h0M352 541h0M352 543h0M353 544h0M355 202h0M357 541h0M359 199h0M361 201h0M363 542h0M367 203h0M369 199h0M374 203h0M374 541h0M375 544h0M377 199h0M379 543h0M383 543h0M385 201h0M392 540h0M394 200h0M394 202h0M397 201h0M401 540h0M403 202h0M405 209h0M408 203h0M416 210h0M419 210h0M424 209h0M434 214h0M441 213h0M453 219h0M455 218h0M459 522h0M464 519h0M468 226h0M469 521h0M473 229h0M473 233h0M478 510h0M483 235h0M490 238h0M494 500h0M494 502h0M498 499h0M500 252h0M504 490h0M507 487h0M509 490h0M510 264h0M513 483h0M515 265h0M515 482h0M516 266h0M516 480h0M519 268h0M519 476h0M524 273h0M526 469h0M528 286h0M532 293h0M533 293h0M534 293h0M534 452h0M536 294h0M541 300h0M541 444h0M544 306h0M546 320h0M547 422h0M549 326h0M550 319h0M550 321h0M550 322h0M551 327h0M552 329h0M552 415h0M554 342h0M555 401h0M556 365h0M556 397h0M557 366h0M557 386h0" stroke="#2e31af"/>
<path d="M189 370h0M190 364h0M190 391h0M191 351h0M191 396h0M192 356h0M192 384h0M192 386h0M193 367h0M193 398h0M194 398h0M195 339h0M195 352h0M195 357h0M195 386h0M195 391h0M195 399h0M195 406h0M196 342h0M196 346h0M196 352h0M196 401h0M196 410h0M196 411h0M197 365h0M197 390h0M197 412h0M199 329h0M199 347h0M199 410h0M200 327h0M200 426h0M201 426h0M202 320h0M202 321h0M202 432h0M203 322h0M203 420h0M203 426h0M204 317h0M206 315h0M206 437h0M206 440h0M209 299h0M209 442h0M211 305h0M212 450h0M213 305h0M213 443h0M214 296h0M216 297h0M217 296h0M217 451h0M218 457h0M218 463h0M220 286h0M220 289h0M221 458h0M222 462h0M224 285h0M225 468h0M226 273h0M227 467h0M231 267h0M231 472h0M233 480h0M234 269h0M235 481h0M236 264h0M236 480h0M237 266h0M237 271h0M239 259h0M239 485h0M241 487h0M243 258h0M243 259h0M254 247h0M254 501h0M256 501h0M257 499h0M259 251h0M261 246h0M261 502h0M264 247h0M264 504h0M267 242h0M268 244h0M273 235h0M273 510h0M273 514h0M278 235h0M281 232h0M281 233h0M282 232h0M290 519h0M291 224h0M291 226h0M292 228h0M294 230h0M301 528h0M306 225h0M309 219h0M310 218h0M316 222h0M316 528h0M321 218h0M324 533h0M328 531h0M333 218h0M334 534h0M335 534h0M335 537h0M340 210h0M341 535h0M345 538h0M351 209h0M352 537h0M360 213h0M362 541h0M370 537h0M371 207h0M372 541h0M378 210h0M383 210h0M386 539h0M392 214h0M397 535h0M398 210h0M400 538h0M401 211h0M401 214h0M402 210h0M403 537h0M404 536h0M405 538h0M406 209h0M406 212h0M406 215h0M413 214h0M419 219h0M420 217h0M422 214h0M424 217h0M425 531h0M428 532h0M429 217h0M440 525h0M442 528h0M452 519h0M453 225h0M455 520h0M459 516h0M460 229h0M463 236h0M465 514h0M467 237h0M470 240h0M470 514h0M473 239h0M476 242h0M479 240h0M482 242h0M483 507h0M486 501h0M487 498h0M489 501h0M496 495h0M507 269h0M509 267h0M509 269h0M510 270h0M510 480h0M512 269h0M512 273h0M520 468h0M522 468h0M524 291h0M525 463h0M525 465h0M528 292h0M534 449h0M535 307h0M535 441h0M536 312h0M536 448h0M538 443h0M543 329h0M547 404h0M548 350h0M548 354h0M548 407h0M548 419h0M549 402h0M550 362h0M550 389h0M551 399h0M551 406h0M552 388h0M553 384h0M554 366h0" stroke="#2c37b9"/>
<path d="M197 384h0M197 388h0M198 359h0M198 366h0M198 379h0M198 384h0M199 351h0M199 363h0M200 351h0M200 357h0M201 340h0M201 358h0M201 386h0M201 398h0M202 365h0M202 371h0M202 397h0M203 344h0M203 370h0M203 390h0M203 395h0M204 329h0M204 399h0M205 353h0M205 357h0M205 414h0M206 407h0M206 427h0M210 323h0M210 424h0M210 432h0M210 436h0M211 332h0M211 425h0M212 428h0M213 312h0M213 317h0M214 316h0M215 314h0M216 312h0M216 436h0M217 314h0M217 316h0M217 446h0M219 443h0M219 444h0M220 302h0M220 310h0M220 445h0M223 299h0M224 291h0M224 302h0M225 288h0M225 295h0M226 291h0M226 292h0M227 461h0M229 285h0M232 466h0M234 284h0M234 288h0M235 286h0M236 278h0M237 469h0M239 274h0M239 478h0M240 472h0M240 476h0M240 478h0M241 482h0M243 477h0M245 478h0M246 481h0M246 484h0M248 482h0M248 485h0M249 486h0M254 262h0M254 265h0M254 490h0M255 260h0M255 490h0M255 494h0M259 261h0M259 495h0M261 258h0M261 495h0M262 495h0M263 498h0M264 250h0M266 496h0M269 246h0M269 503h0M272 501h0M272 504h0M273 507h0M279 506h0M280 511h0M281 238h0M282 508h0M285 238h0M285 239h0M285 510h0M286 239h0M287 510h0M288 235h0M288 240h0M288 513h0M290 515h0M295 239h0M296 239h0M297 518h0M299 230h0M299 234h0M299 519h0M303 233h0M304 234h0M307 232h0M310 230h0M313 521h0M316 223h0M316 524h0M319 524h0M325 528h0M328 526h0M329 222h0M329 526h0M329 529h0M338 219h0M339 224h0M342 223h0M343 217h0M344 216h0M351 223h0M353 221h0M356 215h0M357 533h0M359 535h0M360 531h0M361 219h0M363 534h0M365 533h0M366 218h0M367 216h0M367 219h0M370 221h0M377 221h0M379 219h0M381 216h0M384 218h0M392 215h0M393 217h0M396 222h0M398 532h0M403 532h0M403 533h0M404 531h0M405 529h0M406 219h0M407 531h0M408 530h0M410 530h0M413 529h0M415 528h0M420 225h0M422 223h0M422 226h0M424 527h0M427 524h0M428 225h0M431 226h0M431 522h0M432 526h0M433 229h0M435 523h0M442 521h0M447 232h0M450 238h0M454 518h0M455 514h0M466 242h0M467 509h0M469 505h0M473 507h0M475 246h0M476 248h0M478 500h0M480 502h0M481 499h0M483 499h0M486 497h0M488 255h0M493 489h0M495 487h0M498 264h0M499 269h0M500 265h0M503 271h0M503 481h0M504 272h0M504 273h0M507 478h0M511 475h0M512 467h0M512 469h0M512 473h0M513 287h0M513 467h0M515 467h0M515 468h0M516 282h0M516 287h0M516 469h0M517 283h0M517 284h0M517 289h0M518 462h0M519 459h0M521 297h0M522 295h0M522 458h0M523 457h0M523 459h0M526 304h0M527 307h0M530 305h0M531 443h0M532 319h0M534 315h0M536 315h0M537 330h0M537 423h0M538 332h0M541 418h0M541 423h0M543 350h0M544 355h0M544 358h0M545 410h0M546 345h0M546 354h0M546 374h0M547 381h0M547 398h0M548 368h0M548 372h0M549 367h0M549 368h0M549 369h0M549 370h0M549 373h0M550 380h0" stroke="#2741c2"/>
<path d="M205 367h0M206 368h0M206 373h0M206 396h0M208 400h0M209 348h0M209 370h0M209 409h0M210 343h0M210 373h0M210 378h0M211 347h0M211 374h0M211 380h0M211 386h0M211 398h0M211 416h0M212 340h0M212 355h0M212 364h0M212 398h0M212 416h0M213 330h0M213 337h0M215 343h0M215 412h0M215 422h0M215 426h0M216 326h0M216 415h0M217 323h0M217 341h0M218 416h0M218 417h0M218 420h0M218 429h0M218 433h0M219 314h0M220 431h0M221 328h0M222 431h0M223 312h0M223 320h0M223 430h0M223 435h0M223 439h0M224 441h0M225 313h0M225 442h0M225 443h0M226 313h0M227 312h0M228 307h0M228 312h0M228 452h0M229 300h0M229 453h0M230 304h0M231 299h0M231 451h0M231 456h0M232 295h0M232 453h0M233 296h0M233 452h0M234 453h0M234 454h0M234 458h0M235 453h0M238 285h0M240 295h0M241 291h0M241 471h0M243 280h0M246 276h0M247 472h0M248 473h0M248 478h0M249 473h0M249 474h0M249 477h0M250 279h0M250 479h0M251 277h0M251 474h0M252 477h0M252 478h0M255 479h0M255 481h0M257 481h0M258 482h0M259 268h0M259 487h0M260 269h0M261 266h0M261 489h0M262 266h0M263 489h0M264 490h0M265 264h0M265 265h0M265 487h0M265 488h0M265 491h0M266 258h0M266 265h0M267 262h0M268 491h0M268 492h0M269 264h0M272 261h0M272 495h0M274 260h0M274 498h0M276 250h0M276 502h0M278 252h0M279 250h0M280 499h0M280 502h0M282 250h0M283 502h0M284 247h0M287 251h0M288 249h0M290 243h0M291 244h0M291 247h0M291 248h0M295 240h0M296 248h0M296 508h0M298 240h0M299 245h0M306 517h0M309 238h0M313 235h0M314 235h0M314 239h0M317 233h0M319 231h0M323 232h0M323 523h0M325 230h0M325 236h0M325 520h0M329 521h0M331 524h0M332 232h0M333 232h0M333 521h0M335 230h0M336 229h0M337 228h0M337 522h0M338 230h0M340 522h0M340 526h0M342 230h0M343 523h0M345 232h0M350 228h0M351 529h0M352 226h0M355 226h0M355 527h0M357 226h0M357 527h0M358 228h0M359 225h0M361 229h0M362 526h0M363 529h0M365 528h0M366 227h0M373 530h0M374 530h0M375 229h0M377 226h0M381 528h0M382 528h0M384 528h0M385 530h0M386 225h0M387 224h0M387 226h0M387 530h0M388 227h0M388 530h0M393 227h0M393 526h0M393 528h0M396 525h0M397 225h0M397 529h0M398 230h0M403 526h0M405 225h0M405 526h0M407 227h0M407 527h0M408 230h0M409 227h0M409 527h0M415 228h0M421 233h0M422 521h0M422 522h0M423 228h0M426 521h0M427 519h0M430 520h0M431 237h0M431 517h0M432 519h0M433 233h0M435 235h0M435 516h0M437 233h0M438 233h0M438 235h0M442 515h0M443 516h0M446 237h0M447 513h0M448 239h0M451 245h0M453 509h0M457 248h0M458 506h0M461 507h0M462 249h0M463 251h0M464 507h0M468 501h0M470 502h0M472 253h0M472 499h0M473 253h0M476 500h0M482 262h0M487 266h0M490 489h0M493 270h0M494 267h0M494 272h0M496 271h0M496 276h0M498 279h0M498 477h0M498 480h0M499 273h0M499 279h0M500 281h0M501 275h0M501 475h0M504 279h0M504 477h0M505 473h0M507 283h0M508 285h0M509 283h0M509 466h0M512 287h0M513 288h0M513 465h0M515 294h0M515 298h0M516 455h0M517 302h0M518 300h0M518 453h0M519 454h0M521 453h0M522 301h0M522 308h0M525 448h0M526 317h0M527 319h0M527 438h0M528 433h0M529 312h0M529 314h0M529 315h0M529 325h0M531 317h0M531 322h0M531 330h0M531 426h0M532 422h0M532 431h0M533 428h0M534 329h0M536 331h0M536 413h0M537 332h0M537 335h0M537 338h0M537 349h0M537 415h0M538 347h0M538 355h0M538 400h0M538 408h0M539 339h0M539 345h0M539 348h0M539 413h0M540 366h0M541 346h0M542 356h0M542 357h0M543 393h0M544 381h0" stroke="#214ccc"/>
<path d="M213 358h0M213 378h0M214 370h0M214 388h0M215 352h0M215 360h0M215 373h0M215 381h0M216 361h0M216 374h0M216 396h0M217 363h0M217 386h0M217 397h0M218 351h0M218 362h0M219 337h0M219 348h0M219 359h0M220 358h0M220 360h0M220 362h0M221 331h0M221 410h0M221 418h0M221 424h0M222 331h0M222 345h0M222 346h0M222 425h0M223 328h0M223 344h0M223 351h0M223 430h0M224 344h0M224 416h0M225 325h0M225 326h0M225 343h0M226 339h0M227 433h0M227 438h0M228 317h0M228 321h0M228 325h0M229 317h0M229 321h0M230 314h0M230 321h0M231 312h0M231 316h0M231 319h0M232 323h0M233 315h0M235 307h0M236 316h0M236 442h0M236 447h0M237 302h0M238 298h0M239 310h0M239 448h0M240 458h0M241 451h0M241 452h0M243 461h0M245 293h0M245 460h0M246 461h0M247 296h0M247 463h0M248 288h0M252 469h0M253 469h0M254 279h0M254 469h0M255 281h0M255 285h0M255 476h0M256 280h0M256 282h0M257 278h0M257 286h0M258 476h0M259 277h0M259 278h0M259 280h0M264 478h0M264 485h0M265 271h0M265 275h0M265 277h0M265 279h0M265 484h0M268 488h0M269 266h0M269 267h0M269 268h0M269 482h0M270 265h0M270 267h0M271 489h0M272 271h0M272 488h0M275 268h0M275 488h0M276 267h0M276 495h0M277 264h0M277 494h0M278 268h0M282 263h0M283 496h0M284 496h0M285 260h0M285 494h0M286 259h0M289 254h0M289 258h0M292 259h0M292 499h0M293 252h0M293 258h0M294 250h0M296 254h0M297 249h0M297 250h0M297 256h0M298 252h0M299 506h0M301 252h0M301 509h0M304 244h0M304 508h0M305 511h0M307 510h0M310 244h0M311 245h0M313 245h0M315 512h0M316 509h0M316 511h0M319 515h0M321 514h0M324 237h0M325 513h0M326 239h0M326 245h0M328 237h0M328 238h0M329 237h0M330 238h0M330 240h0M335 234h0M335 521h0M337 518h0M341 234h0M343 234h0M343 518h0M345 519h0M346 239h0M346 519h0M347 235h0M348 520h0M349 236h0M352 521h0M355 231h0M356 236h0M357 231h0M357 232h0M357 233h0M357 234h0M357 520h0M358 238h0M359 522h0M361 230h0M361 523h0M361 525h0M363 233h0M363 234h0M363 235h0M366 234h0M367 231h0M368 521h0M372 230h0M372 235h0M372 236h0M372 522h0M376 236h0M376 524h0M377 233h0M387 235h0M388 522h0M388 523h0M388 524h0M389 235h0M389 522h0M389 525h0M390 523h0M391 230h0M391 523h0M392 525h0M396 238h0M398 237h0M398 238h0M400 232h0M401 234h0M403 232h0M403 237h0M403 520h0M404 237h0M407 236h0M407 237h0M407 520h0M407 521h0M408 239h0M408 519h0M409 240h0M410 237h0M411 240h0M411 520h0M412 517h0M413 239h0M414 517h0M418 239h0M419 516h0M421 519h0M422 241h0M425 240h0M425 514h0M425 518h0M427 240h0M430 517h0M432 245h0M432 516h0M433 246h0M434 514h0M436 242h0M436 514h0M437 512h0M442 242h0M442 247h0M443 245h0M444 510h0M446 248h0M446 508h0M451 252h0M452 506h0M452 508h0M453 247h0M453 508h0M454 249h0M454 251h0M456 253h0M458 251h0M462 499h0M463 502h0M464 259h0M466 256h0M466 257h0M466 501h0M469 258h0M470 496h0M471 497h0M473 493h0M474 260h0M475 495h0M476 267h0M476 489h0M477 262h0M477 490h0M484 483h0M485 269h0M485 275h0M491 277h0M491 280h0M492 274h0M492 479h0M493 276h0M493 278h0M494 279h0M495 473h0M496 284h0M497 281h0M497 285h0M497 473h0M499 282h0M499 283h0M499 287h0M499 288h0M499 473h0M500 468h0M503 291h0M504 290h0M505 294h0M505 464h0M505 466h0M509 294h0M509 296h0M510 458h0M512 299h0M512 300h0M512 304h0M513 299h0M514 451h0M516 303h0M516 446h0M517 313h0M517 453h0M519 443h0M521 321h0M522 314h0M522 316h0M523 325h0M524 439h0M525 318h0M525 325h0M525 430h0M526 424h0M526 431h0M529 335h0M530 342h0M530 423h0M531 335h0M531 340h0M532 347h0M532 414h0M533 341h0M534 341h0M534 374h0M534 377h0M534 398h0M535 380h0M536 361h0M536 362h0M536 364h0M536 393h0M536 401h0M537 404h0M538 385h0M538 387h0M539 378h0M539 379h0M539 380h0M539 381h0M539 383h0" stroke="#1a5ad4"/>
<path d="M220 372h0M220 373h0M220 375h0M220 378h0M221 361h0M222 364h0M222 371h0M223 349h0M223 360h0M223 400h0M224 348h0M224 367h0M224 407h0M225 344h0M225 347h0M225 356h0M225 411h0M226 352h0M226 417h0M227 337h0M227 415h0M228 419h0M230 331h0M232 325h0M232 327h0M232 433h0M234 320h0M234 323h0M234 437h0M235 326h0M238 317h0M241 314h0M242 451h0M243 308h0M244 304h0M244 305h0M245 308h0M245 453h0M247 305h0M247 455h0M248 297h0M249 458h0M251 461h0M257 292h0M259 286h0M259 289h0M259 472h0M261 474h0M264 474h0M266 279h0M270 276h0M270 280h0M272 277h0M273 481h0M274 485h0M277 486h0M279 268h0M285 269h0M287 266h0M290 495h0M294 499h0M295 262h0M298 260h0M305 254h0M312 253h0M314 252h0M315 251h0M318 507h0M325 246h0M329 246h0M330 513h0M330 514h0M331 244h0M334 245h0M336 244h0M345 518h0M349 240h0M352 241h0M360 239h0M360 240h0M361 520h0M362 519h0M363 239h0M374 519h0M375 519h0M377 519h0M381 237h0M382 520h0M389 520h0M391 240h0M396 240h0M400 241h0M401 518h0M402 239h0M404 241h0M408 241h0M412 242h0M414 241h0M416 245h0M421 513h0M421 514h0M423 245h0M424 244h0M425 246h0M440 251h0M447 255h0M447 256h0M447 506h0M448 255h0M448 256h0M451 257h0M454 257h0M454 258h0M456 501h0M460 261h0M460 498h0M462 498h0M467 493h0M469 264h0M473 488h0M473 490h0M474 488h0M476 488h0M477 486h0M482 277h0M482 482h0M484 278h0M484 481h0M485 277h0M485 279h0M487 478h0M488 281h0M489 282h0M493 287h0M495 287h0M495 289h0M501 463h0M505 301h0M506 301h0M511 450h0M512 307h0M512 311h0M513 312h0M514 445h0M516 442h0M516 445h0M516 446h0M517 439h0M518 440h0M520 436h0M521 323h0M521 433h0M523 331h0M524 332h0M528 348h0M528 414h0M529 349h0M530 348h0M530 356h0M533 372h0M533 380h0M533 387h0M533 393h0M534 372h0M534 379h0" stroke="#126add"/>
</g>
<ellipse cx="239.7" cy="1168.7" rx="77.9" ry="70.1" fill="#0f77db"/>
<ellipse cx="240.2" cy="1168.7" rx="75.7" ry="67.9" fill="#1481d5"/>
<ellipse cx="240.6" cy="1168.7" rx="73.4" ry="65.6" fill="#1487d3"/>
<ellipse cx="241.1" cy="1168.7" rx="71.2" ry="63.4" fill="#118dd2"/>
<ellipse cx="241.5" cy="1168.7" rx="68.9" ry="61.2" fill="#0c94d2"/>
<ellipse cx="242.8" cy="1168.7" rx="66.4" ry="59.4" fill="#089ad0"/>
<ellipse cx="244.4" cy="1168.7" rx="63.8" ry="57.8" fill="#069fce"/>
<ellipse cx="246.1" cy="1168.7" rx="61.1" ry="56.3" fill="#06a4ca"/>
<ellipse cx="247.8" cy="1168.7" rx="58.4" ry="54.7" fill="#06a7c5"/>
<ellipse cx="249.5" cy="1168.7" rx="55.8" ry="53.2" fill="#09abbf"/>
<ellipse cx="251.1" cy="1168.7" rx="53.1" ry="51.6" fill="#0eaeba"/>
<ellipse cx="252.6" cy="1168.8" rx="50.8" ry="50.1" fill="#17b1b3"/>
<ellipse cx="253.6" cy="1169.2" rx="49" ry="48.5" fill="#21b4ac"/>
<ellipse cx="254.6" cy="1169.5" rx="47.2" ry="47" fill="#2cb7a5"/>
<ellipse cx="255.6" cy="1169.8" rx="45.5" ry="45.4" fill="#39b99d"/>
<ellipse cx="256.7" cy="1170.1" rx="43.7" ry="43.9" fill="#46bb95"/>
<ellipse cx="257.7" cy="1170.4" rx="41.9" ry="42.3" fill="#55bd8d"/>
<ellipse cx="258.7" cy="1170.7" rx="40.2" ry="40.8" fill="#65be86"/>
<ellipse cx="259.7" cy="1171" rx="38.4" ry="39.2" fill="#74bf7f"/>
<ellipse cx="260.7" cy="1171.3" rx="36.7" ry="37.7" fill="#83bf79"/>
<ellipse cx="261.8" cy="1171.6" rx="34.9" ry="36.1" fill="#91bf73"/>
<ellipse cx="262.8" cy="1171.9" rx="33.1" ry="34.6" fill="#9ebe6e"/>
<ellipse cx="263.8" cy="1172.3" rx="31.4" ry="33" fill="#aabe69"/>
<ellipse cx="264.8" cy="1172.6" rx="29.6" ry="31.5" fill="#b6bd64"/>
<ellipse cx="265.1" cy="1172.8" rx="28.1" ry="30.1" fill="#c1bc60"/>
<ellipse cx="265.2" cy="1172.9" rx="26.7" ry="28.8" fill="#ccbb5b"/>
<ellipse cx="265.3" cy="1173.1" rx="25.3" ry="27.5" fill="#d7ba57"/>
<ellipse cx="265.4" cy="1173.2" rx="23.9" ry="26.2" fill="#e1b952"/>
<ellipse cx="265.5" cy="1173.4" rx="22.5" ry="24.9" fill="#ecb94d"/>
<ellipse cx="265.6" cy="1173.5" rx="21.1" ry="23.6" fill="#f6ba46"/>
<ellipse cx="265.7" cy="1173.7" rx="19.8" ry="22.3" fill="#fdbe3e"/>
<ellipse cx="265.8" cy="1173.8" rx="18.4" ry="21" fill="#ffc436"/>
<ellipse cx="265.9" cy="1174" rx="17" ry="19.7" fill="#fdcb30"/>
<ellipse cx="266" cy="1174.1" rx="15.6" ry="18.4" fill="#fad22a"/>
<ellipse cx="266.1" cy="1174.3" rx="14.2" ry="17.1" fill="#f7d925"/>
<ellipse cx="266.1" cy="1174.5" rx="12.8" ry="15.8" fill="#f5e11f"/>
<ellipse cx="266.2" cy="1174.6" rx="10.4" ry="13.2" fill="#f5e919"/>
<ellipse cx="266.2" cy="1174.6" rx="4.4" ry="5.5" fill="#f6f313"/>
<g transform="translate(50.9 979.0) scale(0.5)" fill="none" stroke="#fff" stroke-linecap="round">
<path d="M238 347h0M246 321h0M252 440h0M267 286h0M295 480h0M297 492h0M332 500h0M383 498h0M403 260h0M439 258h0M499 307h0M504 442h0" stroke-width="3"/>
<path d="M272 338h0M296 268h0M319 499h0M371 518h0M402 510h0M488 294h0M523 359h0" stroke-width="5"/>
<path d="M515 328h0" stroke-width="7"/>
</g>
<path d="M132.7 979.0v11M132.7 1304.7v-11M214.5 979.0v11M214.5 1304.7v-11M296.2 979.0v11M296.2 1304.7v-11M50.9 1060.4h11M378.0 1060.4h-11M50.9 1141.8h11M378.0 1141.8h-11M50.9 1223.3h11M378.0 1223.3h-11" stroke="#3c3c3c" stroke-width="1.7" fill="none"/>
<path d="M214.4 979.0V1304.7M50.9 1141.8H378.0" stroke="#2b8cc6" stroke-width="1.1" fill="none"/>
<path d="M214.4 979.0V1304.7M50.9 1141.8H378.0" stroke="#2b8cc6" stroke-width="1.1" fill="none" opacity="0.45" style="mix-blend-mode:multiply"/>
<rect x="50.9" y="979.0" width="327.1" height="325.7" fill="none" stroke="#3c3c3c" stroke-width="1.7"/>
</g>
<g>
<g transform="translate(390.1 979.0) scale(0.5)" fill="none" stroke-width="9.3" stroke-linecap="round">
<path d="M19 193h0M51 481h0M66 389h0M74 352h0M79 542h0M96 300h0M99 443h0M103 498h0M105 450h0M106 308h0M109 427h0M113 360h0M115 610h0M117 390h0M124 292h0M125 565h0M135 400h0M137 416h0M137 426h0M139 380h0M141 394h0M142 351h0M146 280h0M147 318h0M147 330h0M147 382h0M148 330h0M148 440h0M149 436h0M152 241h0M152 281h0M152 300h0M152 446h0M153 423h0M154 464h0M155 434h0M155 510h0M156 86h0M156 470h0M157 444h0M161 277h0M161 467h0M162 491h0M163 302h0M164 476h0M164 478h0M165 264h0M166 468h0M166 488h0M167 534h0M168 477h0M171 134h0M171 487h0M179 495h0M180 242h0M181 505h0M182 272h0M186 241h0M187 513h0M188 258h0M192 256h0M193 507h0M196 258h0M197 523h0M198 255h0M200 216h0M202 202h0M202 537h0M207 243h0M217 210h0M217 528h0M219 530h0M220 107h0M220 544h0M221 220h0M227 131h0M235 219h0M237 218h0M239 192h0M240 542h0M247 182h0M249 211h0M253 549h0M261 202h0M263 201h0M265 556h0M267 566h0M268 556h0M272 194h0M273 562h0M274 602h0M276 561h0M278 566h0M284 197h0M284 581h0M288 197h0M291 576h0M302 195h0M302 570h0M304 580h0M305 176h0M307 574h0M310 181h0M311 189h0M316 177h0M316 190h0M317 191h0M325 190h0M341 150h0M345 163h0M352 178h0M357 584h0M359 188h0M370 142h0M373 190h0M376 175h0M393 595h0M396 194h0M398 166h0M401 184h0M405 174h0M407 571h0M414 192h0M419 183h0M419 193h0M424 192h0M424 566h0M441 199h0M443 564h0M445 558h0M447 559h0M452 186h0M457 203h0M458 212h0M459 211h0M464 123h0M467 546h0M473 218h0M480 138h0M485 532h0M489 223h0M490 565h0M496 223h0M497 131h0M499 232h0M501 215h0M504 563h0M505 171h0M505 232h0M507 524h0M508 182h0M508 201h0M508 524h0M515 157h0M516 208h0M516 260h0M518 130h0M527 492h0M532 513h0M534 529h0M536 264h0M537 254h0M539 248h0M541 188h0M544 475h0M545 290h0M546 302h0M547 297h0M548 481h0M552 450h0M554 321h0M555 269h0M555 458h0M556 439h0M559 428h0M560 329h0M563 412h0M567 383h0M568 391h0M569 387h0M570 322h0M570 571h0M579 345h0M582 412h0M583 422h0M598 190h0M613 310h0" stroke="#34289c"/>
<path d="M153 358h0M154 386h0M155 357h0M158 439h0M166 459h0M167 319h0M172 310h0M174 302h0M178 291h0M178 297h0M178 475h0M183 478h0M188 275h0M188 281h0M193 271h0M200 260h0M204 506h0M211 514h0M216 521h0M229 531h0M234 532h0M238 535h0M241 231h0M242 231h0M261 548h0M266 215h0M266 550h0M268 551h0M270 555h0M292 208h0M292 561h0M307 204h0M312 200h0M319 200h0M319 570h0M320 567h0M327 193h0M337 570h0M348 571h0M354 193h0M357 192h0M359 573h0M365 572h0M374 195h0M403 565h0M411 566h0M416 206h0M417 202h0M422 205h0M425 207h0M429 558h0M432 560h0M439 557h0M441 212h0M444 551h0M444 553h0M452 219h0M455 222h0M462 544h0M463 542h0M466 226h0M482 233h0M485 241h0M489 525h0M515 505h0M522 495h0M529 283h0M542 306h0M544 306h0M545 312h0M547 452h0M550 441h0M554 329h0M557 355h0M558 410h0M559 387h0" stroke="#33299f"/>
<path d="M158 383h0M159 392h0M162 337h0M162 356h0M162 420h0M162 427h0M163 359h0M163 430h0M165 339h0M165 342h0M165 430h0M167 342h0M169 332h0M169 436h0M169 439h0M169 443h0M170 441h0M171 323h0M171 329h0M171 450h0M175 464h0M177 455h0M178 311h0M178 459h0M178 466h0M179 462h0M182 304h0M185 291h0M188 478h0M194 279h0M195 278h0M197 493h0M203 272h0M203 503h0M210 260h0M213 257h0M213 512h0M222 256h0M226 249h0M229 245h0M235 243h0M237 241h0M238 528h0M238 531h0M243 536h0M244 533h0M248 232h0M252 226h0M262 228h0M262 229h0M263 223h0M263 548h0M265 220h0M271 221h0M274 216h0M287 216h0M289 554h0M292 557h0M293 212h0M294 560h0M303 558h0M303 562h0M319 204h0M320 208h0M322 206h0M322 208h0M330 204h0M330 566h0M334 201h0M337 566h0M338 204h0M338 205h0M342 202h0M345 203h0M350 566h0M354 206h0M356 205h0M357 567h0M366 202h0M371 566h0M379 564h0M383 565h0M387 565h0M390 208h0M395 202h0M397 204h0M416 557h0M417 214h0M422 210h0M423 216h0M428 217h0M434 214h0M439 553h0M441 550h0M444 218h0M444 222h0M457 227h0M460 232h0M472 534h0M485 248h0M490 250h0M494 248h0M498 257h0M502 256h0M509 502h0M510 271h0M513 270h0M514 273h0M515 269h0M516 276h0M518 275h0M519 276h0M521 490h0M523 283h0M526 286h0M528 294h0M531 472h0M532 298h0M533 301h0M534 304h0M535 299h0M535 306h0M536 464h0M537 310h0M542 313h0M542 454h0M543 447h0M545 324h0M545 327h0M550 333h0M551 427h0M552 419h0M553 424h0M555 390h0M556 362h0M557 403h0M558 381h0M559 380h0" stroke="#312ba5"/>
<path d="M164 358h0M165 369h0M166 349h0M166 369h0M166 405h0M166 420h0M167 369h0M168 373h0M168 391h0M168 407h0M168 421h0M168 422h0M169 408h0M170 419h0M178 318h0M180 452h0M181 312h0M181 316h0M182 460h0M183 313h0M188 467h0M189 302h0M192 292h0M193 296h0M194 480h0M196 487h0M197 285h0M197 292h0M204 284h0M208 495h0M210 276h0M211 501h0M214 502h0M214 506h0M218 264h0M224 257h0M224 259h0M224 262h0M237 254h0M238 525h0M241 249h0M241 527h0M248 239h0M249 238h0M253 241h0M254 241h0M255 536h0M257 237h0M264 231h0M266 233h0M272 228h0M277 228h0M280 549h0M281 548h0M285 221h0M291 549h0M293 221h0M298 215h0M302 220h0M308 217h0M311 559h0M312 216h0M318 218h0M319 557h0M324 214h0M331 214h0M334 562h0M336 208h0M342 210h0M353 562h0M355 207h0M357 212h0M357 561h0M365 564h0M366 562h0M372 208h0M372 212h0M372 562h0M389 559h0M391 216h0M392 210h0M393 214h0M397 560h0M401 212h0M408 218h0M409 217h0M410 219h0M416 222h0M423 222h0M427 553h0M428 222h0M430 549h0M443 546h0M445 229h0M446 231h0M451 541h0M453 539h0M456 540h0M460 537h0M461 239h0M463 239h0M468 531h0M470 246h0M471 531h0M475 529h0M476 526h0M479 251h0M480 249h0M480 253h0M494 514h0M496 512h0M499 269h0M500 507h0M502 271h0M510 280h0M519 289h0M519 483h0M520 292h0M523 292h0M523 479h0M526 474h0M531 301h0M531 306h0M531 465h0M534 312h0M536 319h0M538 325h0M539 323h0M547 428h0M547 435h0M548 344h0M548 421h0M549 410h0M549 419h0M551 378h0M553 369h0" stroke="#2e31af"/>
<path d="M169 385h0M170 369h0M171 363h0M171 401h0M173 352h0M174 394h0M175 353h0M175 382h0M175 427h0M176 354h0M176 367h0M177 356h0M177 424h0M178 343h0M178 355h0M179 344h0M179 427h0M179 444h0M181 428h0M181 445h0M182 328h0M182 437h0M182 440h0M183 442h0M183 446h0M185 327h0M185 335h0M186 321h0M186 323h0M186 325h0M186 326h0M186 458h0M187 456h0M188 321h0M188 462h0M191 456h0M192 309h0M194 312h0M194 313h0M196 470h0M196 476h0M197 303h0M197 308h0M197 468h0M198 301h0M198 306h0M199 299h0M202 291h0M202 294h0M203 300h0M205 485h0M209 284h0M212 286h0M213 286h0M213 498h0M214 281h0M216 277h0M218 282h0M218 502h0M220 500h0M222 505h0M230 264h0M234 516h0M235 515h0M237 517h0M238 254h0M238 256h0M238 519h0M239 256h0M241 254h0M244 258h0M244 520h0M244 521h0M245 525h0M246 249h0M258 245h0M259 531h0M259 534h0M260 532h0M262 243h0M266 533h0M266 534h0M267 242h0M267 537h0M267 539h0M269 239h0M271 238h0M272 236h0M273 538h0M274 539h0M275 236h0M276 538h0M277 237h0M280 236h0M282 543h0M290 229h0M290 231h0M290 233h0M292 547h0M295 548h0M296 232h0M297 546h0M297 548h0M298 548h0M300 225h0M303 226h0M303 227h0M303 229h0M304 553h0M307 225h0M308 221h0M311 225h0M313 222h0M313 551h0M319 556h0M321 553h0M323 555h0M329 217h0M333 556h0M334 219h0M336 219h0M336 556h0M340 222h0M340 557h0M341 217h0M349 215h0M350 558h0M353 218h0M355 557h0M358 560h0M359 558h0M361 221h0M362 557h0M365 215h0M384 220h0M384 556h0M390 558h0M391 219h0M392 217h0M393 223h0M393 556h0M396 555h0M401 553h0M403 220h0M410 221h0M410 552h0M417 552h0M425 547h0M434 232h0M435 233h0M447 241h0M453 242h0M453 537h0M455 535h0M457 240h0M457 535h0M458 246h0M459 240h0M464 529h0M474 253h0M478 519h0M487 512h0M488 265h0M495 272h0M495 506h0M497 271h0M497 274h0M497 275h0M498 273h0M498 274h0M502 498h0M509 282h0M509 493h0M510 493h0M511 289h0M512 490h0M513 485h0M516 294h0M516 485h0M517 292h0M517 482h0M521 302h0M522 302h0M525 307h0M525 473h0M529 314h0M531 457h0M533 319h0M536 325h0M539 338h0M542 351h0M544 414h0M544 424h0M546 404h0M547 368h0M548 387h0M548 388h0M549 380h0M549 402h0M550 383h0" stroke="#2c37b9"/>
<path d="M176 377h0M177 373h0M178 368h0M178 408h0M179 380h0M179 386h0M180 384h0M181 361h0M181 408h0M181 409h0M182 363h0M182 373h0M182 379h0M182 388h0M182 404h0M183 370h0M183 429h0M184 340h0M184 353h0M184 356h0M184 365h0M185 341h0M185 354h0M185 440h0M186 422h0M186 428h0M186 434h0M186 440h0M187 344h0M187 354h0M188 343h0M188 440h0M188 446h0M189 344h0M191 324h0M193 451h0M194 319h0M194 322h0M195 450h0M196 318h0M196 455h0M202 313h0M204 310h0M206 301h0M207 475h0M208 306h0M211 482h0M212 299h0M213 295h0M214 294h0M214 485h0M216 291h0M218 494h0M219 286h0M219 492h0M220 283h0M222 284h0M222 493h0M223 494h0M223 499h0M224 277h0M225 280h0M225 282h0M229 282h0M230 504h0M231 280h0M235 271h0M235 276h0M235 507h0M236 268h0M241 513h0M244 516h0M245 265h0M246 263h0M247 520h0M248 259h0M248 265h0M250 259h0M252 263h0M254 259h0M255 254h0M256 251h0M260 251h0M263 249h0M263 253h0M263 527h0M264 247h0M264 528h0M266 253h0M266 528h0M267 247h0M268 247h0M269 249h0M273 243h0M274 532h0M276 242h0M276 535h0M277 245h0M277 535h0M278 535h0M281 242h0M284 241h0M285 542h0M287 242h0M288 238h0M289 238h0M291 236h0M292 541h0M296 234h0M296 541h0M301 231h0M302 235h0M303 238h0M303 545h0M304 231h0M304 232h0M309 547h0M309 548h0M314 228h0M315 233h0M315 549h0M318 228h0M322 231h0M324 227h0M327 225h0M333 552h0M336 554h0M342 225h0M342 552h0M343 555h0M346 225h0M346 555h0M347 225h0M350 223h0M351 225h0M351 228h0M356 553h0M356 554h0M364 227h0M364 554h0M373 553h0M378 229h0M380 226h0M380 552h0M382 223h0M382 228h0M386 230h0M391 227h0M392 228h0M392 550h0M397 226h0M397 552h0M398 228h0M398 552h0M399 230h0M403 226h0M406 547h0M409 550h0M410 231h0M410 550h0M413 229h0M414 233h0M416 545h0M417 236h0M418 231h0M421 544h0M422 235h0M422 546h0M423 232h0M423 544h0M423 545h0M428 237h0M428 542h0M429 541h0M432 240h0M436 237h0M437 241h0M439 238h0M440 538h0M441 246h0M450 532h0M453 251h0M455 248h0M462 250h0M462 252h0M462 257h0M462 525h0M466 254h0M466 258h0M471 256h0M473 260h0M477 519h0M478 263h0M478 515h0M480 269h0M480 517h0M484 270h0M485 272h0M486 273h0M487 270h0M489 274h0M489 507h0M493 505h0M494 274h0M494 505h0M495 278h0M495 501h0M497 499h0M501 287h0M503 496h0M507 289h0M507 489h0M508 295h0M509 291h0M509 294h0M510 298h0M516 307h0M518 303h0M519 475h0M520 307h0M520 309h0M522 468h0M523 313h0M523 466h0M524 322h0M524 461h0M531 326h0M531 335h0M531 454h0M532 334h0M537 350h0M539 421h0M540 351h0M540 355h0M540 357h0M540 371h0M541 366h0M541 417h0M542 372h0M542 373h0M542 410h0M542 424h0M543 378h0M544 377h0M544 394h0" stroke="#2741c2"/>
<path d="M183 387h0M184 378h0M184 398h0M184 400h0M186 365h0M186 408h0M187 362h0M187 365h0M187 381h0M187 382h0M187 387h0M187 404h0M187 414h0M187 418h0M187 421h0M188 357h0M188 369h0M188 372h0M188 382h0M188 383h0M188 414h0M188 421h0M189 382h0M189 424h0M190 356h0M190 359h0M190 367h0M190 415h0M190 424h0M190 425h0M191 349h0M191 350h0M191 431h0M192 343h0M193 428h0M194 344h0M194 351h0M195 344h0M195 345h0M195 449h0M197 440h0M197 442h0M197 446h0M197 455h0M198 447h0M199 333h0M201 323h0M201 452h0M202 455h0M203 458h0M204 460h0M205 313h0M205 459h0M205 463h0M205 464h0M206 325h0M207 314h0M210 316h0M210 470h0M212 307h0M212 309h0M212 472h0M214 303h0M214 483h0M215 477h0M217 307h0M218 297h0M218 486h0M219 486h0M220 296h0M220 298h0M220 484h0M221 291h0M221 298h0M221 302h0M222 487h0M223 294h0M223 295h0M223 488h0M224 289h0M224 489h0M225 494h0M226 289h0M227 292h0M229 283h0M229 285h0M232 497h0M233 284h0M233 288h0M233 289h0M233 499h0M235 281h0M240 503h0M241 276h0M241 277h0M243 278h0M244 509h0M245 270h0M245 507h0M245 509h0M247 274h0M247 514h0M248 270h0M248 274h0M249 510h0M251 272h0M252 267h0M254 516h0M258 260h0M259 263h0M260 261h0M262 258h0M262 261h0M264 263h0M265 255h0M265 261h0M265 521h0M266 257h0M267 262h0M269 256h0M271 259h0M271 260h0M271 530h0M273 529h0M274 530h0M278 250h0M278 528h0M278 529h0M278 532h0M279 248h0M279 256h0M279 530h0M280 250h0M283 254h0M283 531h0M284 247h0M286 249h0M289 249h0M293 244h0M293 250h0M299 246h0M299 538h0M299 540h0M302 541h0M303 238h0M308 240h0M308 242h0M309 241h0M311 243h0M314 241h0M317 545h0M320 546h0M321 238h0M322 546h0M326 237h0M329 547h0M330 546h0M334 238h0M338 550h0M340 548h0M341 232h0M342 236h0M345 550h0M346 237h0M347 235h0M349 230h0M350 230h0M350 235h0M352 236h0M354 237h0M359 233h0M361 550h0M363 550h0M366 549h0M368 234h0M370 234h0M370 549h0M380 238h0M381 550h0M382 236h0M387 549h0M388 550h0M389 236h0M389 237h0M391 549h0M394 547h0M398 235h0M398 548h0M401 238h0M402 234h0M402 240h0M403 234h0M407 236h0M408 240h0M411 241h0M413 238h0M413 544h0M415 237h0M415 544h0M416 243h0M416 244h0M417 239h0M418 241h0M420 245h0M421 244h0M422 246h0M424 241h0M424 246h0M429 537h0M431 244h0M434 248h0M435 250h0M439 247h0M440 250h0M441 246h0M445 250h0M446 253h0M447 253h0M448 255h0M449 252h0M449 531h0M451 258h0M453 530h0M454 259h0M455 256h0M456 258h0M459 257h0M465 522h0M466 261h0M469 520h0M471 518h0M472 271h0M473 513h0M473 517h0M478 511h0M478 512h0M481 271h0M481 274h0M481 511h0M483 280h0M483 505h0M484 281h0M485 278h0M490 278h0M491 280h0M494 287h0M495 497h0M495 499h0M499 291h0M500 491h0M503 295h0M503 296h0M504 292h0M504 489h0M505 299h0M505 301h0M507 301h0M508 306h0M515 309h0M515 315h0M517 313h0M517 317h0M517 319h0M517 467h0M519 318h0M522 460h0M523 327h0M524 323h0M526 327h0M526 328h0M526 334h0M526 336h0M527 455h0M528 340h0M529 336h0M529 342h0M530 335h0M530 342h0M530 442h0M531 338h0M531 339h0M531 348h0M531 436h0M532 349h0M532 434h0M532 436h0M534 347h0M534 352h0M534 430h0M535 357h0M536 423h0M537 362h0M537 411h0M537 413h0M539 390h0M539 403h0M539 404h0M540 376h0M540 398h0M541 390h0" stroke="#214ccc"/>
<path d="M190 382h0M190 400h0M191 372h0M191 376h0M191 383h0M191 389h0M191 391h0M192 371h0M192 384h0M192 413h0M193 381h0M193 401h0M193 402h0M194 388h0M194 395h0M194 400h0M194 405h0M194 411h0M195 355h0M195 365h0M195 373h0M195 417h0M195 420h0M195 424h0M195 427h0M196 378h0M197 349h0M197 355h0M197 370h0M197 432h0M197 434h0M198 347h0M198 368h0M198 428h0M198 431h0M199 432h0M199 433h0M199 435h0M199 437h0M200 340h0M200 342h0M200 353h0M200 433h0M200 437h0M201 447h0M202 340h0M202 343h0M203 350h0M203 444h0M203 447h0M204 335h0M204 448h0M206 330h0M206 337h0M206 342h0M206 455h0M206 456h0M207 449h0M207 459h0M208 335h0M208 449h0M208 455h0M209 321h0M209 328h0M209 333h0M210 459h0M211 325h0M211 329h0M211 460h0M213 464h0M214 324h0M215 311h0M215 319h0M215 321h0M216 323h0M217 469h0M217 475h0M218 472h0M218 473h0M219 307h0M220 311h0M222 475h0M223 477h0M225 486h0M226 304h0M226 483h0M229 298h0M229 487h0M230 301h0M232 298h0M232 491h0M233 295h0M236 492h0M236 494h0M237 296h0M238 295h0M239 285h0M239 292h0M240 495h0M241 290h0M243 286h0M243 501h0M244 282h0M244 505h0M245 279h0M246 282h0M246 287h0M248 285h0M251 509h0M254 510h0M256 276h0M256 278h0M258 272h0M258 275h0M260 268h0M260 274h0M261 273h0M261 513h0M262 267h0M262 270h0M262 275h0M263 266h0M264 270h0M265 519h0M266 267h0M267 269h0M268 271h0M270 263h0M270 267h0M270 521h0M271 519h0M271 524h0M275 265h0M277 523h0M278 259h0M279 261h0M279 525h0M282 261h0M283 529h0M285 254h0M286 262h0M288 532h0M290 530h0M292 534h0M293 257h0M293 259h0M297 534h0M298 254h0M298 534h0M300 249h0M301 533h0M304 252h0M307 537h0M309 246h0M311 536h0M312 252h0M313 248h0M313 250h0M313 251h0M314 538h0M315 244h0M315 245h0M315 541h0M322 242h0M325 243h0M325 543h0M327 542h0M332 541h0M333 240h0M333 241h0M333 545h0M335 242h0M338 240h0M338 543h0M338 546h0M344 546h0M346 238h0M347 546h0M349 546h0M349 547h0M350 547h0M355 240h0M356 239h0M360 239h0M368 243h0M371 240h0M371 546h0M372 544h0M373 243h0M374 245h0M376 245h0M379 244h0M379 545h0M381 243h0M383 240h0M383 545h0M387 242h0M387 243h0M391 242h0M391 243h0M391 543h0M397 544h0M398 541h0M400 243h0M400 248h0M401 542h0M403 248h0M406 543h0M409 244h0M417 250h0M417 252h0M422 254h0M422 538h0M423 248h0M425 248h0M425 249h0M425 537h0M427 534h0M428 250h0M428 535h0M430 252h0M436 533h0M447 257h0M447 527h0M447 528h0M448 257h0M449 258h0M449 259h0M450 525h0M452 522h0M459 269h0M464 270h0M466 516h0M469 275h0M472 512h0M475 279h0M476 275h0M477 277h0M480 277h0M481 283h0M482 285h0M483 504h0M485 281h0M485 282h0M486 499h0M487 289h0M488 288h0M489 498h0M490 287h0M490 288h0M490 289h0M491 493h0M495 297h0M497 489h0M497 491h0M499 487h0M501 305h0M503 305h0M506 304h0M506 306h0M508 307h0M509 474h0M511 319h0M511 472h0M512 321h0M512 467h0M513 316h0M513 317h0M514 468h0M517 323h0M517 326h0M518 460h0M519 333h0M520 332h0M522 450h0M522 452h0M523 336h0M525 441h0M525 449h0M527 346h0M528 350h0M529 358h0M529 441h0M530 360h0M530 426h0M531 425h0M534 363h0M534 367h0M534 387h0M534 389h0M534 398h0M535 375h0M536 378h0M536 386h0M537 388h0" stroke="#1a5ad4"/>
<path d="M197 378h0M197 410h0M198 377h0M198 381h0M199 406h0M199 419h0M200 414h0M201 371h0M202 433h0M204 361h0M204 435h0M205 347h0M205 350h0M205 352h0M206 351h0M207 440h0M208 343h0M213 459h0M214 327h0M217 324h0M217 329h0M218 326h0M218 466h0M219 324h0M220 318h0M224 316h0M224 318h0M226 310h0M231 308h0M239 493h0M243 497h0M251 504h0M252 504h0M253 286h0M261 279h0M264 512h0M265 274h0M267 273h0M270 515h0M271 275h0M277 521h0M278 267h0M281 266h0M281 521h0M282 265h0M282 266h0M287 265h0M289 527h0M291 264h0M294 259h0M297 530h0M298 257h0M299 257h0M309 533h0M314 253h0M321 538h0M322 250h0M324 538h0M328 249h0M335 249h0M336 540h0M343 246h0M345 542h0M347 247h0M349 542h0M351 543h0M354 246h0M355 246h0M358 543h0M360 246h0M364 246h0M364 247h0M366 245h0M371 245h0M373 541h0M374 246h0M376 246h0M378 249h0M384 246h0M386 247h0M390 248h0M395 251h0M398 248h0M402 249h0M409 253h0M414 535h0M420 535h0M423 533h0M424 532h0M425 258h0M426 532h0M430 531h0M434 261h0M435 530h0M438 262h0M441 263h0M442 265h0M443 525h0M451 269h0M455 268h0M455 270h0M459 517h0M465 514h0M469 277h0M470 280h0M470 510h0M473 281h0M475 506h0M477 285h0M479 286h0M482 290h0M490 296h0M491 297h0M495 301h0M497 485h0M498 303h0M499 308h0M500 482h0M502 480h0M503 477h0M504 311h0M504 314h0M505 313h0M505 316h0M506 314h0M509 471h0M513 328h0M513 463h0M515 327h0M516 330h0M519 336h0M522 343h0M522 443h0M524 442h0M525 353h0M525 436h0M526 439h0M527 427h0M528 428h0M530 411h0M531 377h0M531 390h0M531 402h0" stroke="#126add"/>
</g>
<ellipse cx="572.7" cy="1176.5" rx="83.7" ry="74" fill="#0f77db"/>
<ellipse cx="573" cy="1177.4" rx="81.3" ry="71.3" fill="#1481d5"/>
<ellipse cx="573.3" cy="1178.3" rx="78.9" ry="68.6" fill="#1487d3"/>
<ellipse cx="573.5" cy="1179.2" rx="76.5" ry="65.9" fill="#118dd2"/>
<ellipse cx="573.8" cy="1180.1" rx="74.1" ry="63.3" fill="#0c94d2"/>
<ellipse cx="574" cy="1181.4" rx="71.7" ry="60.5" fill="#089ad0" transform="rotate(-2.6 574 1181.4)"/>
<ellipse cx="574.1" cy="1183" rx="69.3" ry="57.7" fill="#069fce" transform="rotate(-6.5 574.1 1183)"/>
<ellipse cx="574.2" cy="1184.5" rx="67" ry="54.9" fill="#06a4ca" transform="rotate(-10.5 574.2 1184.5)"/>
<ellipse cx="574.4" cy="1186.1" rx="64.6" ry="52.1" fill="#06a7c5" transform="rotate(-14.5 574.4 1186.1)"/>
<ellipse cx="574.5" cy="1187.6" rx="62.3" ry="49.4" fill="#09abbf" transform="rotate(-18.5 574.5 1187.6)"/>
<ellipse cx="574.6" cy="1189.2" rx="59.9" ry="46.6" fill="#0eaeba" transform="rotate(-22.5 574.6 1189.2)"/>
<ellipse cx="574.8" cy="1190.5" rx="57.8" ry="44.2" fill="#17b1b3" transform="rotate(-25.1 574.8 1190.5)"/>
<ellipse cx="575" cy="1191.5" rx="56.2" ry="42.6" fill="#21b4ac" transform="rotate(-25.5 575 1191.5)"/>
<ellipse cx="575.3" cy="1192.6" rx="54.6" ry="40.9" fill="#2cb7a5" transform="rotate(-25.9 575.3 1192.6)"/>
<ellipse cx="575.5" cy="1193.6" rx="53" ry="39.3" fill="#39b99d" transform="rotate(-26.3 575.5 1193.6)"/>
<ellipse cx="575.8" cy="1194.6" rx="51.4" ry="37.6" fill="#46bb95" transform="rotate(-26.7 575.8 1194.6)"/>
<ellipse cx="576" cy="1195.6" rx="49.8" ry="36" fill="#55bd8d" transform="rotate(-27.1 576 1195.6)"/>
<ellipse cx="576.3" cy="1196.7" rx="48.2" ry="34.3" fill="#65be86" transform="rotate(-27.5 576.3 1196.7)"/>
<ellipse cx="576.5" cy="1197.7" rx="46.6" ry="32.7" fill="#74bf7f" transform="rotate(-27.9 576.5 1197.7)"/>
<ellipse cx="576.7" cy="1198.7" rx="45" ry="31.1" fill="#83bf79" transform="rotate(-28.3 576.7 1198.7)"/>
<ellipse cx="577" cy="1199.7" rx="43.3" ry="29.4" fill="#91bf73" transform="rotate(-28.7 577 1199.7)"/>
<ellipse cx="577.2" cy="1200.7" rx="41.7" ry="27.8" fill="#9ebe6e" transform="rotate(-29.1 577.2 1200.7)"/>
<ellipse cx="577.5" cy="1201.8" rx="40.1" ry="26.1" fill="#aabe69" transform="rotate(-29.5 577.5 1201.8)"/>
<ellipse cx="577.7" cy="1202.8" rx="38.5" ry="24.5" fill="#b6bd64" transform="rotate(-29.9 577.7 1202.8)"/>
<ellipse cx="577.8" cy="1203.2" rx="36.7" ry="23.3" fill="#c1bc60" transform="rotate(-30 577.8 1203.2)"/>
<ellipse cx="577.9" cy="1203.4" rx="34.8" ry="22.2" fill="#ccbb5b" transform="rotate(-30 577.9 1203.4)"/>
<ellipse cx="578" cy="1203.6" rx="32.9" ry="21" fill="#d7ba57" transform="rotate(-30 578 1203.6)"/>
<ellipse cx="578" cy="1203.8" rx="31" ry="19.9" fill="#e1b952" transform="rotate(-30 578 1203.8)"/>
<ellipse cx="578.1" cy="1204" rx="29.1" ry="18.8" fill="#ecb94d" transform="rotate(-30 578.1 1204)"/>
<ellipse cx="578.2" cy="1204.3" rx="27.2" ry="17.7" fill="#f6ba46" transform="rotate(-30 578.2 1204.3)"/>
<ellipse cx="578.2" cy="1204.5" rx="25.4" ry="16.6" fill="#fdbe3e" transform="rotate(-30 578.2 1204.5)"/>
<ellipse cx="578.3" cy="1204.7" rx="23.5" ry="15.5" fill="#ffc436" transform="rotate(-30 578.3 1204.7)"/>
<ellipse cx="578.3" cy="1204.9" rx="21.6" ry="14.4" fill="#fdcb30" transform="rotate(-30 578.3 1204.9)"/>
<ellipse cx="578.4" cy="1205.1" rx="19.7" ry="13.2" fill="#fad22a" transform="rotate(-30 578.4 1205.1)"/>
<ellipse cx="578.5" cy="1205.3" rx="17.8" ry="12.1" fill="#f7d925" transform="rotate(-30 578.5 1205.3)"/>
<ellipse cx="578.5" cy="1205.6" rx="15.9" ry="11" fill="#f5e11f" transform="rotate(-30 578.5 1205.6)"/>
<ellipse cx="578.6" cy="1205.7" rx="12.9" ry="9" fill="#f5e919" transform="rotate(-30 578.6 1205.7)"/>
<ellipse cx="578.6" cy="1205.7" rx="5.4" ry="3.8" fill="#f6f313" transform="rotate(-30 578.6 1205.7)"/>
<g transform="translate(390.1 979.0) scale(0.5)" fill="none" stroke="#fff" stroke-linecap="round">
<path d="M218 331h0M225 468h0M227 464h0M269 300h0M288 498h0M291 261h0M316 530h0M353 537h0M395 284h0M452 271h0M454 281h0M458 518h0M493 479h0M511 324h0M522 430h0" stroke-width="3"/>
<path d="M214 397h0M221 402h0M248 316h0M265 496h0M352 538h0M459 519h0M464 504h0" stroke-width="5"/>
</g>
<path d="M471.8 979.0v11M471.8 1304.7v-11M553.5 979.0v11M553.5 1304.7v-11M635.3 979.0v11M635.3 1304.7v-11M390.1 1060.4h11M717.0 1060.4h-11M390.1 1141.8h11M717.0 1141.8h-11M390.1 1223.3h11M717.0 1223.3h-11" stroke="#3c3c3c" stroke-width="1.7" fill="none"/>
<path d="M553.5 979.0V1304.7M390.1 1141.8H717.0" stroke="#2b8cc6" stroke-width="1.1" fill="none"/>
<path d="M553.5 979.0V1304.7M390.1 1141.8H717.0" stroke="#2b8cc6" stroke-width="1.1" fill="none" opacity="0.45" style="mix-blend-mode:multiply"/>
<rect x="390.1" y="979.0" width="326.9" height="325.7" fill="none" stroke="#3c3c3c" stroke-width="1.7"/>
</g>
<g>
<g transform="translate(730.5 979.0) scale(0.5)" fill="none" stroke-width="9.3" stroke-linecap="round">
<path d="M31 218h0M62 451h0M96 557h0M113 440h0M114 204h0M121 340h0M132 421h0M133 406h0M138 378h0M138 403h0M139 384h0M140 519h0M142 432h0M143 348h0M144 341h0M144 361h0M144 367h0M146 408h0M146 414h0M147 320h0M148 206h0M149 364h0M149 375h0M152 395h0M152 488h0M153 471h0M155 474h0M155 477h0M157 497h0M161 329h0M162 295h0M167 292h0M177 285h0M184 249h0M184 529h0M185 499h0M186 285h0M187 501h0M189 278h0M190 243h0M193 528h0M196 244h0M202 244h0M206 529h0M207 128h0M210 232h0M213 235h0M214 534h0M219 220h0M222 132h0M222 216h0M222 544h0M226 230h0M226 547h0M228 601h0M229 228h0M232 549h0M237 224h0M242 207h0M243 559h0M244 564h0M245 558h0M250 218h0M254 579h0M263 208h0M272 206h0M273 203h0M277 194h0M277 574h0M282 580h0M283 159h0M283 208h0M286 207h0M286 576h0M289 205h0M291 605h0M300 139h0M300 164h0M302 203h0M309 144h0M315 589h0M318 174h0M319 201h0M320 188h0M320 581h0M331 582h0M332 188h0M332 593h0M333 586h0M333 587h0M333 617h0M335 589h0M336 604h0M346 139h0M347 148h0M347 184h0M349 142h0M357 180h0M363 196h0M367 184h0M373 197h0M374 196h0M374 589h0M382 580h0M385 578h0M386 579h0M388 576h0M393 204h0M396 198h0M400 78h0M405 576h0M406 163h0M406 178h0M409 198h0M411 567h0M432 183h0M433 216h0M438 557h0M443 552h0M445 222h0M454 545h0M473 194h0M475 530h0M477 253h0M481 521h0M483 257h0M486 261h0M487 547h0M488 508h0M489 208h0M490 272h0M498 537h0M500 493h0M502 501h0M502 509h0M506 295h0M510 272h0M510 469h0M511 11h0M511 480h0M511 486h0M512 317h0M513 304h0M514 464h0M515 497h0M517 449h0M518 469h0M521 445h0M522 345h0M523 324h0M523 331h0M524 357h0M526 400h0M528 413h0M528 414h0M531 428h0M532 381h0M532 409h0M533 268h0M533 401h0M535 288h0M535 373h0M535 393h0M535 434h0M536 314h0M537 359h0M537 455h0M555 460h0M566 284h0M587 316h0M594 231h0M624 351h0M630 366h0" stroke="#34289c"/>
<path d="M158 386h0M158 393h0M158 400h0M158 420h0M159 384h0M160 365h0M161 385h0M163 363h0M167 344h0M167 441h0M168 448h0M173 321h0M176 316h0M177 470h0M178 305h0M178 481h0M182 301h0M183 299h0M187 490h0M189 283h0M193 284h0M197 276h0M198 277h0M201 510h0M202 516h0M203 267h0M213 253h0M217 250h0M243 235h0M255 557h0M261 562h0M281 212h0M284 568h0M285 218h0M289 214h0M292 213h0M292 215h0M293 212h0M295 571h0M297 208h0M300 208h0M300 209h0M321 204h0M327 201h0M335 580h0M356 205h0M361 577h0M362 577h0M368 204h0M369 202h0M387 211h0M389 208h0M392 210h0M392 216h0M407 215h0M412 216h0M418 562h0M422 558h0M425 557h0M444 237h0M458 534h0M459 535h0M459 536h0M461 532h0M461 535h0M462 251h0M466 258h0M468 256h0M472 524h0M474 265h0M482 275h0M485 272h0M488 282h0M496 491h0M511 324h0M511 332h0M515 442h0M516 444h0M521 353h0M521 412h0M521 430h0M522 424h0M524 395h0" stroke="#33299f"/>
<path d="M162 395h0M163 403h0M164 383h0M165 393h0M165 421h0M166 434h0M167 404h0M168 371h0M169 356h0M170 437h0M172 442h0M173 340h0M176 459h0M177 332h0M178 467h0M181 313h0M182 479h0M186 304h0M200 505h0M201 280h0M202 283h0M203 506h0M212 274h0M218 263h0M223 527h0M226 531h0M229 258h0M231 256h0M242 244h0M244 546h0M250 241h0M252 550h0M255 553h0M259 553h0M260 557h0M267 231h0M269 225h0M271 560h0M274 562h0M276 228h0M278 562h0M282 226h0M282 566h0M291 219h0M294 220h0M295 223h0M298 215h0M298 571h0M300 222h0M306 572h0M309 212h0M315 215h0M325 574h0M331 212h0M337 211h0M343 577h0M345 213h0M346 217h0M347 215h0M354 215h0M356 212h0M358 211h0M358 217h0M359 575h0M368 211h0M378 214h0M386 215h0M386 570h0M388 221h0M390 569h0M391 216h0M391 566h0M394 220h0M395 218h0M400 221h0M406 564h0M407 224h0M418 559h0M421 230h0M435 238h0M441 546h0M442 249h0M442 543h0M445 539h0M450 254h0M450 256h0M451 254h0M451 538h0M454 532h0M456 256h0M462 261h0M463 260h0M472 276h0M475 276h0M475 513h0M480 508h0M481 284h0M481 504h0M489 295h0M490 490h0M493 299h0M501 312h0M504 464h0M506 460h0M514 432h0M516 377h0M516 428h0M517 363h0M517 389h0M519 393h0M520 378h0" stroke="#312ba5"/>
<path d="M167 398h0M167 408h0M168 393h0M169 369h0M170 411h0M171 390h0M171 398h0M172 393h0M173 379h0M174 353h0M174 432h0M174 443h0M175 345h0M175 431h0M176 446h0M178 347h0M180 328h0M181 327h0M181 452h0M184 465h0M185 317h0M185 320h0M185 466h0M187 468h0M187 475h0M188 473h0M192 313h0M192 478h0M194 483h0M196 491h0M198 302h0M206 503h0M208 505h0M215 513h0M218 270h0M218 271h0M219 274h0M219 521h0M221 273h0M225 264h0M225 522h0M231 529h0M236 258h0M237 262h0M243 253h0M246 250h0M247 540h0M249 542h0M250 249h0M255 547h0M256 249h0M259 243h0M260 240h0M264 240h0M266 240h0M276 557h0M277 559h0M278 238h0M286 560h0M290 563h0M295 224h0M301 226h0M301 567h0M303 229h0M303 230h0M305 223h0M305 565h0M311 569h0M329 221h0M334 569h0M340 226h0M342 224h0M342 570h0M344 570h0M349 573h0M351 224h0M353 221h0M354 218h0M358 220h0M360 222h0M364 225h0M364 570h0M367 567h0M368 225h0M368 226h0M368 569h0M369 223h0M372 566h0M378 566h0M380 225h0M380 227h0M382 230h0M386 225h0M391 231h0M399 560h0M414 553h0M415 237h0M421 243h0M424 245h0M430 546h0M432 243h0M434 542h0M439 254h0M442 251h0M443 256h0M447 255h0M450 264h0M454 263h0M460 267h0M461 271h0M463 522h0M465 276h0M467 516h0M468 513h0M469 277h0M474 280h0M475 287h0M475 288h0M478 291h0M480 297h0M482 497h0M489 489h0M492 481h0M498 468h0M501 466h0M502 328h0M505 336h0M510 434h0M512 377h0M512 410h0M512 430h0M513 378h0M513 429h0M513 430h0M514 382h0M514 402h0M514 415h0M515 417h0" stroke="#2e31af"/>
<path d="M173 396h0M175 401h0M175 417h0M176 371h0M176 394h0M176 415h0M177 405h0M177 416h0M178 355h0M178 393h0M178 426h0M178 433h0M179 374h0M179 440h0M179 444h0M180 347h0M180 369h0M181 351h0M181 364h0M181 439h0M182 360h0M182 362h0M182 444h0M185 339h0M185 348h0M185 451h0M185 454h0M186 349h0M187 339h0M188 339h0M188 457h0M188 466h0M189 326h0M190 321h0M190 322h0M190 464h0M193 469h0M193 471h0M196 485h0M198 309h0M198 488h0M199 317h0M201 305h0M203 311h0M204 309h0M204 492h0M206 300h0M207 302h0M207 305h0M209 300h0M210 301h0M212 505h0M219 288h0M221 513h0M223 513h0M226 277h0M228 275h0M228 521h0M228 523h0M229 271h0M232 270h0M235 269h0M235 271h0M236 269h0M241 265h0M241 534h0M242 265h0M243 262h0M243 534h0M245 261h0M246 259h0M247 263h0M248 255h0M249 535h0M253 252h0M253 254h0M253 540h0M260 248h0M261 252h0M261 544h0M263 548h0M265 253h0M266 547h0M267 549h0M271 249h0M273 241h0M273 246h0M273 247h0M273 549h0M274 248h0M276 554h0M279 553h0M280 238h0M281 245h0M281 555h0M288 238h0M290 238h0M291 242h0M294 559h0M297 234h0M300 233h0M301 560h0M307 238h0M314 563h0M318 234h0M319 229h0M319 563h0M321 230h0M322 229h0M322 230h0M324 230h0M324 567h0M325 234h0M326 230h0M329 235h0M332 226h0M335 567h0M336 566h0M339 232h0M345 231h0M350 232h0M352 231h0M353 230h0M358 232h0M360 565h0M363 565h0M364 563h0M365 233h0M369 565h0M374 233h0M377 234h0M385 562h0M386 232h0M388 236h0M394 236h0M397 557h0M401 242h0M404 245h0M407 241h0M408 241h0M409 244h0M410 247h0M411 242h0M411 552h0M417 248h0M419 251h0M424 256h0M426 544h0M429 542h0M432 257h0M433 539h0M433 542h0M435 259h0M435 263h0M436 257h0M439 262h0M442 262h0M444 266h0M446 271h0M448 530h0M449 526h0M450 526h0M451 273h0M452 270h0M462 283h0M463 285h0M465 513h0M471 506h0M471 508h0M472 295h0M476 297h0M478 297h0M478 496h0M478 499h0M481 302h0M482 306h0M487 313h0M487 315h0M487 487h0M489 478h0M490 321h0M496 334h0M499 338h0M503 357h0M504 444h0M504 446h0M505 368h0M505 441h0M506 431h0M508 373h0M508 376h0M508 381h0M508 417h0M509 395h0M510 378h0M510 386h0M510 416h0M511 405h0M511 420h0M512 412h0" stroke="#2c37b9"/>
<path d="M179 379h0M179 386h0M180 375h0M181 372h0M181 412h0M182 372h0M182 380h0M182 390h0M182 394h0M183 372h0M183 376h0M183 396h0M184 375h0M184 429h0M185 354h0M186 356h0M186 439h0M186 445h0M187 362h0M189 354h0M189 445h0M189 453h0M189 454h0M190 453h0M191 336h0M193 346h0M194 463h0M195 466h0M195 469h0M196 334h0M196 464h0M198 473h0M203 317h0M204 312h0M204 316h0M205 489h0M206 491h0M207 487h0M210 303h0M211 309h0M213 305h0M218 303h0M219 502h0M222 296h0M223 296h0M225 293h0M225 513h0M226 293h0M226 511h0M226 515h0M227 290h0M227 511h0M230 282h0M230 285h0M231 280h0M231 288h0M233 521h0M234 520h0M236 278h0M237 522h0M240 276h0M241 270h0M241 278h0M241 279h0M243 277h0M243 526h0M243 530h0M244 529h0M246 267h0M248 534h0M249 265h0M251 262h0M251 267h0M252 263h0M252 267h0M252 535h0M254 264h0M254 536h0M259 258h0M260 540h0M262 260h0M262 263h0M263 264h0M263 539h0M269 257h0M269 543h0M270 542h0M272 255h0M272 544h0M278 247h0M278 248h0M280 255h0M284 246h0M294 248h0M299 555h0M304 247h0M306 243h0M307 558h0M308 241h0M309 244h0M309 560h0M314 241h0M316 559h0M317 242h0M318 237h0M320 243h0M324 241h0M325 243h0M326 559h0M327 240h0M327 561h0M331 242h0M335 564h0M338 239h0M341 240h0M346 236h0M347 562h0M348 237h0M348 241h0M352 236h0M353 242h0M355 238h0M355 564h0M359 236h0M359 242h0M359 559h0M360 238h0M361 560h0M366 562h0M369 238h0M373 242h0M373 243h0M374 238h0M378 559h0M378 560h0M382 240h0M385 555h0M386 555h0M388 555h0M389 244h0M391 246h0M391 556h0M398 250h0M399 244h0M402 252h0M404 549h0M406 548h0M410 250h0M412 252h0M413 547h0M415 545h0M417 254h0M419 255h0M422 260h0M423 262h0M425 540h0M431 265h0M434 269h0M436 266h0M436 532h0M438 268h0M440 274h0M441 274h0M452 522h0M455 281h0M455 518h0M460 512h0M462 292h0M463 294h0M466 291h0M466 297h0M466 299h0M467 506h0M469 301h0M471 501h0M472 497h0M476 308h0M476 311h0M478 309h0M480 311h0M480 486h0M480 488h0M482 321h0M482 484h0M483 321h0M484 321h0M486 329h0M486 330h0M487 330h0M487 478h0M487 480h0M488 324h0M489 471h0M493 463h0M496 353h0M497 347h0M497 350h0M497 353h0M498 353h0M498 447h0M499 359h0M499 447h0M501 366h0M501 433h0M501 435h0M502 360h0M502 368h0M503 382h0M504 368h0M504 371h0M505 409h0M505 411h0M505 420h0M507 381h0M507 382h0" stroke="#2741c2"/>
<path d="M183 408h0M185 383h0M185 407h0M185 414h0M186 387h0M186 389h0M186 393h0M186 414h0M186 417h0M188 389h0M188 432h0M189 372h0M189 375h0M189 401h0M189 431h0M189 438h0M190 427h0M190 429h0M191 431h0M191 435h0M192 449h0M193 349h0M196 455h0M196 458h0M197 456h0M199 457h0M202 474h0M203 327h0M205 323h0M205 328h0M206 327h0M206 476h0M206 482h0M209 324h0M210 325h0M211 487h0M212 312h0M213 311h0M213 316h0M213 493h0M215 314h0M216 317h0M217 307h0M217 495h0M217 498h0M218 313h0M220 311h0M221 303h0M221 500h0M221 502h0M224 502h0M224 503h0M228 293h0M230 293h0M230 298h0M233 514h0M233 515h0M237 286h0M238 287h0M239 284h0M239 285h0M239 516h0M240 281h0M241 287h0M241 518h0M242 286h0M243 287h0M244 282h0M245 282h0M245 526h0M247 279h0M249 283h0M251 277h0M252 280h0M252 531h0M255 277h0M257 531h0M258 276h0M258 531h0M258 532h0M259 535h0M260 269h0M261 270h0M263 270h0M263 535h0M265 264h0M265 269h0M268 262h0M272 264h0M272 266h0M273 268h0M273 541h0M275 260h0M275 542h0M275 543h0M276 258h0M276 545h0M278 542h0M278 543h0M281 264h0M282 258h0M287 259h0M287 549h0M289 256h0M292 252h0M293 253h0M293 550h0M295 250h0M295 254h0M295 259h0M295 552h0M298 255h0M299 553h0M303 551h0M306 250h0M308 249h0M310 251h0M314 248h0M317 247h0M317 250h0M317 253h0M321 249h0M322 250h0M322 252h0M326 249h0M329 249h0M330 250h0M335 249h0M336 249h0M336 559h0M338 245h0M339 247h0M339 560h0M340 248h0M342 244h0M345 243h0M347 244h0M348 245h0M350 556h0M350 557h0M351 243h0M351 244h0M352 558h0M353 245h0M355 246h0M355 247h0M355 250h0M355 251h0M355 557h0M356 250h0M356 252h0M356 558h0M357 558h0M361 245h0M361 250h0M361 559h0M362 245h0M363 248h0M363 558h0M364 247h0M366 248h0M369 251h0M369 557h0M372 249h0M375 246h0M378 247h0M378 251h0M378 553h0M379 556h0M383 250h0M385 253h0M386 250h0M386 554h0M387 255h0M388 254h0M391 252h0M391 550h0M393 256h0M396 256h0M399 549h0M401 260h0M407 262h0M409 542h0M411 260h0M413 259h0M414 542h0M414 544h0M416 542h0M417 539h0M418 270h0M419 264h0M420 264h0M421 265h0M421 267h0M421 270h0M421 271h0M423 267h0M423 536h0M426 267h0M426 271h0M426 537h0M432 274h0M433 529h0M434 273h0M438 275h0M440 527h0M442 280h0M442 281h0M443 279h0M445 280h0M447 520h0M451 289h0M452 293h0M455 295h0M461 297h0M461 302h0M462 301h0M462 507h0M465 306h0M466 500h0M467 502h0M468 309h0M468 499h0M469 310h0M471 315h0M472 311h0M478 316h0M479 487h0M483 476h0M484 327h0M484 472h0M485 468h0M485 472h0M486 340h0M487 469h0M488 464h0M488 467h0M488 468h0M489 349h0M490 461h0M490 466h0M491 345h0M493 448h0M493 450h0M494 447h0M495 366h0M495 449h0M496 361h0M496 362h0M496 364h0M497 361h0M497 371h0M497 435h0M497 440h0M498 371h0M498 433h0M499 440h0M500 407h0M500 423h0M500 431h0M501 375h0M501 399h0M501 407h0M502 386h0" stroke="#214ccc"/>
<path d="M189 401h0M189 412h0M189 414h0M190 404h0M190 405h0M191 406h0M191 411h0M191 422h0M192 379h0M192 385h0M192 412h0M193 375h0M193 384h0M193 411h0M193 415h0M194 364h0M194 395h0M194 407h0M194 410h0M194 429h0M196 363h0M196 431h0M196 442h0M197 356h0M197 359h0M197 362h0M197 436h0M198 361h0M198 445h0M199 442h0M199 450h0M199 456h0M199 457h0M200 354h0M202 345h0M203 345h0M204 342h0M204 467h0M206 349h0M208 338h0M210 333h0M211 329h0M211 479h0M212 325h0M213 323h0M213 480h0M213 481h0M214 328h0M215 323h0M215 324h0M216 323h0M216 329h0M217 328h0M219 487h0M219 492h0M220 324h0M221 319h0M222 310h0M222 321h0M222 322h0M222 494h0M224 313h0M225 311h0M225 318h0M225 495h0M226 316h0M227 499h0M231 309h0M232 303h0M232 506h0M234 301h0M234 507h0M235 510h0M238 293h0M239 302h0M239 511h0M240 299h0M245 295h0M246 295h0M246 517h0M248 289h0M248 292h0M250 289h0M251 288h0M252 283h0M253 286h0M253 289h0M254 287h0M265 532h0M266 534h0M267 278h0M270 535h0M273 269h0M275 268h0M275 537h0M276 537h0M278 272h0M278 540h0M279 537h0M281 268h0M282 270h0M283 266h0M283 271h0M285 271h0M289 264h0M289 542h0M289 544h0M290 544h0M293 547h0M296 262h0M296 547h0M298 547h0M300 545h0M302 259h0M303 546h0M304 260h0M304 261h0M304 263h0M308 262h0M308 263h0M309 264h0M312 258h0M315 254h0M315 550h0M316 550h0M317 552h0M320 549h0M321 550h0M322 551h0M323 255h0M323 256h0M323 554h0M328 551h0M329 260h0M334 554h0M336 257h0M336 260h0M338 252h0M341 255h0M341 555h0M342 554h0M346 553h0M348 555h0M349 259h0M349 555h0M352 258h0M353 259h0M356 258h0M358 256h0M360 257h0M361 259h0M362 257h0M369 257h0M369 550h0M370 256h0M370 258h0M370 552h0M371 260h0M371 261h0M372 552h0M376 259h0M376 261h0M379 263h0M379 548h0M381 548h0M382 547h0M383 259h0M383 264h0M383 548h0M384 548h0M385 262h0M385 264h0M385 549h0M386 547h0M386 549h0M387 259h0M387 265h0M389 266h0M389 547h0M391 265h0M393 260h0M396 268h0M397 268h0M397 269h0M400 266h0M403 543h0M404 264h0M404 270h0M407 266h0M408 539h0M410 272h0M410 538h0M415 274h0M416 537h0M418 273h0M421 275h0M422 275h0M422 531h0M423 277h0M425 278h0M425 281h0M427 280h0M427 281h0M430 283h0M435 522h0M440 289h0M443 289h0M443 290h0M448 512h0M449 292h0M449 512h0M450 293h0M451 512h0M453 512h0M457 305h0M457 503h0M459 504h0M460 305h0M461 308h0M463 307h0M464 307h0M464 309h0M464 315h0M464 316h0M464 499h0M466 497h0M468 490h0M469 317h0M469 319h0M470 322h0M470 325h0M471 325h0M471 488h0M472 321h0M473 320h0M474 323h0M474 329h0M476 484h0M477 329h0M479 331h0M479 336h0M480 470h0M481 473h0M482 341h0M482 343h0M482 471h0M484 463h0M485 348h0M489 365h0M490 445h0M490 455h0M491 360h0M491 370h0M492 371h0M492 434h0M492 443h0M493 433h0M493 436h0M494 372h0M494 385h0M494 430h0M494 432h0M495 411h0M495 414h0M495 418h0M495 426h0M496 402h0M496 404h0M496 406h0M496 424h0M496 431h0M496 435h0M497 399h0M497 408h0M497 412h0M497 425h0M498 385h0M498 407h0M498 418h0" stroke="#1a5ad4"/>
<path d="M196 392h0M197 434h0M200 436h0M200 442h0M201 446h0M202 444h0M203 455h0M204 357h0M206 458h0M208 349h0M209 466h0M209 468h0M210 468h0M212 341h0M212 474h0M215 335h0M217 334h0M218 480h0M223 325h0M224 491h0M228 318h0M237 306h0M240 509h0M243 304h0M244 302h0M246 299h0M246 514h0M248 297h0M249 294h0M253 291h0M255 520h0M258 289h0M259 288h0M259 290h0M261 289h0M263 285h0M263 287h0M265 283h0M266 282h0M268 285h0M269 529h0M270 283h0M274 281h0M276 535h0M279 276h0M279 278h0M283 537h0M284 538h0M288 274h0M302 266h0M306 269h0M314 265h0M317 263h0M322 262h0M325 262h0M327 549h0M333 263h0M337 264h0M339 261h0M339 550h0M341 262h0M341 551h0M349 262h0M349 551h0M354 263h0M355 261h0M355 262h0M357 262h0M369 547h0M371 263h0M378 267h0M380 267h0M382 545h0M384 266h0M389 543h0M394 269h0M398 271h0M399 272h0M401 540h0M402 271h0M405 273h0M405 538h0M406 275h0M408 537h0M413 277h0M415 534h0M419 531h0M421 281h0M423 285h0M427 525h0M428 525h0M432 523h0M441 295h0M444 301h0M451 307h0M452 506h0M453 306h0M454 308h0M456 308h0M460 498h0M461 315h0M462 316h0M464 493h0M472 329h0M474 336h0M475 336h0M475 475h0M476 335h0M480 466h0M482 349h0M482 460h0M483 460h0M485 355h0M488 443h0M489 368h0M491 378h0M493 416h0M493 417h0M493 418h0M494 391h0M494 396h0M494 412h0M495 409h0M495 415h0" stroke="#126add"/>
</g>
<ellipse cx="903" cy="1182.4" rx="74.8" ry="72.1" fill="#0f77db"/>
<ellipse cx="903.3" cy="1183.3" rx="72.8" ry="69.6" fill="#1481d5"/>
<ellipse cx="903.5" cy="1184.2" rx="70.8" ry="67.2" fill="#1487d3"/>
<ellipse cx="903.8" cy="1185" rx="68.9" ry="64.8" fill="#118dd2"/>
<ellipse cx="904.1" cy="1185.9" rx="66.9" ry="62.4" fill="#0c94d2"/>
<ellipse cx="904.6" cy="1187.1" rx="65" ry="59.8" fill="#089ad0" transform="rotate(-2.6 904.6 1187.1)"/>
<ellipse cx="905.2" cy="1188.3" rx="63.1" ry="57.1" fill="#069fce" transform="rotate(-6.5 905.2 1188.3)"/>
<ellipse cx="905.8" cy="1189.5" rx="61.3" ry="54.5" fill="#06a4ca" transform="rotate(-10.5 905.8 1189.5)"/>
<ellipse cx="906.4" cy="1190.8" rx="59.4" ry="51.8" fill="#06a7c5" transform="rotate(-14.5 906.4 1190.8)"/>
<ellipse cx="907" cy="1192" rx="57.6" ry="49.2" fill="#09abbf" transform="rotate(-18.5 907 1192)"/>
<ellipse cx="907.7" cy="1193.3" rx="55.7" ry="46.5" fill="#0eaeba" transform="rotate(-22.5 907.7 1193.3)"/>
<ellipse cx="908.1" cy="1194.2" rx="54.2" ry="44.3" fill="#17b1b3" transform="rotate(-25.1 908.1 1194.2)"/>
<ellipse cx="908.4" cy="1194.6" rx="53.3" ry="42.8" fill="#21b4ac" transform="rotate(-25.5 908.4 1194.6)"/>
<ellipse cx="908.6" cy="1195" rx="52.3" ry="41.4" fill="#2cb7a5" transform="rotate(-25.9 908.6 1195)"/>
<ellipse cx="908.9" cy="1195.4" rx="51.4" ry="39.9" fill="#39b99d" transform="rotate(-26.3 908.9 1195.4)"/>
<ellipse cx="909.1" cy="1195.8" rx="50.5" ry="38.4" fill="#46bb95" transform="rotate(-26.7 909.1 1195.8)"/>
<ellipse cx="909.4" cy="1196.2" rx="49.5" ry="37" fill="#55bd8d" transform="rotate(-27.1 909.4 1196.2)"/>
<ellipse cx="909.6" cy="1196.6" rx="48.6" ry="35.5" fill="#65be86" transform="rotate(-27.5 909.6 1196.6)"/>
<ellipse cx="909.9" cy="1197" rx="47.7" ry="34.1" fill="#74bf7f" transform="rotate(-27.9 909.9 1197)"/>
<ellipse cx="910.1" cy="1197.4" rx="46.8" ry="32.6" fill="#83bf79" transform="rotate(-28.3 910.1 1197.4)"/>
<ellipse cx="910.4" cy="1197.8" rx="45.8" ry="31.2" fill="#91bf73" transform="rotate(-28.7 910.4 1197.8)"/>
<ellipse cx="910.6" cy="1198.2" rx="44.9" ry="29.7" fill="#9ebe6e" transform="rotate(-29.1 910.6 1198.2)"/>
<ellipse cx="910.9" cy="1198.6" rx="44" ry="28.3" fill="#aabe69" transform="rotate(-29.5 910.9 1198.6)"/>
<ellipse cx="911.1" cy="1199" rx="43" ry="26.8" fill="#b6bd64" transform="rotate(-29.9 911.1 1199)"/>
<ellipse cx="911.2" cy="1199.3" rx="41.2" ry="25.5" fill="#c1bc60" transform="rotate(-30 911.2 1199.3)"/>
<ellipse cx="911.3" cy="1199.5" rx="39.1" ry="24.2" fill="#ccbb5b" transform="rotate(-30 911.3 1199.5)"/>
<ellipse cx="911.3" cy="1199.7" rx="37" ry="22.9" fill="#d7ba57" transform="rotate(-30 911.3 1199.7)"/>
<ellipse cx="911.4" cy="1199.9" rx="34.9" ry="21.6" fill="#e1b952" transform="rotate(-30 911.4 1199.9)"/>
<ellipse cx="911.5" cy="1200.2" rx="32.8" ry="20.3" fill="#ecb94d" transform="rotate(-30 911.5 1200.2)"/>
<ellipse cx="911.5" cy="1200.4" rx="30.7" ry="19" fill="#f6ba46" transform="rotate(-30 911.5 1200.4)"/>
<ellipse cx="911.6" cy="1200.6" rx="28.6" ry="17.7" fill="#fdbe3e" transform="rotate(-30 911.6 1200.6)"/>
<ellipse cx="911.6" cy="1200.8" rx="26.4" ry="16.4" fill="#ffc436" transform="rotate(-30 911.6 1200.8)"/>
<ellipse cx="911.7" cy="1201" rx="24.3" ry="15.1" fill="#fdcb30" transform="rotate(-30 911.7 1201)"/>
<ellipse cx="911.8" cy="1201.2" rx="22.2" ry="13.8" fill="#fad22a" transform="rotate(-30 911.8 1201.2)"/>
<ellipse cx="911.8" cy="1201.5" rx="20.1" ry="12.5" fill="#f7d925" transform="rotate(-30 911.8 1201.5)"/>
<ellipse cx="911.9" cy="1201.7" rx="18" ry="11.2" fill="#f5e11f" transform="rotate(-30 911.9 1201.7)"/>
<ellipse cx="911.9" cy="1201.8" rx="14.6" ry="9" fill="#f5e919" transform="rotate(-30 911.9 1201.8)"/>
<ellipse cx="911.9" cy="1201.8" rx="6.1" ry="3.8" fill="#f6f313" transform="rotate(-30 911.9 1201.8)"/>
<g transform="translate(730.5 979.0) scale(0.5)" fill="none" stroke="#fff" stroke-linecap="round">
<path d="M195 407h0M202 445h0M208 416h0M231 329h0M303 306h0M365 295h0M383 288h0M438 319h0M485 374h0M485 390h0" stroke-width="3"/>
<path d="M196 428h0M217 343h0M258 524h0M281 292h0M340 300h0M364 268h0M480 427h0" stroke-width="5"/>
<path d="M225 483h0M465 486h0M470 349h0" stroke-width="7"/>
</g>
<path d="M812.4 979.0v11M812.4 1304.7v-11M894.4 979.0v11M894.4 1304.7v-11M976.3 979.0v11M976.3 1304.7v-11M730.5 1060.4h11M1058.2 1060.4h-11M730.5 1141.8h11M1058.2 1141.8h-11M730.5 1223.3h11M1058.2 1223.3h-11" stroke="#3c3c3c" stroke-width="1.7" fill="none"/>
<path d="M894.4 979.0V1304.7M730.5 1141.8H1058.2" stroke="#2b8cc6" stroke-width="1.1" fill="none"/>
<path d="M894.4 979.0V1304.7M730.5 1141.8H1058.2" stroke="#2b8cc6" stroke-width="1.1" fill="none" opacity="0.45" style="mix-blend-mode:multiply"/>
<rect x="730.5" y="979.0" width="327.7" height="325.7" fill="none" stroke="#3c3c3c" stroke-width="1.7"/>
</g>
<g>
<g transform="translate(1073.5 979.0) scale(0.5)" fill="none" stroke-width="9.3" stroke-linecap="round">
<path d="M10 299h0M83 626h0M103 599h0M113 340h0M144 364h0M144 383h0M153 552h0M163 257h0M163 452h0M165 440h0M167 392h0M168 396h0M169 504h0M170 423h0M171 409h0M171 415h0M172 357h0M172 387h0M172 455h0M173 426h0M174 399h0M176 441h0M177 449h0M178 475h0M178 477h0M179 345h0M179 357h0M180 498h0M181 239h0M185 334h0M186 274h0M191 623h0M192 513h0M193 520h0M197 262h0M197 300h0M197 552h0M198 518h0M202 294h0M204 257h0M205 276h0M206 286h0M209 567h0M210 275h0M217 240h0M225 580h0M226 255h0M226 584h0M228 251h0M229 218h0M232 642h0M235 191h0M240 239h0M242 590h0M245 193h0M251 589h0M255 615h0M265 221h0M273 613h0M281 208h0M282 187h0M282 206h0M283 628h0M293 98h0M297 28h0M297 205h0M298 206h0M302 644h0M303 139h0M305 148h0M308 175h0M310 202h0M311 634h0M312 185h0M314 153h0M320 202h0M321 172h0M323 181h0M325 147h0M325 619h0M328 203h0M339 627h0M340 627h0M342 200h0M344 189h0M344 194h0M345 194h0M347 620h0M348 619h0M348 620h0M348 624h0M348 635h0M354 156h0M356 166h0M370 110h0M382 203h0M385 614h0M386 632h0M389 615h0M391 190h0M398 608h0M398 617h0M401 191h0M401 218h0M410 598h0M411 205h0M411 612h0M419 227h0M419 591h0M420 228h0M432 149h0M436 579h0M441 240h0M446 215h0M460 552h0M463 199h0M467 269h0M471 280h0M475 581h0M476 295h0M479 309h0M479 508h0M481 291h0M483 498h0M484 533h0M485 312h0M491 347h0M495 367h0M497 348h0M497 361h0M497 453h0M497 486h0M498 290h0M502 469h0M506 404h0M509 416h0M510 398h0M513 469h0M522 379h0M522 488h0M539 171h0M549 471h0M564 190h0M640 297h0" stroke="#34289c"/>
<path d="M175 417h0M176 400h0M178 387h0M179 385h0M179 394h0M180 414h0M180 451h0M181 369h0M181 444h0M188 350h0M192 495h0M194 316h0M195 512h0M197 507h0M202 516h0M203 524h0M231 564h0M243 578h0M246 240h0M274 598h0M277 228h0M280 217h0M288 217h0M298 215h0M301 610h0M318 615h0M329 208h0M332 617h0M340 209h0M342 206h0M351 617h0M363 215h0M376 217h0M390 605h0M407 594h0M414 590h0M415 239h0M417 234h0M430 252h0M430 578h0M433 577h0M435 569h0M438 259h0M446 561h0M450 271h0M453 552h0M454 551h0M454 553h0M456 274h0M468 292h0M480 499h0M491 370h0M492 384h0M492 388h0M492 445h0M494 400h0M494 425h0M495 423h0M495 439h0M496 418h0M496 427h0" stroke="#33299f"/>
<path d="M181 427h0M182 421h0M182 442h0M183 421h0M184 402h0M185 408h0M186 367h0M186 408h0M186 426h0M186 433h0M187 355h0M187 447h0M188 387h0M188 452h0M189 472h0M191 480h0M193 333h0M193 484h0M195 493h0M210 526h0M216 300h0M220 280h0M220 541h0M221 546h0M222 282h0M226 273h0M236 265h0M238 269h0M238 270h0M245 255h0M251 256h0M252 249h0M253 253h0M254 581h0M264 246h0M273 232h0M274 236h0M277 232h0M279 596h0M282 226h0M288 600h0M292 231h0M293 604h0M295 224h0M297 603h0M300 605h0M301 605h0M305 607h0M309 219h0M310 219h0M314 222h0M314 609h0M316 611h0M318 215h0M326 611h0M327 609h0M333 215h0M337 613h0M341 612h0M347 215h0M351 608h0M353 609h0M354 610h0M356 220h0M362 606h0M364 611h0M369 607h0M370 221h0M372 222h0M377 606h0M378 604h0M392 226h0M397 232h0M398 236h0M401 239h0M406 241h0M406 245h0M407 243h0M415 250h0M418 583h0M419 584h0M420 582h0M428 256h0M443 556h0M445 274h0M448 547h0M451 290h0M454 541h0M457 533h0M459 295h0M459 534h0M461 528h0M462 299h0M469 514h0M471 318h0M471 323h0M476 340h0M477 331h0M477 493h0M477 494h0M477 497h0M478 346h0M479 337h0M481 479h0M482 351h0M482 481h0M484 471h0M485 355h0M486 355h0M488 371h0M488 423h0M492 395h0M492 406h0" stroke="#312ba5"/>
<path d="M188 442h0M189 402h0M189 407h0M192 374h0M192 403h0M192 447h0M192 469h0M193 455h0M194 387h0M196 349h0M196 368h0M197 366h0M197 485h0M200 356h0M200 358h0M201 341h0M202 489h0M202 493h0M203 345h0M204 339h0M205 500h0M208 328h0M208 515h0M211 324h0M218 312h0M221 295h0M221 303h0M221 305h0M222 299h0M225 300h0M225 541h0M227 296h0M229 292h0M231 548h0M236 555h0M243 276h0M244 267h0M246 266h0M249 269h0M250 569h0M254 256h0M258 257h0M259 575h0M264 254h0M267 586h0M269 245h0M272 251h0M275 588h0M276 591h0M284 593h0M285 237h0M288 238h0M288 597h0M296 598h0M297 599h0M298 240h0M302 231h0M305 232h0M306 235h0M309 227h0M309 600h0M313 234h0M316 232h0M317 226h0M317 232h0M318 234h0M319 228h0M321 607h0M326 227h0M327 230h0M335 232h0M337 233h0M346 604h0M351 230h0M353 226h0M366 235h0M371 237h0M375 600h0M376 238h0M376 599h0M376 602h0M379 236h0M380 597h0M384 237h0M387 237h0M389 239h0M393 244h0M394 240h0M397 249h0M397 589h0M398 250h0M406 586h0M407 252h0M408 254h0M411 582h0M412 583h0M413 579h0M417 256h0M417 576h0M428 569h0M431 560h0M432 561h0M433 273h0M434 273h0M436 278h0M437 282h0M438 273h0M438 557h0M442 287h0M446 294h0M446 546h0M447 547h0M449 299h0M451 293h0M451 538h0M451 540h0M452 294h0M452 298h0M460 305h0M464 511h0M464 513h0M465 517h0M468 331h0M469 327h0M471 338h0M472 335h0M472 340h0M473 347h0M476 481h0M479 356h0M479 475h0M480 355h0M480 380h0M480 469h0M481 375h0M483 430h0M483 435h0M486 393h0" stroke="#2e31af"/>
<path d="M193 402h0M193 428h0M194 413h0M194 423h0M194 433h0M195 425h0M195 432h0M196 382h0M196 385h0M196 403h0M196 421h0M196 444h0M197 440h0M198 384h0M198 440h0M198 446h0M198 468h0M199 363h0M199 386h0M199 450h0M199 462h0M200 362h0M201 377h0M202 368h0M202 478h0M203 358h0M203 361h0M203 363h0M203 367h0M203 475h0M204 358h0M204 479h0M205 344h0M205 361h0M207 338h0M207 344h0M207 347h0M210 340h0M212 330h0M214 328h0M214 336h0M215 329h0M215 333h0M215 335h0M218 324h0M218 523h0M219 326h0M220 523h0M223 315h0M223 317h0M225 303h0M225 305h0M225 309h0M225 528h0M226 304h0M226 313h0M226 529h0M227 311h0M228 307h0M230 541h0M231 540h0M233 300h0M233 541h0M235 293h0M240 282h0M241 553h0M242 282h0M243 285h0M247 280h0M248 562h0M251 562h0M251 563h0M253 568h0M258 572h0M260 262h0M263 264h0M264 266h0M265 573h0M268 257h0M268 258h0M270 255h0M270 261h0M271 254h0M274 260h0M275 257h0M278 260h0M280 586h0M281 254h0M290 249h0M295 592h0M297 595h0M301 241h0M303 598h0M305 598h0M306 595h0M308 241h0M308 247h0M314 244h0M316 598h0M318 597h0M321 239h0M322 243h0M323 598h0M323 602h0M327 244h0M329 603h0M330 236h0M330 238h0M331 601h0M332 239h0M339 236h0M339 238h0M339 603h0M340 599h0M343 602h0M345 236h0M347 243h0M347 598h0M351 601h0M352 239h0M353 245h0M357 238h0M357 243h0M362 246h0M363 239h0M363 600h0M364 599h0M366 595h0M366 600h0M368 239h0M371 248h0M373 247h0M374 247h0M376 244h0M378 245h0M381 250h0M382 249h0M382 252h0M383 248h0M383 251h0M384 589h0M386 591h0M388 246h0M390 253h0M390 588h0M391 587h0M393 254h0M396 583h0M397 250h0M398 254h0M403 260h0M403 263h0M407 580h0M408 259h0M412 260h0M413 267h0M415 263h0M417 268h0M419 270h0M419 566h0M420 267h0M420 274h0M420 569h0M421 570h0M424 271h0M429 557h0M432 281h0M434 556h0M436 552h0M439 288h0M440 288h0M449 302h0M449 303h0M449 305h0M449 307h0M451 305h0M451 529h0M453 526h0M455 527h0M456 526h0M457 325h0M457 518h0M459 518h0M460 323h0M460 327h0M460 517h0M461 326h0M464 341h0M466 499h0M467 342h0M467 349h0M469 350h0M472 354h0M472 360h0M473 371h0M473 473h0M475 378h0M475 477h0M477 378h0M477 458h0M478 443h0M478 448h0M478 454h0M478 457h0M478 464h0M479 416h0M479 431h0M479 442h0M479 444h0M480 451h0M481 395h0M481 405h0M481 408h0M481 449h0M482 408h0M483 427h0" stroke="#2c37b9"/>
<path d="M198 404h0M198 423h0M198 425h0M198 427h0M199 438h0M200 390h0M200 442h0M200 443h0M200 445h0M201 401h0M201 403h0M201 420h0M201 426h0M202 401h0M202 421h0M202 444h0M203 388h0M203 467h0M205 365h0M205 381h0M205 456h0M205 464h0M206 371h0M206 376h0M206 461h0M206 473h0M207 471h0M208 360h0M208 377h0M208 489h0M209 372h0M209 477h0M209 484h0M210 350h0M210 362h0M211 488h0M211 493h0M212 345h0M213 342h0M213 345h0M216 501h0M217 331h0M217 349h0M218 331h0M220 325h0M221 329h0M221 516h0M222 334h0M222 513h0M223 321h0M223 322h0M223 328h0M224 327h0M224 330h0M226 327h0M228 313h0M229 323h0M229 528h0M230 309h0M230 533h0M233 304h0M233 539h0M234 303h0M234 533h0M235 540h0M236 302h0M236 309h0M237 310h0M237 543h0M240 304h0M240 306h0M240 546h0M241 543h0M242 297h0M244 294h0M244 299h0M246 291h0M247 294h0M249 291h0M250 294h0M252 287h0M255 282h0M258 567h0M259 281h0M260 279h0M262 569h0M265 273h0M265 572h0M267 270h0M269 273h0M269 571h0M276 579h0M278 263h0M279 265h0M279 577h0M284 267h0M286 584h0M287 266h0M288 265h0M288 586h0M291 259h0M292 584h0M293 586h0M297 588h0M298 257h0M301 258h0M304 250h0M304 258h0M304 591h0M305 591h0M306 254h0M307 592h0M308 594h0M315 251h0M318 255h0M318 592h0M324 252h0M324 597h0M325 596h0M335 246h0M335 251h0M339 253h0M341 598h0M342 251h0M344 253h0M345 246h0M346 250h0M351 248h0M351 250h0M352 596h0M354 596h0M355 596h0M357 597h0M358 597h0M359 250h0M359 252h0M362 257h0M365 256h0M365 591h0M365 593h0M368 250h0M369 594h0M370 589h0M373 258h0M374 251h0M376 260h0M379 257h0M379 261h0M386 257h0M388 584h0M390 262h0M391 266h0M392 268h0M393 582h0M394 267h0M396 578h0M399 270h0M400 264h0M400 265h0M404 575h0M408 572h0M411 274h0M412 281h0M417 563h0M421 562h0M421 564h0M425 293h0M426 558h0M429 552h0M430 297h0M434 299h0M434 551h0M435 295h0M435 545h0M438 545h0M438 546h0M439 539h0M439 543h0M440 306h0M440 541h0M440 543h0M441 307h0M444 305h0M444 534h0M447 312h0M447 318h0M448 324h0M450 325h0M452 321h0M453 516h0M454 514h0M455 333h0M455 513h0M456 330h0M456 514h0M456 515h0M456 516h0M457 340h0M458 513h0M460 339h0M460 345h0M461 339h0M461 506h0M462 340h0M462 350h0M464 496h0M465 346h0M466 356h0M466 483h0M466 484h0M467 483h0M468 487h0M469 478h0M470 374h0M471 386h0M471 478h0M472 375h0M472 388h0M473 376h0M473 404h0M473 452h0M473 464h0M474 388h0M474 398h0M474 435h0M474 465h0M475 396h0M475 420h0M476 407h0M476 435h0M477 403h0M477 408h0M478 435h0" stroke="#2741c2"/>
<path d="M204 409h0M204 413h0M204 416h0M204 422h0M204 435h0M204 450h0M205 422h0M205 428h0M206 394h0M206 399h0M206 429h0M206 441h0M206 455h0M208 376h0M208 386h0M208 391h0M208 401h0M208 416h0M208 464h0M209 392h0M209 409h0M209 450h0M209 468h0M211 375h0M211 381h0M211 468h0M211 476h0M212 364h0M213 360h0M214 361h0M214 362h0M214 482h0M214 487h0M215 482h0M215 485h0M216 372h0M216 494h0M216 495h0M217 499h0M218 350h0M218 359h0M218 493h0M220 350h0M220 352h0M220 355h0M220 496h0M221 350h0M221 497h0M222 338h0M222 343h0M223 336h0M224 337h0M226 514h0M230 333h0M230 523h0M231 326h0M231 332h0M234 319h0M234 526h0M235 525h0M236 316h0M237 315h0M238 318h0M238 532h0M238 537h0M239 321h0M239 532h0M240 318h0M241 313h0M241 315h0M243 316h0M244 540h0M244 545h0M245 546h0M246 303h0M248 548h0M249 309h0M249 550h0M251 298h0M251 305h0M253 550h0M257 298h0M258 555h0M260 290h0M260 294h0M261 290h0M261 557h0M263 289h0M268 279h0M269 283h0M270 565h0M270 566h0M271 567h0M271 570h0M273 277h0M275 277h0M275 285h0M276 279h0M277 276h0M277 282h0M279 273h0M281 273h0M281 279h0M284 270h0M284 271h0M284 577h0M285 272h0M286 273h0M287 270h0M287 273h0M287 577h0M288 268h0M289 578h0M290 268h0M291 269h0M292 267h0M292 272h0M292 582h0M293 271h0M296 580h0M300 268h0M301 270h0M303 270h0M303 583h0M304 265h0M304 585h0M305 261h0M306 585h0M306 588h0M307 263h0M308 259h0M309 259h0M309 586h0M310 260h0M310 261h0M311 263h0M311 268h0M311 587h0M312 588h0M314 590h0M316 587h0M318 591h0M319 261h0M319 265h0M319 589h0M320 259h0M320 589h0M321 260h0M323 262h0M323 588h0M324 265h0M325 259h0M326 259h0M326 260h0M329 591h0M330 590h0M331 259h0M333 590h0M335 592h0M337 589h0M339 257h0M339 263h0M344 255h0M344 259h0M344 263h0M346 258h0M346 588h0M347 591h0M348 591h0M349 258h0M351 588h0M352 263h0M353 257h0M353 258h0M354 589h0M355 257h0M355 259h0M356 589h0M358 587h0M359 261h0M359 587h0M359 589h0M360 258h0M361 589h0M363 267h0M364 588h0M367 263h0M367 588h0M368 589h0M369 260h0M371 263h0M371 585h0M373 583h0M376 266h0M377 262h0M378 270h0M378 585h0M379 266h0M379 271h0M379 582h0M381 268h0M382 581h0M385 582h0M389 276h0M389 579h0M391 270h0M392 574h0M392 576h0M397 271h0M397 275h0M398 274h0M398 572h0M400 277h0M401 278h0M401 572h0M402 274h0M406 283h0M406 284h0M406 285h0M408 285h0M409 283h0M409 563h0M409 564h0M412 284h0M413 283h0M413 285h0M416 561h0M418 294h0M424 296h0M425 296h0M426 302h0M426 552h0M426 553h0M427 296h0M429 309h0M432 311h0M433 542h0M434 312h0M436 306h0M436 318h0M436 540h0M437 536h0M437 538h0M438 320h0M438 538h0M439 532h0M441 527h0M443 524h0M444 529h0M445 321h0M447 331h0M449 339h0M449 517h0M451 343h0M451 512h0M454 512h0M456 341h0M456 344h0M457 344h0M457 503h0M458 349h0M458 504h0M459 348h0M459 359h0M459 490h0M460 493h0M460 498h0M462 372h0M463 477h0M464 367h0M464 471h0M466 476h0M467 390h0M467 461h0M467 467h0M468 384h0M468 396h0M468 397h0M468 398h0M468 457h0M469 394h0M470 412h0M470 418h0M470 451h0M470 456h0M471 406h0M471 418h0M471 423h0M471 455h0M471 457h0M472 396h0M472 411h0M472 412h0M472 415h0M472 441h0M473 421h0M473 445h0M474 430h0" stroke="#214ccc"/>
<path d="M209 412h0M209 425h0M209 428h0M210 406h0M210 414h0M210 428h0M210 431h0M210 434h0M211 406h0M212 420h0M213 400h0M213 412h0M213 441h0M213 462h0M213 467h0M214 412h0M215 454h0M215 478h0M216 386h0M216 481h0M217 371h0M217 383h0M217 394h0M218 383h0M219 369h0M219 372h0M219 377h0M220 363h0M220 364h0M220 375h0M220 481h0M220 491h0M221 377h0M221 487h0M221 489h0M222 489h0M222 497h0M223 366h0M224 352h0M224 359h0M226 495h0M226 501h0M228 353h0M228 355h0M229 507h0M230 350h0M230 511h0M231 336h0M231 344h0M231 509h0M231 515h0M231 517h0M233 336h0M235 342h0M235 515h0M235 518h0M235 520h0M236 339h0M236 518h0M237 330h0M237 332h0M238 529h0M240 326h0M240 329h0M241 530h0M242 322h0M242 330h0M242 528h0M243 323h0M244 325h0M244 327h0M244 537h0M245 315h0M245 318h0M245 319h0M246 321h0M246 535h0M246 537h0M247 311h0M247 324h0M247 535h0M247 539h0M247 542h0M248 316h0M249 313h0M250 319h0M253 310h0M255 305h0M255 549h0M257 300h0M257 549h0M258 302h0M258 306h0M258 310h0M259 308h0M259 552h0M260 305h0M260 550h0M260 552h0M261 299h0M261 302h0M262 299h0M262 306h0M264 304h0M264 558h0M268 559h0M269 299h0M269 558h0M272 564h0M273 297h0M273 560h0M273 565h0M275 285h0M275 566h0M277 287h0M279 284h0M279 287h0M281 566h0M281 571h0M284 282h0M286 289h0M287 285h0M290 278h0M290 287h0M291 278h0M292 577h0M294 282h0M294 283h0M298 275h0M299 276h0M300 281h0M301 272h0M304 276h0M307 580h0M309 270h0M309 271h0M309 276h0M310 268h0M310 581h0M311 582h0M312 274h0M313 270h0M314 273h0M314 580h0M317 270h0M318 274h0M318 584h0M319 269h0M319 270h0M320 275h0M322 267h0M323 583h0M327 273h0M329 269h0M329 271h0M330 267h0M333 269h0M333 270h0M333 585h0M337 586h0M338 585h0M342 266h0M342 269h0M343 271h0M346 272h0M347 585h0M350 275h0M350 587h0M351 265h0M352 266h0M352 271h0M352 584h0M354 272h0M354 275h0M355 267h0M355 275h0M357 268h0M359 268h0M360 274h0M361 267h0M361 269h0M362 585h0M363 269h0M364 585h0M366 278h0M367 271h0M367 274h0M369 582h0M370 275h0M373 581h0M374 278h0M377 577h0M380 273h0M380 578h0M381 275h0M385 576h0M387 281h0M390 574h0M391 278h0M392 574h0M393 279h0M396 283h0M399 286h0M402 287h0M402 566h0M404 290h0M404 291h0M407 561h0M408 293h0M408 297h0M409 295h0M409 563h0M412 294h0M415 303h0M417 553h0M419 302h0M420 550h0M422 308h0M423 306h0M423 311h0M424 308h0M424 548h0M425 310h0M425 313h0M430 312h0M430 323h0M430 541h0M431 317h0M431 323h0M431 537h0M432 320h0M432 539h0M436 527h0M437 532h0M439 327h0M439 329h0M439 525h0M441 328h0M441 333h0M442 520h0M444 336h0M449 343h0M450 342h0M450 350h0M450 503h0M450 508h0M451 346h0M451 507h0M452 508h0M453 358h0M453 502h0M454 497h0M455 358h0M456 369h0M458 368h0M460 370h0M460 475h0M460 483h0M460 486h0M461 480h0M462 466h0M462 468h0M463 379h0M463 383h0M463 462h0M464 395h0M464 470h0M465 389h0M465 402h0M466 400h0M466 425h0M466 453h0M467 452h0M468 409h0M468 429h0M468 442h0M468 446h0M469 422h0" stroke="#1a5ad4"/>
<path d="M214 418h0M216 413h0M216 452h0M218 463h0M219 473h0M220 390h0M221 380h0M221 473h0M221 474h0M221 477h0M221 479h0M222 384h0M223 484h0M228 357h0M228 365h0M232 351h0M233 506h0M234 347h0M238 342h0M238 517h0M240 337h0M243 335h0M243 336h0M245 330h0M245 331h0M247 530h0M249 325h0M251 321h0M252 539h0M253 539h0M254 317h0M255 320h0M260 311h0M267 306h0M267 553h0M267 554h0M269 554h0M269 555h0M279 294h0M279 562h0M280 295h0M281 293h0M281 564h0M282 292h0M286 567h0M288 291h0M289 569h0M290 289h0M294 571h0M300 285h0M302 283h0M302 575h0M306 282h0M307 282h0M308 280h0M308 284h0M311 281h0M313 283h0M314 278h0M323 281h0M323 581h0M324 277h0M328 277h0M329 581h0M334 278h0M336 582h0M339 279h0M340 278h0M343 276h0M345 275h0M345 278h0M353 581h0M364 281h0M364 283h0M365 282h0M368 284h0M370 282h0M375 284h0M378 285h0M380 572h0M381 286h0M382 571h0M382 573h0M383 572h0M384 573h0M385 289h0M387 289h0M387 569h0M390 291h0M390 567h0M394 291h0M401 561h0M401 563h0M404 298h0M404 300h0M408 557h0M411 308h0M411 554h0M413 307h0M414 305h0M420 315h0M421 544h0M421 545h0M424 321h0M424 540h0M427 320h0M430 326h0M433 327h0M433 329h0M433 331h0M435 330h0M435 333h0M436 334h0M436 526h0M437 338h0M440 337h0M441 342h0M443 514h0M444 511h0M445 346h0M445 351h0M446 352h0M447 355h0M447 506h0M448 355h0M448 501h0M448 502h0M449 500h0M449 502h0M451 498h0M452 362h0M453 367h0M454 375h0M455 371h0M457 381h0M458 473h0M460 393h0M461 462h0M462 450h0M463 420h0M463 440h0M464 417h0M464 425h0" stroke="#126add"/>
</g>
<ellipse cx="1243.2" cy="1194" rx="62.3" ry="75.9" fill="#0f77db"/>
<ellipse cx="1243.7" cy="1194.5" rx="60.5" ry="72.8" fill="#1481d5"/>
<ellipse cx="1244.1" cy="1194.9" rx="58.7" ry="69.7" fill="#1487d3"/>
<ellipse cx="1244.6" cy="1195.4" rx="56.9" ry="66.6" fill="#118dd2"/>
<ellipse cx="1245" cy="1195.8" rx="55.2" ry="63.4" fill="#0c94d2"/>
<ellipse cx="1245.4" cy="1196.6" rx="53.1" ry="60.5" fill="#089ad0"/>
<ellipse cx="1245.7" cy="1197.5" rx="51" ry="57.7" fill="#069fce"/>
<ellipse cx="1246" cy="1198.5" rx="48.8" ry="54.9" fill="#06a4ca"/>
<ellipse cx="1246.3" cy="1199.4" rx="46.6" ry="52.1" fill="#06a7c5"/>
<ellipse cx="1246.6" cy="1200.3" rx="44.5" ry="49.4" fill="#09abbf"/>
<ellipse cx="1246.9" cy="1201.2" rx="42.3" ry="46.6" fill="#0eaeba"/>
<ellipse cx="1247.2" cy="1202" rx="40.4" ry="44.4" fill="#17b1b3" transform="rotate(0.7 1247.2 1202)"/>
<ellipse cx="1247.5" cy="1202.5" rx="38.9" ry="43.2" fill="#21b4ac" transform="rotate(2.7 1247.5 1202.5)"/>
<ellipse cx="1247.8" cy="1202.9" rx="37.5" ry="42.1" fill="#2cb7a5" transform="rotate(4.7 1247.8 1202.9)"/>
<ellipse cx="1248.1" cy="1203.4" rx="36" ry="40.9" fill="#39b99d" transform="rotate(6.7 1248.1 1203.4)"/>
<ellipse cx="1248.5" cy="1203.9" rx="34.5" ry="39.8" fill="#46bb95" transform="rotate(8.7 1248.5 1203.9)"/>
<ellipse cx="1248.8" cy="1204.3" rx="33.1" ry="38.6" fill="#55bd8d" transform="rotate(10.7 1248.8 1204.3)"/>
<ellipse cx="1249.1" cy="1204.8" rx="31.6" ry="37.5" fill="#65be86" transform="rotate(12.6 1249.1 1204.8)"/>
<ellipse cx="1249.4" cy="1205.3" rx="30.2" ry="36.4" fill="#74bf7f" transform="rotate(14.6 1249.4 1205.3)"/>
<ellipse cx="1249.7" cy="1205.7" rx="28.7" ry="35.2" fill="#83bf79" transform="rotate(16.6 1249.7 1205.7)"/>
<ellipse cx="1250" cy="1206.2" rx="27.3" ry="34.1" fill="#91bf73" transform="rotate(18.6 1250 1206.2)"/>
<ellipse cx="1250.3" cy="1206.7" rx="25.8" ry="32.9" fill="#9ebe6e" transform="rotate(20.6 1250.3 1206.7)"/>
<ellipse cx="1250.6" cy="1207.1" rx="24.4" ry="31.8" fill="#aabe69" transform="rotate(22.6 1250.6 1207.1)"/>
<ellipse cx="1250.9" cy="1207.6" rx="22.9" ry="30.6" fill="#b6bd64" transform="rotate(24.6 1250.9 1207.6)"/>
<ellipse cx="1250.9" cy="1207.7" rx="21.8" ry="29.3" fill="#c1bc60" transform="rotate(25 1250.9 1207.7)"/>
<ellipse cx="1250.7" cy="1207.7" rx="20.8" ry="28" fill="#ccbb5b" transform="rotate(25 1250.7 1207.7)"/>
<ellipse cx="1250.6" cy="1207.7" rx="19.7" ry="26.7" fill="#d7ba57" transform="rotate(25 1250.6 1207.7)"/>
<ellipse cx="1250.4" cy="1207.7" rx="18.7" ry="25.3" fill="#e1b952" transform="rotate(25 1250.4 1207.7)"/>
<ellipse cx="1250.3" cy="1207.7" rx="17.7" ry="24" fill="#ecb94d" transform="rotate(25 1250.3 1207.7)"/>
<ellipse cx="1250.1" cy="1207.7" rx="16.7" ry="22.7" fill="#f6ba46" transform="rotate(25 1250.1 1207.7)"/>
<ellipse cx="1249.9" cy="1207.7" rx="15.7" ry="21.3" fill="#fdbe3e" transform="rotate(25 1249.9 1207.7)"/>
<ellipse cx="1249.8" cy="1207.7" rx="14.6" ry="20" fill="#ffc436" transform="rotate(25 1249.8 1207.7)"/>
<ellipse cx="1249.6" cy="1207.7" rx="13.6" ry="18.7" fill="#fdcb30" transform="rotate(25 1249.6 1207.7)"/>
<ellipse cx="1249.5" cy="1207.7" rx="12.6" ry="17.3" fill="#fad22a" transform="rotate(25 1249.5 1207.7)"/>
<ellipse cx="1249.3" cy="1207.7" rx="11.6" ry="16" fill="#f7d925" transform="rotate(25 1249.3 1207.7)"/>
<ellipse cx="1249.2" cy="1207.7" rx="10.5" ry="14.7" fill="#f5e11f" transform="rotate(25 1249.2 1207.7)"/>
<ellipse cx="1249.1" cy="1207.7" rx="8.7" ry="12.2" fill="#f5e919" transform="rotate(25 1249.1 1207.7)"/>
<ellipse cx="1249.1" cy="1207.7" rx="3.7" ry="5.1" fill="#f6f313" transform="rotate(25 1249.1 1207.7)"/>
<g transform="translate(1073.5 979.0) scale(0.5)" fill="none" stroke="#fff" stroke-linecap="round">
<path d="M216 444h0M227 376h0M232 403h0M256 330h0M257 318h0M295 308h0M386 571h0M398 327h0M428 322h0M438 391h0M439 370h0M446 371h0M446 502h0M450 496h0M456 395h0" stroke-width="3"/>
<path d="M222 462h0M410 554h0M415 329h0M462 441h0" stroke-width="5"/>
</g>
<path d="M1155.3 979.0v11M1155.3 1304.7v-11M1237.2 979.0v11M1237.2 1304.7v-11M1319 979.0v11M1319 1304.7v-11M1073.5 1060.4h11M1400.8 1060.4h-11M1073.5 1141.8h11M1400.8 1141.8h-11M1073.5 1223.3h11M1400.8 1223.3h-11" stroke="#3c3c3c" stroke-width="1.7" fill="none"/>
<path d="M1237.2 979.0V1304.7M1073.5 1141.8H1400.8" stroke="#2b8cc6" stroke-width="1.1" fill="none"/>
<path d="M1237.2 979.0V1304.7M1073.5 1141.8H1400.8" stroke="#2b8cc6" stroke-width="1.1" fill="none" opacity="0.45" style="mix-blend-mode:multiply"/>
<rect x="1073.5" y="979.0" width="327.3" height="325.7" fill="none" stroke="#3c3c3c" stroke-width="1.7"/>
</g>
<g>
<g transform="translate(1413.6 979.0) scale(0.5)" fill="none" stroke-width="9.3" stroke-linecap="round">
<path d="M36 501h0M41 360h0M41 557h0M51 470h0M55 441h0M79 447h0M88 395h0M89 460h0M91 457h0M97 464h0M110 430h0M110 473h0M111 415h0M112 435h0M117 432h0M118 419h0M118 460h0M120 420h0M122 464h0M122 473h0M122 526h0M123 458h0M125 549h0M127 486h0M127 511h0M132 475h0M133 565h0M135 486h0M135 508h0M137 361h0M138 494h0M139 254h0M141 352h0M144 511h0M145 333h0M149 499h0M152 328h0M152 503h0M155 326h0M161 304h0M167 278h0M175 299h0M182 540h0M183 537h0M184 316h0M185 538h0M188 309h0M191 307h0M192 538h0M196 266h0M196 289h0M201 188h0M204 642h0M207 145h0M207 561h0M208 287h0M211 289h0M216 275h0M216 279h0M218 284h0M219 242h0M220 567h0M226 273h0M238 577h0M239 560h0M242 223h0M256 277h0M274 572h0M278 275h0M278 580h0M283 204h0M283 268h0M291 577h0M293 589h0M295 262h0M299 265h0M313 233h0M316 199h0M316 602h0M319 269h0M319 577h0M320 254h0M324 263h0M329 274h0M338 271h0M342 274h0M343 246h0M348 227h0M348 269h0M350 255h0M353 274h0M355 271h0M359 269h0M362 605h0M365 235h0M367 574h0M370 266h0M371 588h0M376 164h0M378 607h0M387 571h0M390 260h0M393 265h0M394 569h0M402 270h0M410 191h0M410 282h0M411 583h0M412 565h0M414 590h0M420 247h0M425 582h0M432 557h0M440 567h0M459 211h0M461 609h0M463 541h0M464 301h0M470 308h0M475 255h0M478 534h0M479 315h0M486 322h0M489 522h0M504 525h0M506 507h0M509 335h0M510 269h0M511 346h0M513 519h0M519 263h0M522 497h0M524 487h0M524 498h0M526 368h0M528 357h0M530 343h0M530 359h0M531 514h0M534 300h0M536 491h0M537 396h0M539 358h0M540 415h0M540 432h0M541 426h0M542 421h0M543 432h0M544 455h0M545 478h0M545 509h0M545 530h0M547 459h0M547 490h0M550 376h0M553 387h0M553 457h0M554 518h0M561 525h0M570 409h0M571 307h0M571 456h0M588 325h0" stroke="#34289c"/>
<path d="M123 442h0M124 415h0M126 418h0M127 430h0M128 392h0M128 412h0M129 397h0M131 400h0M131 454h0M132 381h0M132 455h0M138 478h0M140 373h0M142 368h0M143 484h0M147 356h0M149 361h0M152 501h0M159 507h0M164 340h0M165 335h0M202 540h0M204 542h0M209 304h0M212 547h0M234 292h0M235 556h0M321 278h0M324 573h0M340 276h0M355 573h0M369 277h0M390 566h0M408 563h0M416 292h0M422 291h0M434 295h0M435 295h0M437 552h0M441 302h0M443 549h0M470 319h0M470 531h0M473 533h0M482 329h0M485 524h0M491 335h0M492 513h0M500 510h0M501 344h0M509 352h0M510 358h0M510 492h0M512 360h0M514 353h0M518 370h0M520 475h0M528 460h0M529 467h0M531 452h0M532 406h0M534 415h0M535 427h0M537 409h0" stroke="#33299f"/>
<path d="M130 429h0M132 417h0M132 422h0M133 436h0M134 422h0M134 426h0M134 437h0M135 398h0M136 391h0M139 453h0M145 374h0M147 481h0M149 483h0M162 351h0M162 357h0M174 337h0M177 518h0M178 334h0M179 516h0M180 335h0M191 327h0M193 327h0M195 324h0M200 534h0M202 315h0M213 541h0M215 312h0M218 306h0M218 309h0M222 547h0M235 303h0M243 554h0M249 297h0M257 558h0M260 562h0M271 288h0M274 564h0M283 290h0M284 286h0M293 285h0M297 283h0M305 567h0M314 570h0M318 284h0M331 284h0M336 284h0M340 285h0M346 285h0M348 570h0M354 284h0M365 569h0M381 286h0M392 289h0M392 561h0M400 294h0M403 295h0M406 293h0M411 558h0M412 555h0M415 299h0M417 296h0M422 296h0M432 303h0M440 306h0M443 307h0M448 308h0M449 543h0M452 540h0M457 316h0M459 536h0M468 324h0M469 322h0M471 525h0M481 336h0M489 345h0M490 509h0M498 499h0M501 356h0M502 495h0M503 493h0M504 496h0M506 362h0M513 365h0M516 480h0M520 386h0M520 474h0M523 459h0M525 415h0M526 436h0M527 434h0M528 415h0M528 449h0M529 419h0M530 416h0M530 432h0" stroke="#312ba5"/>
<path d="M138 411h0M139 417h0M140 411h0M140 425h0M140 439h0M142 413h0M142 454h0M143 408h0M143 446h0M144 393h0M144 395h0M144 438h0M145 442h0M146 468h0M147 391h0M149 383h0M154 375h0M159 364h0M162 367h0M163 490h0M163 495h0M164 358h0M172 350h0M174 507h0M175 348h0M176 507h0M183 337h0M183 516h0M187 332h0M191 520h0M195 330h0M196 328h0M199 326h0M200 528h0M203 322h0M204 532h0M207 534h0M211 320h0M212 535h0M217 538h0M230 307h0M232 308h0M233 545h0M241 307h0M246 304h0M251 304h0M263 556h0M270 295h0M291 563h0M293 292h0M294 292h0M303 288h0M316 287h0M322 287h0M326 287h0M328 566h0M335 290h0M335 566h0M338 565h0M358 288h0M360 565h0M367 294h0M367 566h0M372 294h0M379 292h0M382 560h0M397 296h0M403 299h0M407 302h0M408 301h0M419 302h0M420 305h0M424 303h0M428 307h0M428 311h0M431 308h0M434 311h0M435 311h0M442 541h0M445 319h0M446 537h0M448 535h0M450 321h0M455 324h0M457 322h0M457 325h0M460 530h0M470 336h0M475 335h0M480 338h0M480 512h0M484 342h0M484 510h0M491 354h0M493 500h0M500 366h0M501 365h0M504 374h0M504 375h0M506 379h0M507 378h0M507 482h0M508 380h0M511 469h0M511 473h0M512 377h0M514 395h0M514 460h0M515 392h0M515 398h0M515 456h0M516 447h0M518 404h0M519 395h0M519 406h0M519 437h0M520 399h0M521 402h0M521 422h0M521 450h0M523 417h0M524 426h0" stroke="#2e31af"/>
<path d="M146 435h0M146 443h0M148 434h0M149 414h0M149 422h0M150 457h0M151 418h0M151 447h0M152 441h0M152 446h0M155 395h0M155 397h0M156 472h0M158 476h0M160 379h0M160 473h0M162 479h0M165 375h0M165 488h0M166 366h0M168 487h0M169 495h0M171 492h0M178 351h0M180 508h0M183 511h0M184 505h0M186 343h0M186 347h0M186 348h0M190 516h0M193 344h0M195 338h0M195 521h0M197 336h0M199 334h0M200 335h0M200 520h0M203 525h0M204 524h0M205 333h0M206 332h0M206 526h0M207 327h0M207 331h0M213 532h0M213 533h0M215 534h0M217 322h0M217 533h0M224 538h0M227 315h0M234 543h0M235 543h0M237 316h0M237 317h0M239 543h0M240 544h0M241 544h0M244 548h0M250 310h0M255 551h0M262 307h0M264 304h0M265 554h0M266 301h0M271 556h0M272 555h0M276 300h0M277 556h0M295 561h0M296 560h0M297 559h0M297 560h0M300 561h0M301 296h0M304 294h0M304 562h0M306 295h0M316 296h0M319 296h0M327 564h0M328 562h0M329 564h0M332 294h0M333 294h0M334 296h0M334 297h0M335 564h0M338 293h0M338 295h0M347 295h0M355 296h0M357 295h0M357 560h0M359 296h0M360 562h0M364 559h0M366 560h0M369 558h0M372 301h0M373 300h0M376 301h0M381 558h0M392 305h0M392 554h0M396 556h0M398 555h0M404 551h0M407 309h0M409 307h0M410 549h0M413 307h0M418 547h0M420 310h0M421 312h0M424 314h0M427 315h0M428 543h0M429 318h0M432 539h0M433 321h0M436 539h0M437 317h0M437 538h0M439 318h0M439 535h0M439 538h0M444 320h0M445 326h0M448 324h0M449 328h0M450 529h0M450 533h0M453 329h0M455 527h0M461 525h0M464 337h0M470 339h0M472 340h0M474 510h0M482 507h0M483 356h0M484 499h0M485 499h0M487 501h0M489 500h0M491 367h0M492 489h0M493 368h0M493 489h0M495 367h0M497 367h0M498 479h0M499 378h0M499 478h0M501 375h0M501 485h0M505 384h0M505 385h0M505 468h0M506 465h0M507 392h0M507 466h0M508 389h0M508 467h0M509 392h0M509 395h0M510 398h0M510 448h0M510 460h0M511 391h0M511 433h0M511 451h0M511 457h0M513 406h0M513 429h0M513 445h0M513 454h0M514 412h0M516 412h0M517 428h0" stroke="#2c37b9"/>
<path d="M154 418h0M156 429h0M156 453h0M157 401h0M157 454h0M158 407h0M158 461h0M159 408h0M159 429h0M160 408h0M160 426h0M160 463h0M161 410h0M162 400h0M162 405h0M162 409h0M162 459h0M164 475h0M166 390h0M166 464h0M166 472h0M166 477h0M171 484h0M172 372h0M176 492h0M178 364h0M178 373h0M178 487h0M180 492h0M181 365h0M183 500h0M184 363h0M188 353h0M190 506h0M191 505h0M194 510h0M196 351h0M199 348h0M204 520h0M210 523h0M211 335h0M211 336h0M211 526h0M214 331h0M217 526h0M220 329h0M221 328h0M225 532h0M227 327h0M229 327h0M229 537h0M233 320h0M233 325h0M236 319h0M236 323h0M236 324h0M241 317h0M241 319h0M241 320h0M243 316h0M243 542h0M245 544h0M246 320h0M247 544h0M248 315h0M254 317h0M254 545h0M258 315h0M259 309h0M260 309h0M263 311h0M263 550h0M265 312h0M265 549h0M266 309h0M268 307h0M270 310h0M270 312h0M275 554h0M281 303h0M283 554h0M285 302h0M285 303h0M285 308h0M285 556h0M287 303h0M297 304h0M298 303h0M305 300h0M305 556h0M308 302h0M309 301h0M312 560h0M313 301h0M316 299h0M320 560h0M321 300h0M321 302h0M323 303h0M325 298h0M325 561h0M328 558h0M331 303h0M339 559h0M340 560h0M343 559h0M349 301h0M351 559h0M352 557h0M357 303h0M357 558h0M358 303h0M358 557h0M360 305h0M366 301h0M368 555h0M368 556h0M370 301h0M373 304h0M373 306h0M375 554h0M381 308h0M392 551h0M394 308h0M394 552h0M396 550h0M398 310h0M401 311h0M402 310h0M409 546h0M410 311h0M415 313h0M420 541h0M421 322h0M422 319h0M422 541h0M424 318h0M427 324h0M427 537h0M431 537h0M432 539h0M433 535h0M435 324h0M435 534h0M441 327h0M445 527h0M446 334h0M450 337h0M450 528h0M451 334h0M451 524h0M452 334h0M452 340h0M453 522h0M455 525h0M456 342h0M457 519h0M457 521h0M459 517h0M459 519h0M461 341h0M462 342h0M462 519h0M463 344h0M464 516h0M465 346h0M466 515h0M467 510h0M470 355h0M470 508h0M471 350h0M473 350h0M476 352h0M478 360h0M478 503h0M481 361h0M483 369h0M483 498h0M484 491h0M489 378h0M489 489h0M490 482h0M490 490h0M491 378h0M491 480h0M491 481h0M493 385h0M493 386h0M495 382h0M495 478h0M496 481h0M498 395h0M498 471h0M499 382h0M500 394h0M500 461h0M500 463h0M501 393h0M501 462h0M504 453h0M504 459h0M505 410h0M505 450h0M507 405h0M507 411h0M507 426h0M507 445h0M507 457h0M508 423h0M508 441h0M509 430h0M509 437h0M509 445h0M510 418h0" stroke="#2741c2"/>
<path d="M162 426h0M162 444h0M163 420h0M163 450h0M164 406h0M164 416h0M164 421h0M165 406h0M165 421h0M165 454h0M166 405h0M166 409h0M166 411h0M166 442h0M166 449h0M166 460h0M166 465h0M167 401h0M167 402h0M169 400h0M169 405h0M169 465h0M170 464h0M171 465h0M172 387h0M172 390h0M172 392h0M173 472h0M175 479h0M176 390h0M176 391h0M177 376h0M177 378h0M180 373h0M182 487h0M182 489h0M185 365h0M186 368h0M186 490h0M187 363h0M187 369h0M187 370h0M187 491h0M188 370h0M189 362h0M189 364h0M189 500h0M190 501h0M193 356h0M193 366h0M194 360h0M194 361h0M194 499h0M197 362h0M197 507h0M198 356h0M198 505h0M199 353h0M201 350h0M201 507h0M206 516h0M208 343h0M208 512h0M211 346h0M213 346h0M215 340h0M216 338h0M219 525h0M220 526h0M225 527h0M226 333h0M226 335h0M226 527h0M231 333h0M233 334h0M233 533h0M234 327h0M234 531h0M235 326h0M235 329h0M240 536h0M243 326h0M244 322h0M245 326h0M246 536h0M248 322h0M249 323h0M254 318h0M256 318h0M256 319h0M256 320h0M261 545h0M263 545h0M268 314h0M275 313h0M276 316h0M279 551h0M282 310h0M283 311h0M285 309h0M288 314h0M289 313h0M293 308h0M294 312h0M295 552h0M295 554h0M296 307h0M303 554h0M304 307h0M307 556h0M310 554h0M312 305h0M318 310h0M321 309h0M321 556h0M326 306h0M331 306h0M331 309h0M331 555h0M335 307h0M338 308h0M341 555h0M345 310h0M346 306h0M346 308h0M348 556h0M349 555h0M349 556h0M350 310h0M351 306h0M351 310h0M351 555h0M353 310h0M353 555h0M354 309h0M355 554h0M357 554h0M362 554h0M371 310h0M374 310h0M374 311h0M375 312h0M380 553h0M386 316h0M388 549h0M391 548h0M392 316h0M393 548h0M394 547h0M397 546h0M398 546h0M399 315h0M400 547h0M401 320h0M402 546h0M404 320h0M409 322h0M413 320h0M413 542h0M420 325h0M423 326h0M424 325h0M424 536h0M427 532h0M428 331h0M430 533h0M431 331h0M434 332h0M435 332h0M438 336h0M439 530h0M440 527h0M440 529h0M441 339h0M442 335h0M442 528h0M444 336h0M445 340h0M445 341h0M446 524h0M446 525h0M451 344h0M452 345h0M453 521h0M455 342h0M458 348h0M458 513h0M459 511h0M464 351h0M464 358h0M464 508h0M465 508h0M466 352h0M467 360h0M468 357h0M470 504h0M473 366h0M474 359h0M474 497h0M476 367h0M476 494h0M476 495h0M480 371h0M481 372h0M483 378h0M484 489h0M485 374h0M485 376h0M485 385h0M486 383h0M487 385h0M487 480h0M487 482h0M487 486h0M488 379h0M488 387h0M488 479h0M489 382h0M489 385h0M489 474h0M491 391h0M492 466h0M492 469h0M492 473h0M492 477h0M493 396h0M493 397h0M493 463h0M493 469h0M494 390h0M495 461h0M498 400h0M498 457h0M499 424h0M499 428h0M499 434h0M499 435h0M499 444h0M499 460h0M500 405h0M500 419h0M501 415h0M501 425h0M502 444h0M503 433h0" stroke="#214ccc"/>
<path d="M169 421h0M169 434h0M169 440h0M169 441h0M170 423h0M170 435h0M170 451h0M170 454h0M171 420h0M171 448h0M172 406h0M172 412h0M172 423h0M172 432h0M172 437h0M172 440h0M172 454h0M173 414h0M173 435h0M173 437h0M173 442h0M174 412h0M174 458h0M174 462h0M175 405h0M175 449h0M176 395h0M176 414h0M176 445h0M176 466h0M177 408h0M177 412h0M177 462h0M178 391h0M178 393h0M179 396h0M179 465h0M180 466h0M181 396h0M182 386h0M182 474h0M183 385h0M183 396h0M183 482h0M184 382h0M184 478h0M185 382h0M185 388h0M186 377h0M187 382h0M187 482h0M190 485h0M192 369h0M193 375h0M194 367h0M194 377h0M195 367h0M196 366h0M196 372h0M197 363h0M199 367h0M200 364h0M201 503h0M204 365h0M205 362h0M205 504h0M207 511h0M210 511h0M211 354h0M211 511h0M213 351h0M214 347h0M214 513h0M215 348h0M216 517h0M219 516h0M219 520h0M221 343h0M221 350h0M223 347h0M224 342h0M224 522h0M225 342h0M227 339h0M227 340h0M227 342h0M229 526h0M230 338h0M230 523h0M233 334h0M233 340h0M234 525h0M235 334h0M237 334h0M237 338h0M239 333h0M240 332h0M244 330h0M244 331h0M245 330h0M245 331h0M245 333h0M251 535h0M252 538h0M253 330h0M254 331h0M254 536h0M255 537h0M256 540h0M257 327h0M259 539h0M261 540h0M262 324h0M264 328h0M265 321h0M268 542h0M268 544h0M276 545h0M277 546h0M284 321h0M287 547h0M291 320h0M292 317h0M292 319h0M293 550h0M294 549h0M295 549h0M297 319h0M299 313h0M299 550h0M301 318h0M302 314h0M302 315h0M302 317h0M303 312h0M303 316h0M304 313h0M304 317h0M304 552h0M306 317h0M308 316h0M309 312h0M309 314h0M310 311h0M310 316h0M312 311h0M312 552h0M313 316h0M315 312h0M315 316h0M315 551h0M318 551h0M319 316h0M320 315h0M322 311h0M324 312h0M324 313h0M324 315h0M327 552h0M332 311h0M332 313h0M345 314h0M347 313h0M349 312h0M349 316h0M350 311h0M352 316h0M354 551h0M357 312h0M357 316h0M358 311h0M358 316h0M359 550h0M360 317h0M362 312h0M365 318h0M370 314h0M373 315h0M374 315h0M376 318h0M382 316h0M382 545h0M391 319h0M391 543h0M392 543h0M394 319h0M398 541h0M401 323h0M404 323h0M405 541h0M410 329h0M410 537h0M411 327h0M412 327h0M412 537h0M416 329h0M419 330h0M419 334h0M426 334h0M426 337h0M427 529h0M429 339h0M430 530h0M431 341h0M432 335h0M434 336h0M435 342h0M437 340h0M440 345h0M442 348h0M443 341h0M443 348h0M443 520h0M444 517h0M446 520h0M447 350h0M450 513h0M450 515h0M451 347h0M455 510h0M457 358h0M458 354h0M459 508h0M459 509h0M461 364h0M463 504h0M464 360h0M464 504h0M467 498h0M468 369h0M468 498h0M468 501h0M469 371h0M471 371h0M471 493h0M472 488h0M473 371h0M475 374h0M475 488h0M476 487h0M476 488h0M477 489h0M478 377h0M479 383h0M479 387h0M480 384h0M480 483h0M480 484h0M481 479h0M482 391h0M482 394h0M482 479h0M482 482h0M483 479h0M484 477h0M485 391h0M485 470h0M486 404h0M486 472h0M487 403h0M487 462h0M487 467h0M488 393h0M488 455h0M488 458h0M488 466h0M489 402h0M489 468h0M490 406h0M490 407h0M490 419h0M490 455h0M490 460h0M491 399h0M491 438h0M491 452h0M491 460h0M492 411h0M492 420h0M492 458h0M493 420h0M493 433h0M493 441h0M493 453h0M493 454h0M494 425h0M496 425h0M496 429h0M496 444h0" stroke="#1a5ad4"/>
<path d="M175 428h0M175 430h0M176 433h0M177 414h0M177 424h0M178 440h0M178 457h0M179 412h0M179 415h0M179 421h0M179 430h0M179 448h0M180 404h0M180 459h0M181 458h0M182 410h0M184 470h0M185 468h0M187 389h0M187 391h0M188 476h0M188 477h0M192 481h0M195 379h0M197 378h0M200 494h0M201 494h0M202 497h0M203 368h0M209 365h0M211 360h0M211 362h0M213 360h0M229 347h0M230 347h0M231 521h0M233 343h0M234 525h0M241 529h0M250 335h0M256 535h0M269 539h0M270 326h0M271 328h0M275 326h0M278 543h0M279 326h0M290 546h0M292 323h0M296 320h0M300 319h0M302 548h0M310 549h0M314 549h0M320 316h0M322 550h0M337 317h0M338 550h0M342 317h0M344 317h0M345 318h0M350 318h0M358 319h0M360 319h0M360 548h0M361 549h0M370 322h0M370 547h0M380 323h0M380 544h0M388 543h0M393 325h0M393 327h0M399 330h0M401 538h0M412 533h0M414 334h0M417 335h0M420 338h0M423 528h0M430 341h0M433 344h0M434 343h0M434 346h0M437 346h0M437 348h0M441 517h0M449 358h0M452 357h0M452 360h0M453 507h0M457 363h0M458 502h0M459 367h0M460 500h0M461 368h0M464 496h0M464 499h0M466 373h0M468 492h0M470 379h0M473 484h0M475 387h0M476 387h0M476 483h0M478 387h0M482 467h0M483 462h0M483 465h0M484 405h0M487 411h0M487 421h0M487 452h0M488 453h0M489 429h0M489 447h0" stroke="#126add"/>
</g>
<ellipse cx="1580.1" cy="1196" rx="77.9" ry="58.4" fill="#0f77db"/>
<ellipse cx="1580.1" cy="1196.4" rx="75.2" ry="56.2" fill="#1481d5"/>
<ellipse cx="1580.1" cy="1196.9" rx="72.5" ry="53.9" fill="#1487d3"/>
<ellipse cx="1580.1" cy="1197.3" rx="69.8" ry="51.7" fill="#118dd2"/>
<ellipse cx="1580.1" cy="1197.8" rx="67.2" ry="49.5" fill="#0c94d2"/>
<ellipse cx="1580.1" cy="1198.7" rx="64.2" ry="47.5" fill="#089ad0"/>
<ellipse cx="1580.1" cy="1200" rx="61.1" ry="45.6" fill="#069fce"/>
<ellipse cx="1580.1" cy="1201.2" rx="58" ry="43.8" fill="#06a4ca"/>
<ellipse cx="1580.1" cy="1202.5" rx="54.9" ry="41.9" fill="#06a7c5"/>
<ellipse cx="1580.1" cy="1203.7" rx="51.8" ry="40" fill="#09abbf"/>
<ellipse cx="1580.1" cy="1204.9" rx="48.7" ry="38.2" fill="#0eaeba"/>
<ellipse cx="1580.1" cy="1206" rx="46.2" ry="36.6" fill="#17b1b3"/>
<ellipse cx="1580.1" cy="1206.6" rx="44.6" ry="35.3" fill="#21b4ac"/>
<ellipse cx="1580.1" cy="1207.2" rx="43.1" ry="34.1" fill="#2cb7a5"/>
<ellipse cx="1580.1" cy="1207.8" rx="41.5" ry="32.8" fill="#39b99d"/>
<ellipse cx="1580.1" cy="1208.4" rx="40" ry="31.6" fill="#46bb95"/>
<ellipse cx="1580.1" cy="1209.1" rx="38.4" ry="30.4" fill="#55bd8d"/>
<ellipse cx="1580.1" cy="1209.7" rx="36.9" ry="29.1" fill="#65be86"/>
<ellipse cx="1580.1" cy="1210.3" rx="35.3" ry="27.9" fill="#74bf7f"/>
<ellipse cx="1580.1" cy="1210.9" rx="33.8" ry="26.6" fill="#83bf79"/>
<ellipse cx="1580.1" cy="1211.5" rx="32.2" ry="25.4" fill="#91bf73"/>
<ellipse cx="1580.1" cy="1212.2" rx="30.7" ry="24.2" fill="#9ebe6e"/>
<ellipse cx="1580.1" cy="1212.8" rx="29.1" ry="22.9" fill="#aabe69"/>
<ellipse cx="1580.1" cy="1213.4" rx="27.6" ry="21.7" fill="#b6bd64"/>
<ellipse cx="1580.1" cy="1213.7" rx="26.3" ry="20.6" fill="#c1bc60"/>
<ellipse cx="1580.1" cy="1213.9" rx="25.1" ry="19.6" fill="#ccbb5b"/>
<ellipse cx="1580.1" cy="1214.1" rx="23.8" ry="18.6" fill="#d7ba57"/>
<ellipse cx="1580.1" cy="1214.3" rx="22.6" ry="17.6" fill="#e1b952"/>
<ellipse cx="1580.1" cy="1214.6" rx="21.3" ry="16.5" fill="#ecb94d"/>
<ellipse cx="1580.1" cy="1214.8" rx="20.1" ry="15.5" fill="#f6ba46"/>
<ellipse cx="1580.1" cy="1215" rx="18.9" ry="14.5" fill="#fdbe3e"/>
<ellipse cx="1580.1" cy="1215.2" rx="17.6" ry="13.5" fill="#ffc436"/>
<ellipse cx="1580.1" cy="1215.4" rx="16.4" ry="12.4" fill="#fdcb30"/>
<ellipse cx="1580.1" cy="1215.6" rx="15.1" ry="11.4" fill="#fad22a"/>
<ellipse cx="1580.1" cy="1215.9" rx="13.9" ry="10.4" fill="#f7d925"/>
<ellipse cx="1580.1" cy="1216.1" rx="12.7" ry="9.4" fill="#f5e11f"/>
<ellipse cx="1580.1" cy="1216.2" rx="10.4" ry="7.6" fill="#f5e919"/>
<ellipse cx="1580.1" cy="1216.2" rx="4.4" ry="3.2" fill="#f6f313"/>
<g transform="translate(1413.6 979.0) scale(0.5)" fill="none" stroke="#fff" stroke-linecap="round">
<path d="M270 536h0M306 551h0M371 541h0M371 543h0M380 351h0M468 385h0M469 482h0M485 457h0" stroke-width="3"/>
<path d="M203 471h0M281 326h0M335 542h0M351 544h0M382 542h0M421 345h0M422 347h0M464 423h0M483 412h0" stroke-width="5"/>
<path d="M335 326h0M449 490h0" stroke-width="7"/>
</g>
<path d="M1495.5 979.0v11M1495.5 1304.7v-11M1577.4 979.0v11M1577.4 1304.7v-11M1659.4 979.0v11M1659.4 1304.7v-11M1413.6 1060.4h11M1741.3 1060.4h-11M1413.6 1141.8h11M1741.3 1141.8h-11M1413.6 1223.3h11M1741.3 1223.3h-11" stroke="#3c3c3c" stroke-width="1.7" fill="none"/>
<path d="M1577.4 979.0V1304.7M1413.6 1141.8H1741.3" stroke="#2b8cc6" stroke-width="1.1" fill="none"/>
<path d="M1577.4 979.0V1304.7M1413.6 1141.8H1741.3" stroke="#2b8cc6" stroke-width="1.1" fill="none" opacity="0.45" style="mix-blend-mode:multiply"/>
<rect x="1413.6" y="979.0" width="327.7" height="325.7" fill="none" stroke="#3c3c3c" stroke-width="1.7"/>
</g>
<text transform="translate(225.6 561.2) scale(0.9174 1)" font-size="31.61" text-anchor="middle">20PT</text>
<text transform="translate(554.6 563.5) scale(0.9174 1)" font-size="31.61" text-anchor="middle">25PT</text>
<text transform="translate(893.2 564.4) scale(0.9174 1)" font-size="31.61" text-anchor="middle">30PT</text>
<text transform="translate(1237 565.7) scale(0.9174 1)" font-size="31.61" text-anchor="middle">35PT</text>
<text transform="translate(1574.6 562.5) scale(0.9174 1)" font-size="31.61" text-anchor="middle">45PT</text>
<text transform="translate(0.8 555) scale(0.9174 1)" font-size="38.7" font-weight="bold">c</text>
<path d="M17.1 890.8V944.0H70.8" stroke="#000" stroke-width="2.6" fill="none"/><path d="M17.1 879l-7.0 13.8h14z" fill="#000"/><path d="M82.6 944.0l-13.8 -7.0v14z" fill="#000"/>
<path d="M18.1 1287.6V1341H72.2" stroke="#000" stroke-width="2.6" fill="none"/><path d="M18.1 1275.8l-7.0 13.8h14z" fill="#000"/><path d="M84 1341l-13.8 -7.0v14z" fill="#000"/>
<text transform="translate(108.5 954.3) scale(0.9725 1)" font-size="31.61">[100]<tspan font-size="20" dy="8">p</tspan></text>
<text transform="translate(102.7 1353) scale(0.9725 1)" font-size="31.61">[100]<tspan font-size="20" dy="8">p</tspan></text>
<text transform="translate(27.5 869) rotate(-90) scale(0.9908 1)" font-size="31.61">[010]<tspan font-size="20" dy="8">p</tspan></text>
<text transform="translate(27.5 1265.3) rotate(-90) scale(0.9908 1)" font-size="31.61">[001]<tspan font-size="20" dy="8">p</tspan></text>
<path d="M390.6 1349.5V1358.8H472.3V1349.5" stroke="#3c3c3c" stroke-width="1.4" fill="none"/>
<text transform="translate(433 1397.4) scale(0.945 1)" font-size="32.7" text-anchor="middle">0.4 Å</text>
<defs><linearGradient id="cb" x1="0" x2="1" y1="0" y2="0">
<stop offset="0" stop-color="#352a87"/>
<stop offset="0.048" stop-color="#353dad"/>
<stop offset="0.095" stop-color="#2053d4"/>
<stop offset="0.143" stop-color="#0268e1"/>
<stop offset="0.19" stop-color="#0d75dc"/>
<stop offset="0.238" stop-color="#1481d6"/>
<stop offset="0.286" stop-color="#108ed2"/>
<stop offset="0.333" stop-color="#079ccf"/>
<stop offset="0.381" stop-color="#06a7c6"/>
<stop offset="0.429" stop-color="#0faeb9"/>
<stop offset="0.476" stop-color="#25b5a9"/>
<stop offset="0.524" stop-color="#42bb98"/>
<stop offset="0.571" stop-color="#65be86"/>
<stop offset="0.619" stop-color="#87bf77"/>
<stop offset="0.667" stop-color="#a5be6b"/>
<stop offset="0.714" stop-color="#c0bc60"/>
<stop offset="0.762" stop-color="#d9ba56"/>
<stop offset="0.81" stop-color="#f1b94a"/>
<stop offset="0.857" stop-color="#ffc337"/>
<stop offset="0.905" stop-color="#fad32a"/>
<stop offset="0.952" stop-color="#f5e41d"/>
<stop offset="1" stop-color="#f9fb0e"/>
<stop offset="1" stop-color="#f9fb0e"/>
</linearGradient></defs>
<rect x="879" y="1357.2" width="289.5" height="32" fill="url(#cb)" stroke="#3c3c3c" stroke-width="1.2"/>
<path d="M908 1389.2v-3M936.9 1389.2v-3M965.9 1389.2v-3M994.8 1389.2v-3M1023.8 1389.2v-3M1052.7 1389.2v-3M1081.7 1389.2v-3M1110.6 1389.2v-3M1139.5 1389.2v-3" stroke="#3c3c3c" stroke-width="1"/>
<text transform="translate(859 1382.5) scale(0.9679 1)" font-size="36.52" text-anchor="end">Low density</text>
<text transform="translate(1188.5 1382.5) scale(0.9633 1)" font-size="36.52">High density</text>
</g>
</svg></body></html>
